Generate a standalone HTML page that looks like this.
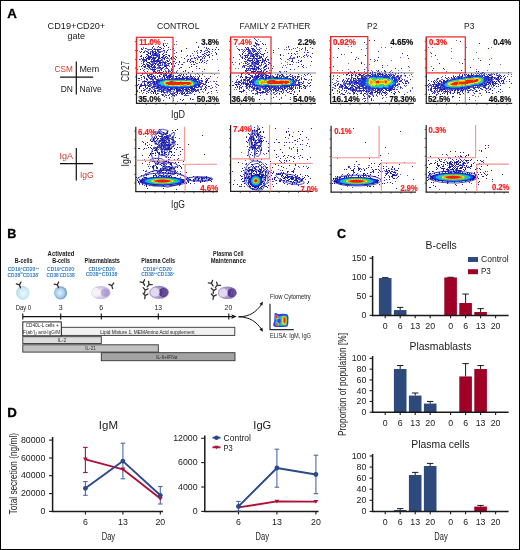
<!DOCTYPE html>
<html><head><meta charset="utf-8"><title>Figure</title>
<style>
html,body{margin:0;padding:0;background:#fff;}
#fig{will-change:transform;position:relative;width:520px;height:550px;box-sizing:border-box;border:1px solid #000;overflow:hidden;background:#fff;}
#fig svg{position:absolute;left:-1px;top:-1px;}
text{font-family:"Liberation Sans", sans-serif;}
</style></head>
<body><div id="fig"><svg width="520" height="550" viewBox="0 0 520 550" font-family='"Liberation Sans", sans-serif'>
<text x="7.2" y="17.9" font-size="12.6" font-weight="bold" textLength="9.6" lengthAdjust="spacingAndGlyphs" fill="#000" stroke="#000" stroke-width="0.3">A</text>
<text x="7.3" y="237.6" font-size="12.6" font-weight="bold" fill="#000" stroke="#000" stroke-width="0.3">B</text>
<text x="337.0" y="237.6" font-size="12.6" font-weight="bold" fill="#000" stroke="#000" stroke-width="0.3">C</text>
<text x="7.3" y="416.8" font-size="12.6" font-weight="bold" textLength="9.6" lengthAdjust="spacingAndGlyphs" fill="#000" stroke="#000" stroke-width="0.3">D</text>
<text x="76.4" y="28.9" font-size="9" text-anchor="middle" textLength="57.6" lengthAdjust="spacingAndGlyphs" fill="#1a1a1a">CD19+CD20+</text>
<text x="76.2" y="38.7" font-size="9" text-anchor="middle" fill="#1a1a1a">gate</text>
<line x1="76.3" y1="61.6" x2="76.3" y2="94.4" stroke="#111" stroke-width="1.2"/>
<line x1="60.1" y1="77.2" x2="93.2" y2="77.2" stroke="#111" stroke-width="1.2"/>
<text x="72.9" y="71.6" font-size="9" text-anchor="end" textLength="18.3" lengthAdjust="spacingAndGlyphs" fill="#cc3b2a">CSM</text>
<text x="79.4" y="71.6" font-size="9" textLength="19.8" lengthAdjust="spacingAndGlyphs" fill="#1a1a1a">Mem</text>
<text x="72.9" y="91.6" font-size="9" text-anchor="end" textLength="12.2" lengthAdjust="spacingAndGlyphs" fill="#1a1a1a">DN</text>
<text x="79.4" y="91.6" font-size="9" textLength="22.4" lengthAdjust="spacingAndGlyphs" fill="#1a1a1a">Na&#239;ve</text>
<line x1="76.3" y1="147.9" x2="76.3" y2="180.6" stroke="#111" stroke-width="1.2"/>
<line x1="60.0" y1="163.6" x2="93.0" y2="163.6" stroke="#111" stroke-width="1.2"/>
<text x="73.0" y="158.5" font-size="9.5" text-anchor="end" textLength="13.5" lengthAdjust="spacingAndGlyphs" fill="#cc3b2a">IgA</text>
<text x="80.0" y="177.7" font-size="9.5" textLength="13.7" lengthAdjust="spacingAndGlyphs" fill="#cc3b2a">IgG</text>
<text x="178.2" y="28.9" font-size="9.6" text-anchor="middle" textLength="42.6" lengthAdjust="spacingAndGlyphs" fill="#1a1a1a">CONTROL</text>
<text x="275.0" y="28.8" font-size="9.6" text-anchor="middle" textLength="70.8" lengthAdjust="spacingAndGlyphs" fill="#1a1a1a">FAMILY 2 FATHER</text>
<text x="372.2" y="28.8" font-size="9.6" text-anchor="middle" textLength="10.4" lengthAdjust="spacingAndGlyphs" fill="#1a1a1a">P2</text>
<text x="469.2" y="28.8" font-size="9.6" text-anchor="middle" textLength="10.4" lengthAdjust="spacingAndGlyphs" fill="#1a1a1a">P3</text>
<text x="128.6" y="71.4" font-size="10.5" text-anchor="middle" textLength="20.6" lengthAdjust="spacingAndGlyphs" transform="rotate(-90 128.6 71.4)" fill="#1a1a1a">CD27</text>
<text x="178.0" y="118.2" font-size="10" text-anchor="middle" textLength="14.0" lengthAdjust="spacingAndGlyphs" fill="#1a1a1a">IgD</text>
<text x="128.8" y="160.0" font-size="10" text-anchor="middle" textLength="13.0" lengthAdjust="spacingAndGlyphs" transform="rotate(-90 128.8 160.0)" fill="#1a1a1a">IgA</text>
<text x="178.0" y="207.5" font-size="10" text-anchor="middle" textLength="13.8" lengthAdjust="spacingAndGlyphs" fill="#1a1a1a">IgG</text>
<defs><filter id="bl" x="-20%" y="-40%" width="140%" height="180%"><feGaussianBlur stdDeviation="0.9"/></filter><filter id="bl2" x="-20%" y="-40%" width="140%" height="180%"><feGaussianBlur stdDeviation="0.5"/></filter><filter id="sd" x="-5%" y="-5%" width="110%" height="110%"><feGaussianBlur stdDeviation="0.35"/></filter></defs>
<g filter="url(#sd)"><path d="M164 40.5h1M176 41.5h1M165 43.5h1M167 43.5h1M174 44.5h1M176 44.5h1M198 46.5h1M143 47.5h1M157 47.5h1M159 47.5h1M204 47.5h1M206 47.5h1M143 48.5h1M146 48.5h1M152 48.5h1M154 48.5h1M141 49.5h1M147 49.5h1M148 49.5h1M149 49.5h1M150 49.5h1M153 49.5h1M156 49.5h1M168 49.5h1M170 49.5h1M172 49.5h1M207 49.5h1M209 49.5h1M137 50.5h1M145 50.5h1M148 50.5h1M155 50.5h1M158 50.5h1M174 50.5h1M197 50.5h1M205 50.5h1M206 50.5h1M207 50.5h1M139 51.5h1M147 51.5h1M150 51.5h1M151 51.5h1M153 51.5h1M154 51.5h1M157 51.5h1M159 51.5h1M160 51.5h1M161 51.5h1M162 51.5h1M164 51.5h1M166 51.5h1M194 51.5h1M196 51.5h1M201 51.5h1M209 51.5h1M212 51.5h1M144 52.5h1M147 52.5h1M158 52.5h1M160 52.5h1M164 52.5h1M197 52.5h1M206 52.5h1M149 53.5h1M152 53.5h1M153 53.5h1M156 53.5h1M157 53.5h1M158 53.5h1M174 53.5h1M192 53.5h1M197 53.5h1M205 53.5h1M211 53.5h1M153 54.5h1M157 54.5h1M158 54.5h1M165 54.5h1M208 54.5h1M147 55.5h1M152 55.5h1M158 55.5h1M190 55.5h1M193 55.5h1M151 56.5h1M153 56.5h1M156 56.5h1M158 56.5h1M162 56.5h1M165 56.5h1M172 56.5h1M186 56.5h1M201 56.5h1M209 56.5h1M147 57.5h1M152 57.5h1M154 57.5h1M156 57.5h1M163 57.5h1M164 57.5h1M181 57.5h1M196 57.5h1M198 57.5h1M202 57.5h1M204 57.5h1M150 58.5h1M160 58.5h1M162 58.5h1M163 58.5h1M166 58.5h1M167 58.5h1M168 58.5h1M170 58.5h1M192 58.5h1M194 58.5h1M197 58.5h1M140 59.5h1M145 59.5h1M152 59.5h1M153 59.5h1M162 59.5h1M169 59.5h1M171 59.5h1M187 59.5h1M212 59.5h1M217 59.5h1M142 60.5h1M143 60.5h1M144 60.5h1M151 60.5h1M155 60.5h1M159 60.5h1M161 60.5h1M162 60.5h1M166 60.5h1M169 60.5h1M187 60.5h1M195 60.5h1M202 60.5h1M204 60.5h1M141 61.5h1M150 61.5h1M160 61.5h1M162 61.5h1M163 61.5h1M165 61.5h1M189 61.5h1M191 61.5h1M206 61.5h1M151 62.5h1M152 62.5h1M153 62.5h1M154 62.5h1M156 62.5h1M157 62.5h1M162 62.5h1M166 62.5h1M176 62.5h1M183 62.5h1M184 62.5h1M141 63.5h1M143 63.5h1M146 63.5h1M150 63.5h1M152 63.5h1M153 63.5h1M156 63.5h1M158 63.5h1M162 63.5h1M167 63.5h1M173 63.5h1M196 63.5h1M197 63.5h1M206 63.5h1M146 64.5h1M148 64.5h1M150 64.5h1M153 64.5h1M160 64.5h1M164 64.5h1M165 64.5h1M166 64.5h1M168 64.5h1M181 64.5h1M193 64.5h1M157 65.5h1M158 65.5h1M161 65.5h1M162 65.5h1M174 65.5h1M139 66.5h1M143 66.5h1M149 66.5h1M153 66.5h1M155 66.5h1M158 66.5h1M159 66.5h1M166 66.5h1M169 66.5h1M145 67.5h1M148 67.5h1M151 67.5h1M157 67.5h1M158 67.5h1M162 67.5h1M172 67.5h1M180 67.5h1M142 68.5h1M146 68.5h1M147 68.5h1M149 68.5h1M150 68.5h1M152 68.5h1M154 68.5h1M156 68.5h1M157 68.5h1M158 68.5h1M159 68.5h1M160 68.5h1M165 68.5h1M166 68.5h1M171 68.5h1M196 68.5h1M137 69.5h1M144 69.5h1M148 69.5h1M150 69.5h1M160 69.5h1M164 69.5h1M171 69.5h1M152 70.5h1M153 70.5h1M157 70.5h1M158 70.5h1M165 70.5h1M168 70.5h1M169 70.5h1M177 70.5h1M218 70.5h1M144 71.5h1M155 71.5h1M157 71.5h1M159 71.5h1M165 71.5h1M166 71.5h1M169 71.5h1M170 71.5h1M176 71.5h1M185 71.5h1M202 71.5h1M145 72.5h1M174 72.5h1M146 73.5h1M155 73.5h1M158 73.5h1M159 73.5h1M160 73.5h1M164 73.5h1M167 73.5h1M175 73.5h1M180 73.5h1M211 73.5h1M142 74.5h1M149 74.5h1M152 74.5h1M160 74.5h1M163 74.5h1M164 74.5h1M165 74.5h1M169 74.5h1M179 74.5h1M190 74.5h1M195 74.5h1M198 74.5h1M214 74.5h1M140 75.5h1M151 75.5h1M155 75.5h1M164 75.5h1M171 75.5h1M199 75.5h1M144 76.5h1M147 76.5h1M152 76.5h1M160 76.5h1M166 76.5h1M177 76.5h1M180 76.5h1M186 76.5h1M195 76.5h1M197 76.5h1M204 76.5h1M149 77.5h1M151 77.5h1M154 77.5h1M157 77.5h1M168 77.5h1M172 77.5h1M173 77.5h1M178 77.5h1M185 77.5h1M187 77.5h1M189 77.5h1M190 77.5h1M191 77.5h1M194 77.5h1M217 77.5h1M152 78.5h1M158 78.5h1M160 78.5h1M161 78.5h1M162 78.5h1M165 78.5h1M168 78.5h1M173 78.5h1M174 78.5h1M178 78.5h1M189 78.5h1M190 78.5h1M193 78.5h1M197 78.5h1M209 78.5h1M141 79.5h1M150 79.5h1M151 79.5h1M155 79.5h1M158 79.5h1M159 79.5h1M160 79.5h1M161 79.5h1M163 79.5h1M192 79.5h1M205 79.5h1M138 80.5h1M139 80.5h1M144 80.5h1M147 80.5h1M152 80.5h1M153 80.5h1M156 80.5h1M198 80.5h1M199 80.5h1M200 80.5h1M202 80.5h1M142 81.5h1M148 81.5h1M149 81.5h1M150 81.5h1M152 81.5h1M155 81.5h1M198 81.5h1M201 81.5h1M210 81.5h1M213 81.5h1M214 81.5h1M142 82.5h1M144 82.5h1M152 82.5h1M155 82.5h1M198 82.5h1M201 82.5h1M205 82.5h1M141 83.5h1M147 83.5h1M150 83.5h1M151 83.5h1M152 83.5h1M153 83.5h1M155 83.5h1M198 83.5h1M199 83.5h1M200 83.5h1M203 83.5h1M205 83.5h1M215 83.5h1M140 84.5h1M145 84.5h1M147 84.5h1M150 84.5h1M151 84.5h1M156 84.5h1M217 84.5h1M146 85.5h1M147 85.5h1M149 85.5h1M150 85.5h1M151 85.5h1M153 85.5h1M154 85.5h1M155 85.5h1M156 85.5h1M197 85.5h1M211 85.5h1M139 86.5h1M141 86.5h1M150 86.5h1M152 86.5h1M156 86.5h1M159 86.5h1M196 86.5h1M200 86.5h1M201 86.5h1M202 86.5h1M215 86.5h1M153 87.5h1M154 87.5h1M156 87.5h1M160 87.5h1M195 87.5h1M198 87.5h1M200 87.5h1M201 87.5h1M206 87.5h1M216 87.5h1M147 88.5h1M150 88.5h1M152 88.5h1M154 88.5h1M155 88.5h1M158 88.5h1M159 88.5h1M160 88.5h1M162 88.5h1M163 88.5h1M166 88.5h1M168 88.5h1M173 88.5h1M174 88.5h1M178 88.5h1M180 88.5h1M185 88.5h1M187 88.5h1M201 88.5h1M206 88.5h1M210 88.5h1M211 88.5h1M144 89.5h1M145 89.5h1M149 89.5h1M150 89.5h1M153 89.5h1M154 89.5h1M158 89.5h1M161 89.5h1M162 89.5h1M164 89.5h1M165 89.5h1M166 89.5h1M172 89.5h1M173 89.5h1M183 89.5h1M187 89.5h1M197 89.5h1M203 89.5h1M137 90.5h1M151 90.5h1M158 90.5h1M159 90.5h1M162 90.5h1M164 90.5h1M165 90.5h1M166 90.5h1M167 90.5h1M174 90.5h1M182 90.5h1M185 90.5h1M189 90.5h1M190 90.5h1M192 90.5h1M193 90.5h1M195 90.5h1M198 90.5h1M141 91.5h1M146 91.5h1M147 91.5h1M157 91.5h1M158 91.5h1M159 91.5h1M160 91.5h1M166 91.5h1M168 91.5h1M169 91.5h1M170 91.5h1M171 91.5h1M173 91.5h1M178 91.5h1M179 91.5h1M180 91.5h1M181 91.5h1M182 91.5h1M183 91.5h1M185 91.5h1M186 91.5h1M187 91.5h1M189 91.5h1M192 91.5h1M196 91.5h1M198 91.5h1M202 91.5h1M139 92.5h1M143 92.5h1M150 92.5h1M165 92.5h1M166 92.5h1M167 92.5h1M169 92.5h1M170 92.5h1M173 92.5h1M174 92.5h1M175 92.5h1M176 92.5h1M180 92.5h1M181 92.5h1M189 92.5h1M192 92.5h1M203 92.5h1M217 92.5h1M142 93.5h1M151 93.5h1M158 93.5h1M164 93.5h1M167 93.5h1M171 93.5h1M173 93.5h1M182 93.5h1M188 93.5h1M189 93.5h1M190 93.5h1M191 93.5h1M211 93.5h1M161 94.5h1M163 94.5h1M165 94.5h1M172 94.5h1M173 94.5h1M175 94.5h1M181 94.5h1M163 95.5h1M165 95.5h1M176 95.5h1M185 95.5h1M187 95.5h1M188 95.5h1M171 96.5h1M174 96.5h1M166 97.5h1M169 97.5h1M173 98.5h1M190 99.5h1M193 99.5h1M177 101.5h1" stroke="#6262d2" stroke-width="1"/><path d="M196 42.5h1M163 43.5h1M163 44.5h1M163 45.5h1M166 45.5h1M153 46.5h1M158 46.5h1M164 46.5h1M152 47.5h1M160 47.5h1M168 47.5h1M198 47.5h1M216 47.5h1M141 48.5h1M145 48.5h1M161 48.5h1M163 48.5h1M173 48.5h1M186 48.5h1M206 48.5h1M208 48.5h1M142 49.5h1M151 49.5h1M154 49.5h1M155 49.5h1M157 49.5h1M158 49.5h1M159 49.5h1M160 49.5h1M212 49.5h1M215 49.5h1M218 49.5h1M152 50.5h1M157 50.5h1M163 50.5h1M164 50.5h1M167 50.5h1M181 50.5h1M200 50.5h1M201 50.5h1M141 51.5h1M144 51.5h1M146 51.5h1M152 51.5h1M155 51.5h1M158 51.5h1M181 51.5h1M204 51.5h1M208 51.5h1M140 52.5h1M143 52.5h1M148 52.5h1M150 52.5h1M152 52.5h1M153 52.5h1M155 52.5h1M156 52.5h1M159 52.5h1M166 52.5h1M176 52.5h1M200 52.5h1M207 52.5h1M209 52.5h1M215 52.5h1M148 53.5h1M150 53.5h1M154 53.5h1M155 53.5h1M163 53.5h1M204 53.5h1M216 53.5h1M146 54.5h1M147 54.5h1M150 54.5h1M152 54.5h1M154 54.5h1M155 54.5h1M156 54.5h1M159 54.5h1M162 54.5h1M166 54.5h1M202 54.5h1M203 54.5h1M206 54.5h1M209 54.5h1M216 54.5h1M141 55.5h1M148 55.5h1M151 55.5h1M153 55.5h1M154 55.5h1M155 55.5h1M156 55.5h1M157 55.5h1M159 55.5h1M163 55.5h1M164 55.5h1M168 55.5h1M169 55.5h1M187 55.5h1M197 55.5h1M204 55.5h1M207 55.5h1M208 55.5h1M212 55.5h1M140 56.5h1M141 56.5h1M146 56.5h1M148 56.5h1M149 56.5h1M150 56.5h1M157 56.5h1M159 56.5h1M163 56.5h1M166 56.5h1M169 56.5h1M175 56.5h1M190 56.5h1M198 56.5h1M200 56.5h1M203 56.5h1M205 56.5h1M143 57.5h1M145 57.5h1M148 57.5h1M149 57.5h1M150 57.5h1M151 57.5h1M153 57.5h1M155 57.5h1M158 57.5h1M159 57.5h1M161 57.5h1M162 57.5h1M165 57.5h1M167 57.5h1M171 57.5h1M173 57.5h1M176 57.5h1M194 57.5h1M199 57.5h1M209 57.5h1M141 58.5h1M143 58.5h1M146 58.5h1M147 58.5h1M148 58.5h1M149 58.5h1M152 58.5h1M153 58.5h1M154 58.5h1M155 58.5h1M158 58.5h1M159 58.5h1M164 58.5h1M171 58.5h1M174 58.5h1M184 58.5h1M191 58.5h1M195 58.5h1M202 58.5h1M204 58.5h1M139 59.5h1M142 59.5h1M143 59.5h1M144 59.5h1M146 59.5h1M148 59.5h1M149 59.5h1M151 59.5h1M154 59.5h1M157 59.5h1M158 59.5h1M161 59.5h1M164 59.5h1M175 59.5h1M188 59.5h1M190 59.5h1M197 59.5h1M200 59.5h1M201 59.5h1M145 60.5h1M146 60.5h1M153 60.5h1M154 60.5h1M156 60.5h1M157 60.5h1M158 60.5h1M160 60.5h1M167 60.5h1M190 60.5h1M200 60.5h1M207 60.5h1M143 61.5h1M144 61.5h1M146 61.5h1M151 61.5h1M152 61.5h1M153 61.5h1M154 61.5h1M155 61.5h1M156 61.5h1M157 61.5h1M158 61.5h1M159 61.5h1M167 61.5h1M168 61.5h1M173 61.5h1M174 61.5h1M179 61.5h1M187 61.5h1M192 61.5h1M193 61.5h1M202 61.5h1M143 62.5h1M147 62.5h1M148 62.5h1M149 62.5h1M159 62.5h1M160 62.5h1M161 62.5h1M163 62.5h1M164 62.5h1M165 62.5h1M170 62.5h1M179 62.5h1M190 62.5h1M193 62.5h1M195 62.5h1M199 62.5h1M201 62.5h1M204 62.5h1M149 63.5h1M154 63.5h1M155 63.5h1M159 63.5h1M160 63.5h1M164 63.5h1M165 63.5h1M168 63.5h1M169 63.5h1M171 63.5h1M175 63.5h1M143 64.5h1M144 64.5h1M147 64.5h1M151 64.5h1M152 64.5h1M155 64.5h1M157 64.5h1M158 64.5h1M162 64.5h1M171 64.5h1M178 64.5h1M182 64.5h1M191 64.5h1M194 64.5h1M142 65.5h1M145 65.5h1M147 65.5h1M148 65.5h1M149 65.5h1M151 65.5h1M152 65.5h1M154 65.5h1M159 65.5h1M160 65.5h1M164 65.5h1M165 65.5h1M166 65.5h1M167 65.5h1M168 65.5h1M141 66.5h1M144 66.5h1M145 66.5h1M147 66.5h1M148 66.5h1M150 66.5h1M151 66.5h1M154 66.5h1M164 66.5h1M165 66.5h1M172 66.5h1M174 66.5h1M191 66.5h1M196 66.5h1M144 67.5h1M149 67.5h1M152 67.5h1M153 67.5h1M154 67.5h1M155 67.5h1M159 67.5h1M160 67.5h1M163 67.5h1M166 67.5h1M181 67.5h1M189 67.5h1M161 68.5h1M162 68.5h1M167 68.5h1M179 68.5h1M199 68.5h1M140 69.5h1M151 69.5h1M152 69.5h1M153 69.5h1M154 69.5h1M155 69.5h1M161 69.5h1M168 69.5h1M172 69.5h1M204 69.5h1M143 70.5h1M154 70.5h1M159 70.5h1M161 70.5h1M171 70.5h1M185 70.5h1M147 71.5h1M153 71.5h1M154 71.5h1M163 71.5h1M168 71.5h1M172 71.5h1M183 71.5h1M192 71.5h1M153 72.5h1M155 72.5h1M156 72.5h1M158 72.5h1M159 72.5h1M160 72.5h1M161 72.5h1M162 72.5h1M166 72.5h1M168 72.5h1M171 72.5h1M176 72.5h1M188 72.5h1M142 73.5h1M144 73.5h1M157 73.5h1M163 73.5h1M165 73.5h1M177 73.5h1M197 73.5h1M147 74.5h1M150 74.5h1M151 74.5h1M161 74.5h1M166 74.5h1M170 74.5h1M171 74.5h1M181 74.5h1M183 74.5h1M186 74.5h1M202 74.5h1M141 75.5h1M147 75.5h1M148 75.5h1M149 75.5h1M153 75.5h1M159 75.5h1M163 75.5h1M165 75.5h1M166 75.5h1M168 75.5h1M169 75.5h1M170 75.5h1M173 75.5h1M178 75.5h1M179 75.5h1M180 75.5h1M183 75.5h1M190 75.5h1M143 76.5h1M148 76.5h1M150 76.5h1M151 76.5h1M153 76.5h1M154 76.5h1M157 76.5h1M159 76.5h1M163 76.5h1M164 76.5h1M167 76.5h1M168 76.5h1M169 76.5h1M170 76.5h1M171 76.5h1M172 76.5h1M173 76.5h1M175 76.5h1M176 76.5h1M182 76.5h1M184 76.5h1M187 76.5h1M188 76.5h1M190 76.5h1M191 76.5h1M193 76.5h1M199 76.5h1M210 76.5h1M141 77.5h1M144 77.5h1M148 77.5h1M152 77.5h1M155 77.5h1M162 77.5h1M164 77.5h1M166 77.5h1M167 77.5h1M169 77.5h1M170 77.5h1M176 77.5h1M179 77.5h1M182 77.5h1M183 77.5h1M186 77.5h1M192 77.5h1M198 77.5h1M138 78.5h1M139 78.5h1M144 78.5h1M146 78.5h1M149 78.5h1M150 78.5h1M151 78.5h1M154 78.5h1M155 78.5h1M164 78.5h1M167 78.5h1M169 78.5h1M171 78.5h1M172 78.5h1M175 78.5h1M176 78.5h1M177 78.5h1M179 78.5h1M180 78.5h1M181 78.5h1M182 78.5h1M183 78.5h1M184 78.5h1M185 78.5h1M186 78.5h1M187 78.5h1M188 78.5h1M191 78.5h1M192 78.5h1M194 78.5h1M195 78.5h1M198 78.5h1M201 78.5h1M206 78.5h1M208 78.5h1M146 79.5h1M147 79.5h1M152 79.5h1M153 79.5h1M156 79.5h1M157 79.5h1M162 79.5h1M191 79.5h1M193 79.5h1M194 79.5h1M195 79.5h1M196 79.5h1M197 79.5h1M198 79.5h1M207 79.5h1M157 80.5h1M158 80.5h1M159 80.5h1M201 80.5h1M206 80.5h1M207 80.5h1M143 81.5h1M144 81.5h1M145 81.5h1M146 81.5h1M151 81.5h1M153 81.5h1M154 81.5h1M156 81.5h1M199 81.5h1M202 81.5h1M205 81.5h1M206 81.5h1M216 81.5h1M147 82.5h1M148 82.5h1M149 82.5h1M150 82.5h1M153 82.5h1M154 82.5h1M156 82.5h1M199 82.5h1M200 82.5h1M206 82.5h1M208 82.5h1M144 83.5h1M148 83.5h1M154 83.5h1M156 83.5h1M201 83.5h1M202 83.5h1M138 84.5h1M141 84.5h1M144 84.5h1M149 84.5h1M153 84.5h1M154 84.5h1M155 84.5h1M198 84.5h1M199 84.5h1M200 84.5h1M203 84.5h1M204 84.5h1M205 84.5h1M216 84.5h1M137 85.5h1M140 85.5h1M141 85.5h1M142 85.5h1M143 85.5h1M144 85.5h1M145 85.5h1M148 85.5h1M198 85.5h1M199 85.5h1M202 85.5h1M206 85.5h1M218 85.5h1M140 86.5h1M145 86.5h1M148 86.5h1M149 86.5h1M153 86.5h1M154 86.5h1M155 86.5h1M157 86.5h1M158 86.5h1M194 86.5h1M195 86.5h1M198 86.5h1M199 86.5h1M205 86.5h1M208 86.5h1M209 86.5h1M139 87.5h1M145 87.5h1M147 87.5h1M151 87.5h1M152 87.5h1M157 87.5h1M158 87.5h1M159 87.5h1M161 87.5h1M189 87.5h1M190 87.5h1M191 87.5h1M192 87.5h1M194 87.5h1M196 87.5h1M197 87.5h1M205 87.5h1M212 87.5h1M139 88.5h1M143 88.5h1M146 88.5h1M149 88.5h1M156 88.5h1M157 88.5h1M161 88.5h1M164 88.5h1M165 88.5h1M167 88.5h1M170 88.5h1M171 88.5h1M172 88.5h1M175 88.5h1M176 88.5h1M177 88.5h1M181 88.5h1M182 88.5h1M183 88.5h1M186 88.5h1M188 88.5h1M190 88.5h1M191 88.5h1M192 88.5h1M193 88.5h1M194 88.5h1M204 88.5h1M159 89.5h1M160 89.5h1M163 89.5h1M167 89.5h1M168 89.5h1M169 89.5h1M170 89.5h1M171 89.5h1M174 89.5h1M176 89.5h1M177 89.5h1M178 89.5h1M179 89.5h1M180 89.5h1M182 89.5h1M184 89.5h1M185 89.5h1M186 89.5h1M188 89.5h1M189 89.5h1M191 89.5h1M192 89.5h1M193 89.5h1M194 89.5h1M195 89.5h1M198 89.5h1M200 89.5h1M201 89.5h1M205 89.5h1M141 90.5h1M143 90.5h1M144 90.5h1M148 90.5h1M149 90.5h1M154 90.5h1M155 90.5h1M157 90.5h1M161 90.5h1M163 90.5h1M168 90.5h1M169 90.5h1M170 90.5h1M176 90.5h1M177 90.5h1M178 90.5h1M179 90.5h1M180 90.5h1M181 90.5h1M183 90.5h1M186 90.5h1M187 90.5h1M191 90.5h1M194 90.5h1M196 90.5h1M197 90.5h1M205 90.5h1M216 90.5h1M137 91.5h1M151 91.5h1M152 91.5h1M154 91.5h1M155 91.5h1M161 91.5h1M162 91.5h1M163 91.5h1M167 91.5h1M176 91.5h1M177 91.5h1M188 91.5h1M191 91.5h1M193 91.5h1M195 91.5h1M211 91.5h1M148 92.5h1M153 92.5h1M155 92.5h1M161 92.5h1M163 92.5h1M164 92.5h1M177 92.5h1M182 92.5h1M184 92.5h1M187 92.5h1M190 92.5h1M199 92.5h1M208 92.5h1M146 93.5h1M153 93.5h1M155 93.5h1M157 93.5h1M170 93.5h1M172 93.5h1M174 93.5h1M177 93.5h1M179 93.5h1M181 93.5h1M183 93.5h1M184 93.5h1M186 93.5h1M187 93.5h1M207 93.5h1M156 94.5h1M162 94.5h1M169 94.5h1M171 94.5h1M176 94.5h1M182 94.5h1M185 94.5h1M194 94.5h1M162 95.5h1M166 95.5h1M168 95.5h1M172 95.5h1M173 95.5h1M174 95.5h1M184 95.5h1M186 95.5h1M164 96.5h1M169 98.5h1M190 98.5h1M180 99.5h1M183 99.5h1M192 99.5h1M163 100.5h1M173 100.5h1M182 100.5h1" stroke="#2222ac" stroke-width="1"/><path d="M164 79.5h1M165 79.5h1M166 79.5h1M167 79.5h1M168 79.5h1M169 79.5h1M170 79.5h1M171 79.5h1M172 79.5h1M173 79.5h1M174 79.5h1M175 79.5h1M176 79.5h1M177 79.5h1M178 79.5h1M179 79.5h1M180 79.5h1M181 79.5h1M182 79.5h1M183 79.5h1M184 79.5h1M186 79.5h1M187 79.5h1M188 79.5h1M189 79.5h1M190 79.5h1M160 80.5h1M161 80.5h1M162 80.5h1M192 80.5h1M193 80.5h1M194 80.5h1M195 80.5h1M196 80.5h1M157 81.5h1M158 81.5h1M159 81.5h1M194 81.5h1M195 81.5h1M196 81.5h1M197 81.5h1M157 82.5h1M158 82.5h1M197 82.5h1M157 83.5h1M197 83.5h1M157 84.5h1M158 84.5h1M195 84.5h1M196 84.5h1M197 84.5h1M157 85.5h1M158 85.5h1M159 85.5h1M160 85.5h1M194 85.5h1M195 85.5h1M196 85.5h1M160 86.5h1M161 86.5h1M162 86.5h1M163 86.5h1M164 86.5h1M190 86.5h1M191 86.5h1M192 86.5h1M193 86.5h1M162 87.5h1M163 87.5h1M164 87.5h1M165 87.5h1M166 87.5h1M167 87.5h1M168 87.5h1M169 87.5h1M170 87.5h1M171 87.5h1M172 87.5h1M173 87.5h1M174 87.5h1M175 87.5h1M176 87.5h1M177 87.5h1M178 87.5h1M179 87.5h1M180 87.5h1M181 87.5h1M182 87.5h1M183 87.5h1M184 87.5h1M185 87.5h1M186 87.5h1M187 87.5h1M188 87.5h1M179 88.5h1" stroke="#2438d8" stroke-width="1"/><path d="M163 80.5h1M164 80.5h1M185 80.5h1M186 80.5h1M191 80.5h1M160 81.5h1M161 81.5h1M193 81.5h1M159 82.5h1M194 82.5h1M195 82.5h1M196 82.5h1M158 83.5h1M159 83.5h1M194 83.5h1M195 83.5h1M196 83.5h1M159 84.5h1M160 84.5h1M194 84.5h1M161 85.5h1M162 85.5h1M163 85.5h1M193 85.5h1M165 86.5h1M166 86.5h1M167 86.5h1M168 86.5h1M169 86.5h1M170 86.5h1M171 86.5h1M174 86.5h1M175 86.5h1M176 86.5h1M177 86.5h1M180 86.5h1M181 86.5h1M182 86.5h1M183 86.5h1M184 86.5h1M185 86.5h1M186 86.5h1M187 86.5h1M188 86.5h1M189 86.5h1" stroke="#1f86ee" stroke-width="1"/><path d="M165 80.5h1M166 80.5h1M167 80.5h1M168 80.5h1M169 80.5h1M170 80.5h1M174 80.5h1M175 80.5h1M176 80.5h1M177 80.5h1M178 80.5h1M179 80.5h1M180 80.5h1M181 80.5h1M182 80.5h1M183 80.5h1M184 80.5h1M187 80.5h1M188 80.5h1M189 80.5h1M190 80.5h1M162 81.5h1M163 81.5h1M192 81.5h1M160 82.5h1M161 82.5h1M193 82.5h1M160 83.5h1M161 84.5h1M162 84.5h1M193 84.5h1M164 85.5h1M192 85.5h1M172 86.5h1M173 86.5h1M178 86.5h1M179 86.5h1" stroke="#22c8d8" stroke-width="1"/><path d="M171 80.5h1M172 80.5h1M173 80.5h1M164 81.5h1M191 81.5h1M162 82.5h1M163 82.5h1M192 82.5h1M161 83.5h1M162 83.5h1M163 83.5h1M193 83.5h1M163 84.5h1M164 84.5h1M165 85.5h1M166 85.5h1M167 85.5h1M168 85.5h1M180 85.5h1M183 85.5h1M184 85.5h1M185 85.5h1M186 85.5h1M190 85.5h1M191 85.5h1" stroke="#48d448" stroke-width="1"/><path d="M165 81.5h1M166 81.5h1M167 81.5h1M168 81.5h1M176 81.5h1M177 81.5h1M178 81.5h1M179 81.5h1M182 81.5h1M183 81.5h1M184 81.5h1M185 81.5h1M186 81.5h1M187 81.5h1M188 81.5h1M189 81.5h1M190 81.5h1M164 82.5h1M164 83.5h1M192 83.5h1M165 84.5h1M191 84.5h1M192 84.5h1M169 85.5h1M170 85.5h1M171 85.5h1M172 85.5h1M173 85.5h1M174 85.5h1M175 85.5h1M176 85.5h1M177 85.5h1M178 85.5h1M179 85.5h1M181 85.5h1M182 85.5h1M187 85.5h1M188 85.5h1M189 85.5h1" stroke="#e8ea18" stroke-width="1"/><path d="M169 81.5h1M173 81.5h1M174 81.5h1M175 81.5h1M180 81.5h1M181 81.5h1M165 82.5h1M190 82.5h1M191 82.5h1M165 83.5h1M191 83.5h1M166 84.5h1M167 84.5h1M180 84.5h1M183 84.5h1M184 84.5h1M185 84.5h1M186 84.5h1M189 84.5h1M190 84.5h1" stroke="#ff9a00" stroke-width="1"/><path d="M170 81.5h1M171 81.5h1M172 81.5h1M166 82.5h1M167 82.5h1M168 82.5h1M169 82.5h1M170 82.5h1M171 82.5h1M172 82.5h1M173 82.5h1M174 82.5h1M175 82.5h1M176 82.5h1M177 82.5h1M178 82.5h1M179 82.5h1M180 82.5h1M181 82.5h1M182 82.5h1M183 82.5h1M184 82.5h1M185 82.5h1M186 82.5h1M187 82.5h1M188 82.5h1M189 82.5h1M166 83.5h1M167 83.5h1M168 83.5h1M169 83.5h1M170 83.5h1M171 83.5h1M172 83.5h1M173 83.5h1M174 83.5h1M175 83.5h1M176 83.5h1M177 83.5h1M178 83.5h1M179 83.5h1M180 83.5h1M181 83.5h1M182 83.5h1M183 83.5h1M184 83.5h1M185 83.5h1M186 83.5h1M187 83.5h1M188 83.5h1M189 83.5h1M190 83.5h1M168 84.5h1M169 84.5h1M170 84.5h1M171 84.5h1M172 84.5h1M173 84.5h1M174 84.5h1M175 84.5h1M176 84.5h1M177 84.5h1M178 84.5h1M179 84.5h1M181 84.5h1M182 84.5h1M187 84.5h1M188 84.5h1" stroke="#f42410" stroke-width="1"/></g>
<line x1="136.5" y1="37.3" x2="136.5" y2="103.8" stroke="#222" stroke-width="1.2"/><line x1="136.0" y1="103.3" x2="220.0" y2="103.3" stroke="#222" stroke-width="1.2"/><path d="M134.9 94.5h1.6M134.9 85.7h1.6M134.9 76.9h1.6M134.9 68.1h1.6M134.9 59.3h1.6M134.9 50.5h1.6M134.9 41.7h1.6M146.3 103.3v1.6M156.1 103.3v1.6M166.0 103.3v1.6M175.8 103.3v1.6M185.6 103.3v1.6M195.4 103.3v1.6M205.3 103.3v1.6M215.1 103.3v1.6" stroke="#222" stroke-width="0.7" fill="none"/>
<path d="M173.0 73.2H220.0M173.0 73.2V103.3" stroke="#6a6a6a" stroke-width="0.8" fill="none"/>
<rect x="136.5" y="37.3" width="36.5" height="35.9" fill="none" stroke="#e52525" stroke-width="1.2"/>
<g filter="url(#sd)"><path d="M254 38.5h1M256 40.5h1M255 42.5h1M255 43.5h1M256 43.5h1M262 43.5h1M256 44.5h1M258 44.5h1M263 44.5h1M265 44.5h1M254 45.5h1M255 46.5h1M288 46.5h1M245 47.5h1M247 47.5h1M297 47.5h1M305 47.5h1M246 48.5h1M248 48.5h1M251 48.5h1M252 48.5h1M253 48.5h1M293 48.5h1M305 48.5h1M312 48.5h1M238 49.5h1M246 49.5h1M247 49.5h1M248 49.5h1M252 49.5h1M254 49.5h1M259 49.5h1M289 49.5h1M301 49.5h1M239 50.5h1M248 50.5h1M249 50.5h1M255 50.5h1M265 50.5h1M273 50.5h1M307 50.5h1M244 51.5h1M250 51.5h1M254 51.5h1M296 51.5h1M243 52.5h1M249 52.5h1M253 52.5h1M257 52.5h1M267 52.5h1M273 52.5h1M304 52.5h1M307 52.5h1M242 53.5h1M248 53.5h1M249 53.5h1M251 53.5h1M255 53.5h1M256 53.5h1M258 53.5h1M260 53.5h1M264 53.5h1M288 53.5h1M291 53.5h1M312 53.5h1M239 54.5h1M242 54.5h1M253 54.5h1M256 54.5h1M257 54.5h1M261 54.5h1M262 54.5h1M263 54.5h1M280 54.5h1M295 54.5h1M306 54.5h1M240 55.5h1M244 55.5h1M245 55.5h1M246 55.5h1M248 55.5h1M252 55.5h1M253 55.5h1M255 55.5h1M280 55.5h1M291 55.5h1M304 55.5h1M245 56.5h1M247 56.5h1M250 56.5h1M252 56.5h1M253 56.5h1M254 56.5h1M256 56.5h1M257 56.5h1M259 56.5h1M261 56.5h1M297 56.5h1M299 56.5h1M303 56.5h1M307 56.5h1M310 56.5h1M233 57.5h1M242 57.5h1M245 57.5h1M247 57.5h1M253 57.5h1M259 57.5h1M260 57.5h1M261 57.5h1M266 57.5h1M297 57.5h1M242 58.5h1M244 58.5h1M248 58.5h1M249 58.5h1M250 58.5h1M253 58.5h1M255 58.5h1M256 58.5h1M258 58.5h1M259 58.5h1M262 58.5h1M265 58.5h1M271 58.5h1M280 58.5h1M289 58.5h1M292 58.5h1M245 59.5h1M252 59.5h1M256 59.5h1M262 59.5h1M265 59.5h1M267 59.5h1M268 59.5h1M247 60.5h1M248 60.5h1M249 60.5h1M250 60.5h1M251 60.5h1M252 60.5h1M254 60.5h1M257 60.5h1M258 60.5h1M260 60.5h1M262 60.5h1M264 60.5h1M265 60.5h1M292 60.5h1M298 60.5h1M301 60.5h1M244 61.5h1M246 61.5h1M253 61.5h1M256 61.5h1M257 61.5h1M258 61.5h1M262 61.5h1M266 61.5h1M291 61.5h1M292 61.5h1M300 61.5h1M311 61.5h1M232 62.5h1M247 62.5h1M252 62.5h1M254 62.5h1M255 62.5h1M257 62.5h1M259 62.5h1M261 62.5h1M262 62.5h1M268 62.5h1M298 62.5h1M239 63.5h1M245 63.5h1M252 63.5h1M255 63.5h1M256 63.5h1M258 63.5h1M265 63.5h1M270 63.5h1M247 64.5h1M257 64.5h1M258 64.5h1M261 64.5h1M268 64.5h1M290 64.5h1M301 64.5h1M243 65.5h1M250 65.5h1M251 65.5h1M254 65.5h1M259 65.5h1M265 65.5h1M266 65.5h1M271 65.5h1M303 65.5h1M244 66.5h1M252 66.5h1M254 66.5h1M255 66.5h1M258 66.5h1M264 66.5h1M265 66.5h1M298 66.5h1M302 66.5h1M244 67.5h1M254 67.5h1M256 67.5h1M257 67.5h1M258 67.5h1M264 67.5h1M282 67.5h1M303 67.5h1M246 68.5h1M248 68.5h1M250 68.5h1M251 68.5h1M252 68.5h1M253 68.5h1M254 68.5h1M258 68.5h1M259 68.5h1M266 68.5h1M268 68.5h1M272 68.5h1M246 69.5h1M248 69.5h1M253 69.5h1M254 69.5h1M256 69.5h1M258 69.5h1M260 69.5h1M264 69.5h1M265 69.5h1M290 69.5h1M245 70.5h1M247 70.5h1M250 70.5h1M261 70.5h1M246 71.5h1M251 71.5h1M252 71.5h1M253 71.5h1M254 71.5h1M255 71.5h1M257 71.5h1M258 71.5h1M260 71.5h1M261 71.5h1M263 71.5h1M266 71.5h1M279 71.5h1M286 71.5h1M247 72.5h1M251 72.5h1M252 72.5h1M253 72.5h1M256 72.5h1M259 72.5h1M262 72.5h1M263 72.5h1M265 72.5h1M280 72.5h1M241 73.5h1M242 73.5h1M253 73.5h1M256 73.5h1M258 73.5h1M259 73.5h1M261 73.5h1M263 73.5h1M264 73.5h1M270 73.5h1M308 73.5h1M241 74.5h1M248 74.5h1M249 74.5h1M255 74.5h1M258 74.5h1M261 74.5h1M265 74.5h1M277 74.5h1M281 74.5h1M282 74.5h1M290 74.5h1M298 74.5h1M304 74.5h1M307 74.5h1M250 75.5h1M257 75.5h1M258 75.5h1M260 75.5h1M262 75.5h1M263 75.5h1M266 75.5h1M267 75.5h1M270 75.5h1M279 75.5h1M280 75.5h1M282 75.5h1M292 75.5h1M305 75.5h1M241 76.5h1M245 76.5h1M246 76.5h1M251 76.5h1M252 76.5h1M254 76.5h1M255 76.5h1M256 76.5h1M257 76.5h1M258 76.5h1M259 76.5h1M261 76.5h1M262 76.5h1M266 76.5h1M269 76.5h1M270 76.5h1M273 76.5h1M276 76.5h1M277 76.5h1M279 76.5h1M281 76.5h1M283 76.5h1M287 76.5h1M290 76.5h1M295 76.5h1M297 76.5h1M298 76.5h1M311 76.5h1M240 77.5h1M242 77.5h1M246 77.5h1M247 77.5h1M250 77.5h1M252 77.5h1M254 77.5h1M256 77.5h1M257 77.5h1M258 77.5h1M262 77.5h1M263 77.5h1M265 77.5h1M266 77.5h1M268 77.5h1M269 77.5h1M270 77.5h1M273 77.5h1M274 77.5h1M275 77.5h1M276 77.5h1M277 77.5h1M281 77.5h1M285 77.5h1M286 77.5h1M287 77.5h1M292 77.5h1M293 77.5h1M295 77.5h1M301 77.5h1M246 78.5h1M249 78.5h1M250 78.5h1M265 78.5h1M266 78.5h1M289 78.5h1M290 78.5h1M297 78.5h1M301 78.5h1M304 78.5h1M237 79.5h1M243 79.5h1M244 79.5h1M245 79.5h1M248 79.5h1M249 79.5h1M253 79.5h1M293 79.5h1M295 79.5h1M296 79.5h1M299 79.5h1M301 79.5h1M305 79.5h1M306 79.5h1M311 79.5h1M241 80.5h1M244 80.5h1M247 80.5h1M248 80.5h1M251 80.5h1M296 80.5h1M298 80.5h1M238 81.5h1M239 81.5h1M247 81.5h1M249 81.5h1M250 81.5h1M251 81.5h1M294 81.5h1M303 81.5h1M235 82.5h1M236 82.5h1M239 82.5h1M240 82.5h1M243 82.5h1M249 82.5h1M250 82.5h1M251 82.5h1M295 82.5h1M298 82.5h1M299 82.5h1M301 82.5h1M310 82.5h1M238 83.5h1M241 83.5h1M243 83.5h1M245 83.5h1M246 83.5h1M247 83.5h1M248 83.5h1M250 83.5h1M298 83.5h1M302 83.5h1M308 83.5h1M309 83.5h1M235 84.5h1M236 84.5h1M238 84.5h1M239 84.5h1M245 84.5h1M246 84.5h1M247 84.5h1M248 84.5h1M250 84.5h1M295 84.5h1M297 84.5h1M299 84.5h1M232 85.5h1M233 85.5h1M236 85.5h1M240 85.5h1M246 85.5h1M247 85.5h1M249 85.5h1M291 85.5h1M292 85.5h1M293 85.5h1M294 85.5h1M296 85.5h1M298 85.5h1M299 85.5h1M303 85.5h1M304 85.5h1M307 85.5h1M310 85.5h1M237 86.5h1M239 86.5h1M242 86.5h1M246 86.5h1M249 86.5h1M250 86.5h1M252 86.5h1M265 86.5h1M266 86.5h1M267 86.5h1M268 86.5h1M269 86.5h1M270 86.5h1M271 86.5h1M275 86.5h1M282 86.5h1M284 86.5h1M285 86.5h1M286 86.5h1M287 86.5h1M288 86.5h1M289 86.5h1M291 86.5h1M293 86.5h1M299 86.5h1M300 86.5h1M304 86.5h1M235 87.5h1M237 87.5h1M241 87.5h1M247 87.5h1M249 87.5h1M251 87.5h1M254 87.5h1M257 87.5h1M262 87.5h1M265 87.5h1M268 87.5h1M269 87.5h1M271 87.5h1M272 87.5h1M274 87.5h1M276 87.5h1M278 87.5h1M280 87.5h1M284 87.5h1M289 87.5h1M291 87.5h1M295 87.5h1M299 87.5h1M303 87.5h1M305 87.5h1M239 88.5h1M246 88.5h1M253 88.5h1M254 88.5h1M256 88.5h1M257 88.5h1M258 88.5h1M264 88.5h1M265 88.5h1M267 88.5h1M269 88.5h1M270 88.5h1M271 88.5h1M274 88.5h1M275 88.5h1M278 88.5h1M279 88.5h1M281 88.5h1M282 88.5h1M284 88.5h1M285 88.5h1M290 88.5h1M291 88.5h1M292 88.5h1M295 88.5h1M299 88.5h1M301 88.5h1M305 88.5h1M253 89.5h1M256 89.5h1M257 89.5h1M260 89.5h1M263 89.5h1M269 89.5h1M270 89.5h1M273 89.5h1M274 89.5h1M276 89.5h1M278 89.5h1M282 89.5h1M287 89.5h1M291 89.5h1M293 89.5h1M243 90.5h1M244 90.5h1M259 90.5h1M260 90.5h1M267 90.5h1M271 90.5h1M273 90.5h1M275 90.5h1M277 90.5h1M278 90.5h1M286 90.5h1M292 90.5h1M299 90.5h1M239 91.5h1M240 91.5h1M241 91.5h1M243 91.5h1M257 91.5h1M262 91.5h1M263 91.5h1M266 91.5h1M271 91.5h1M281 91.5h1M289 91.5h1M294 91.5h1M299 91.5h1M310 91.5h1M241 92.5h1M257 92.5h1M259 92.5h1M260 92.5h1M261 92.5h1M262 92.5h1M263 92.5h1M264 92.5h1M265 92.5h1M273 92.5h1M283 92.5h1M287 92.5h1M253 93.5h1M256 93.5h1M257 93.5h1M260 93.5h1M276 93.5h1M279 93.5h1M282 93.5h1M290 93.5h1M291 93.5h1M266 94.5h1M271 94.5h1M293 94.5h1M297 94.5h1M273 97.5h1M281 97.5h1M259 99.5h1M279 99.5h1M290 99.5h1" stroke="#2222ac" stroke-width="1"/><path d="M255 39.5h1M258 39.5h1M257 41.5h1M260 41.5h1M257 43.5h1M257 44.5h1M259 44.5h1M253 45.5h1M256 45.5h1M258 45.5h1M236 46.5h1M251 46.5h1M254 46.5h1M248 47.5h1M256 47.5h1M259 47.5h1M286 47.5h1M288 47.5h1M310 47.5h1M237 48.5h1M256 48.5h1M260 48.5h1M261 48.5h1M266 48.5h1M278 48.5h1M295 48.5h1M299 48.5h1M302 48.5h1M239 49.5h1M241 49.5h1M242 49.5h1M244 49.5h1M249 49.5h1M253 49.5h1M257 49.5h1M258 49.5h1M284 49.5h1M286 49.5h1M291 49.5h1M305 49.5h1M243 50.5h1M245 50.5h1M250 50.5h1M252 50.5h1M253 50.5h1M254 50.5h1M259 50.5h1M299 50.5h1M305 50.5h1M242 51.5h1M247 51.5h1M248 51.5h1M249 51.5h1M252 51.5h1M253 51.5h1M255 51.5h1M256 51.5h1M258 51.5h1M260 51.5h1M297 51.5h1M248 52.5h1M250 52.5h1M251 52.5h1M259 52.5h1M308 52.5h1M245 53.5h1M250 53.5h1M252 53.5h1M257 53.5h1M294 53.5h1M297 53.5h1M247 54.5h1M248 54.5h1M250 54.5h1M251 54.5h1M252 54.5h1M254 54.5h1M255 54.5h1M247 55.5h1M250 55.5h1M251 55.5h1M256 55.5h1M257 55.5h1M258 55.5h1M259 55.5h1M263 55.5h1M283 55.5h1M306 55.5h1M308 55.5h1M240 56.5h1M242 56.5h1M251 56.5h1M260 56.5h1M263 56.5h1M267 56.5h1M290 56.5h1M241 57.5h1M246 57.5h1M249 57.5h1M254 57.5h1M257 57.5h1M290 57.5h1M293 57.5h1M294 57.5h1M301 57.5h1M304 57.5h1M311 57.5h1M251 58.5h1M252 58.5h1M254 58.5h1M257 58.5h1M260 58.5h1M290 58.5h1M291 58.5h1M293 58.5h1M294 58.5h1M239 59.5h1M247 59.5h1M248 59.5h1M254 59.5h1M257 59.5h1M263 59.5h1M281 59.5h1M287 59.5h1M288 59.5h1M292 59.5h1M256 60.5h1M259 60.5h1M263 60.5h1M268 60.5h1M289 60.5h1M245 61.5h1M249 61.5h1M250 61.5h1M252 61.5h1M255 61.5h1M263 61.5h1M264 61.5h1M285 61.5h1M301 61.5h1M235 62.5h1M241 62.5h1M245 62.5h1M251 62.5h1M253 62.5h1M256 62.5h1M258 62.5h1M264 62.5h1M269 62.5h1M287 62.5h1M293 62.5h1M296 62.5h1M243 63.5h1M246 63.5h1M248 63.5h1M249 63.5h1M251 63.5h1M253 63.5h1M254 63.5h1M257 63.5h1M261 63.5h1M264 63.5h1M269 63.5h1M281 63.5h1M233 64.5h1M239 64.5h1M248 64.5h1M251 64.5h1M252 64.5h1M253 64.5h1M254 64.5h1M255 64.5h1M256 64.5h1M263 64.5h1M266 64.5h1M287 64.5h1M289 64.5h1M292 64.5h1M244 65.5h1M245 65.5h1M246 65.5h1M249 65.5h1M253 65.5h1M255 65.5h1M260 65.5h1M261 65.5h1M283 65.5h1M285 65.5h1M310 65.5h1M242 66.5h1M243 66.5h1M247 66.5h1M248 66.5h1M249 66.5h1M250 66.5h1M251 66.5h1M256 66.5h1M260 66.5h1M266 66.5h1M273 66.5h1M242 67.5h1M249 67.5h1M252 67.5h1M263 67.5h1M268 67.5h1M286 67.5h1M306 67.5h1M235 68.5h1M238 68.5h1M247 68.5h1M249 68.5h1M255 68.5h1M256 68.5h1M257 68.5h1M261 68.5h1M263 68.5h1M250 69.5h1M252 69.5h1M255 69.5h1M294 69.5h1M246 70.5h1M248 70.5h1M249 70.5h1M253 70.5h1M255 70.5h1M256 70.5h1M263 70.5h1M264 70.5h1M269 70.5h1M271 70.5h1M245 71.5h1M259 71.5h1M267 71.5h1M280 71.5h1M284 71.5h1M243 72.5h1M248 72.5h1M257 72.5h1M258 72.5h1M260 72.5h1M261 72.5h1M269 72.5h1M246 73.5h1M247 73.5h1M249 73.5h1M254 73.5h1M255 73.5h1M257 73.5h1M260 73.5h1M262 73.5h1M268 73.5h1M269 73.5h1M245 74.5h1M259 74.5h1M260 74.5h1M262 74.5h1M263 74.5h1M264 74.5h1M266 74.5h1M270 74.5h1M275 74.5h1M278 74.5h1M286 74.5h1M310 74.5h1M238 75.5h1M241 75.5h1M251 75.5h1M252 75.5h1M255 75.5h1M256 75.5h1M261 75.5h1M265 75.5h1M268 75.5h1M272 75.5h1M277 75.5h1M283 75.5h1M289 75.5h1M301 75.5h1M236 76.5h1M240 76.5h1M260 76.5h1M264 76.5h1M265 76.5h1M268 76.5h1M271 76.5h1M272 76.5h1M282 76.5h1M284 76.5h1M286 76.5h1M288 76.5h1M291 76.5h1M292 76.5h1M294 76.5h1M299 76.5h1M303 76.5h1M245 77.5h1M248 77.5h1M249 77.5h1M253 77.5h1M255 77.5h1M260 77.5h1M261 77.5h1M267 77.5h1M271 77.5h1M272 77.5h1M278 77.5h1M279 77.5h1M280 77.5h1M283 77.5h1M284 77.5h1M297 77.5h1M298 77.5h1M245 78.5h1M253 78.5h1M254 78.5h1M264 78.5h1M267 78.5h1M288 78.5h1M292 78.5h1M293 78.5h1M294 78.5h1M241 79.5h1M247 79.5h1M252 79.5h1M304 79.5h1M309 79.5h1M236 80.5h1M240 80.5h1M243 80.5h1M245 80.5h1M246 80.5h1M249 80.5h1M252 80.5h1M294 80.5h1M295 80.5h1M297 80.5h1M299 80.5h1M308 80.5h1M311 80.5h1M232 81.5h1M236 81.5h1M241 81.5h1M243 81.5h1M245 81.5h1M295 81.5h1M296 81.5h1M298 81.5h1M237 82.5h1M238 82.5h1M242 82.5h1M244 82.5h1M245 82.5h1M247 82.5h1M294 82.5h1M300 82.5h1M303 82.5h1M307 82.5h1M234 83.5h1M242 83.5h1M244 83.5h1M294 83.5h1M295 83.5h1M299 83.5h1M303 83.5h1M237 84.5h1M241 84.5h1M243 84.5h1M249 84.5h1M251 84.5h1M252 84.5h1M293 84.5h1M294 84.5h1M296 84.5h1M298 84.5h1M300 84.5h1M301 84.5h1M250 85.5h1M252 85.5h1M253 85.5h1M295 85.5h1M297 85.5h1M245 86.5h1M248 86.5h1M251 86.5h1M254 86.5h1M255 86.5h1M256 86.5h1M257 86.5h1M258 86.5h1M259 86.5h1M276 86.5h1M283 86.5h1M295 86.5h1M301 86.5h1M305 86.5h1M306 86.5h1M309 86.5h1M239 87.5h1M240 87.5h1M246 87.5h1M252 87.5h1M253 87.5h1M256 87.5h1M258 87.5h1M259 87.5h1M260 87.5h1M261 87.5h1M263 87.5h1M264 87.5h1M266 87.5h1M270 87.5h1M273 87.5h1M275 87.5h1M277 87.5h1M279 87.5h1M281 87.5h1M282 87.5h1M283 87.5h1M285 87.5h1M286 87.5h1M287 87.5h1M290 87.5h1M292 87.5h1M293 87.5h1M297 87.5h1M241 88.5h1M247 88.5h1M249 88.5h1M252 88.5h1M255 88.5h1M259 88.5h1M260 88.5h1M262 88.5h1M263 88.5h1M266 88.5h1M273 88.5h1M276 88.5h1M277 88.5h1M280 88.5h1M287 88.5h1M288 88.5h1M289 88.5h1M297 88.5h1M304 88.5h1M234 89.5h1M236 89.5h1M239 89.5h1M243 89.5h1M248 89.5h1M254 89.5h1M258 89.5h1M259 89.5h1M264 89.5h1M265 89.5h1M266 89.5h1M267 89.5h1M268 89.5h1M272 89.5h1M275 89.5h1M280 89.5h1M283 89.5h1M284 89.5h1M289 89.5h1M290 89.5h1M249 90.5h1M251 90.5h1M252 90.5h1M253 90.5h1M255 90.5h1M256 90.5h1M265 90.5h1M266 90.5h1M268 90.5h1M270 90.5h1M276 90.5h1M282 90.5h1M283 90.5h1M285 90.5h1M242 91.5h1M251 91.5h1M256 91.5h1M265 91.5h1M267 91.5h1M269 91.5h1M275 91.5h1M276 91.5h1M279 91.5h1M280 91.5h1M283 91.5h1M286 91.5h1M291 91.5h1M246 92.5h1M258 92.5h1M267 92.5h1M268 92.5h1M274 92.5h1M277 92.5h1M281 92.5h1M288 92.5h1M294 92.5h1M252 93.5h1M255 93.5h1M262 93.5h1M266 93.5h1M270 93.5h1M273 93.5h1M246 94.5h1M255 94.5h1M257 94.5h1M267 94.5h1M274 94.5h1M275 94.5h1M279 94.5h1M260 95.5h1M285 95.5h1M276 96.5h1M290 97.5h1M271 98.5h1M281 98.5h1M264 99.5h1" stroke="#6262d2" stroke-width="1"/><path d="M255 78.5h1M256 78.5h1M257 78.5h1M259 78.5h1M260 78.5h1M261 78.5h1M262 78.5h1M263 78.5h1M268 78.5h1M269 78.5h1M270 78.5h1M274 78.5h1M275 78.5h1M276 78.5h1M277 78.5h1M278 78.5h1M279 78.5h1M280 78.5h1M281 78.5h1M282 78.5h1M283 78.5h1M284 78.5h1M285 78.5h1M286 78.5h1M287 78.5h1M254 79.5h1M255 79.5h1M256 79.5h1M265 79.5h1M290 79.5h1M291 79.5h1M292 79.5h1M253 80.5h1M254 80.5h1M293 80.5h1M252 81.5h1M253 81.5h1M293 81.5h1M252 82.5h1M253 82.5h1M293 82.5h1M252 83.5h1M253 83.5h1M292 83.5h1M293 83.5h1M253 84.5h1M254 84.5h1M291 84.5h1M292 84.5h1M254 85.5h1M255 85.5h1M256 85.5h1M257 85.5h1M258 85.5h1M259 85.5h1M265 85.5h1M266 85.5h1M267 85.5h1M268 85.5h1M282 85.5h1M283 85.5h1M284 85.5h1M285 85.5h1M286 85.5h1M287 85.5h1M288 85.5h1M289 85.5h1M290 85.5h1M260 86.5h1M261 86.5h1M262 86.5h1M263 86.5h1M264 86.5h1M272 86.5h1M273 86.5h1M274 86.5h1M277 86.5h1M278 86.5h1M280 86.5h1M281 86.5h1" stroke="#2438d8" stroke-width="1"/><path d="M271 78.5h1M272 78.5h1M273 78.5h1M257 79.5h1M258 79.5h1M259 79.5h1M263 79.5h1M264 79.5h1M266 79.5h1M288 79.5h1M289 79.5h1M255 80.5h1M291 80.5h1M292 80.5h1M254 81.5h1M255 81.5h1M292 81.5h1M254 82.5h1M292 82.5h1M254 83.5h1M291 83.5h1M255 84.5h1M256 84.5h1M290 84.5h1M260 85.5h1M261 85.5h1M262 85.5h1M263 85.5h1M264 85.5h1M269 85.5h1M270 85.5h1M271 85.5h1M272 85.5h1M273 85.5h1M274 85.5h1M275 85.5h1M276 85.5h1M277 85.5h1M278 85.5h1M279 85.5h1M280 85.5h1M281 85.5h1" stroke="#1f86ee" stroke-width="1"/><path d="M260 79.5h1M261 79.5h1M262 79.5h1M267 79.5h1M268 79.5h1M276 79.5h1M277 79.5h1M278 79.5h1M279 79.5h1M280 79.5h1M281 79.5h1M282 79.5h1M283 79.5h1M284 79.5h1M285 79.5h1M286 79.5h1M287 79.5h1M256 80.5h1M257 80.5h1M290 80.5h1M256 81.5h1M291 81.5h1M255 82.5h1M256 82.5h1M291 82.5h1M255 83.5h1M256 83.5h1M290 83.5h1M257 84.5h1M258 84.5h1M259 84.5h1M264 84.5h1M265 84.5h1M266 84.5h1M289 84.5h1" stroke="#22c8d8" stroke-width="1"/><path d="M269 79.5h1M270 79.5h1M271 79.5h1M272 79.5h1M273 79.5h1M274 79.5h1M275 79.5h1M258 80.5h1M259 80.5h1M260 80.5h1M264 80.5h1M265 80.5h1M266 80.5h1M289 80.5h1M257 81.5h1M258 81.5h1M290 81.5h1M257 82.5h1M258 82.5h1M290 82.5h1M257 83.5h1M258 83.5h1M260 84.5h1M261 84.5h1M263 84.5h1M267 84.5h1M268 84.5h1M281 84.5h1M282 84.5h1M283 84.5h1M284 84.5h1M285 84.5h1M286 84.5h1M287 84.5h1M288 84.5h1" stroke="#48d448" stroke-width="1"/><path d="M261 80.5h1M262 80.5h1M263 80.5h1M267 80.5h1M276 80.5h1M277 80.5h1M278 80.5h1M279 80.5h1M284 80.5h1M287 80.5h1M288 80.5h1M259 81.5h1M260 81.5h1M265 81.5h1M289 81.5h1M259 82.5h1M259 83.5h1M260 83.5h1M263 83.5h1M264 83.5h1M265 83.5h1M266 83.5h1M288 83.5h1M289 83.5h1M262 84.5h1M269 84.5h1M270 84.5h1M271 84.5h1M272 84.5h1M273 84.5h1M274 84.5h1M275 84.5h1M276 84.5h1M277 84.5h1M278 84.5h1M279 84.5h1M280 84.5h1" stroke="#e8ea18" stroke-width="1"/><path d="M268 80.5h1M275 80.5h1M280 80.5h1M281 80.5h1M282 80.5h1M283 80.5h1M285 80.5h1M286 80.5h1M261 81.5h1M262 81.5h1M263 81.5h1M264 81.5h1M266 81.5h1M260 82.5h1M261 82.5h1M262 82.5h1M263 82.5h1M264 82.5h1M265 82.5h1M266 82.5h1M289 82.5h1M261 83.5h1M262 83.5h1M267 83.5h1M283 83.5h1M284 83.5h1M287 83.5h1" stroke="#ff9a00" stroke-width="1"/><path d="M269 80.5h1M270 80.5h1M271 80.5h1M272 80.5h1M273 80.5h1M274 80.5h1M267 81.5h1M268 81.5h1M269 81.5h1M270 81.5h1M271 81.5h1M272 81.5h1M273 81.5h1M274 81.5h1M275 81.5h1M276 81.5h1M277 81.5h1M278 81.5h1M279 81.5h1M280 81.5h1M281 81.5h1M282 81.5h1M283 81.5h1M284 81.5h1M285 81.5h1M286 81.5h1M287 81.5h1M288 81.5h1M267 82.5h1M268 82.5h1M269 82.5h1M270 82.5h1M271 82.5h1M272 82.5h1M273 82.5h1M274 82.5h1M275 82.5h1M276 82.5h1M277 82.5h1M278 82.5h1M279 82.5h1M280 82.5h1M281 82.5h1M282 82.5h1M283 82.5h1M284 82.5h1M285 82.5h1M286 82.5h1M287 82.5h1M288 82.5h1M268 83.5h1M269 83.5h1M270 83.5h1M271 83.5h1M272 83.5h1M273 83.5h1M274 83.5h1M275 83.5h1M276 83.5h1M277 83.5h1M278 83.5h1M279 83.5h1M280 83.5h1M281 83.5h1M282 83.5h1M285 83.5h1M286 83.5h1" stroke="#f42410" stroke-width="1"/></g>
<line x1="230.6" y1="37.0" x2="230.6" y2="103.8" stroke="#222" stroke-width="1.2"/><line x1="230.1" y1="103.3" x2="316.0" y2="103.3" stroke="#222" stroke-width="1.2"/><path d="M229.0 94.5h1.6M229.0 85.6h1.6M229.0 76.8h1.6M229.0 67.9h1.6M229.0 59.1h1.6M229.0 50.3h1.6M229.0 41.4h1.6M240.6 103.3v1.6M250.7 103.3v1.6M260.7 103.3v1.6M270.8 103.3v1.6M280.8 103.3v1.6M290.9 103.3v1.6M300.9 103.3v1.6M311.0 103.3v1.6" stroke="#222" stroke-width="0.7" fill="none"/>
<path d="M271.0 73.0H316.0M271.0 73.0V103.3" stroke="#6a6a6a" stroke-width="0.8" fill="none"/>
<rect x="230.6" y="37.0" width="40.4" height="36.0" fill="none" stroke="#e52525" stroke-width="1.2"/>
<g filter="url(#sd)"><path d="M369 40.5h1M374 40.5h1M364 42.5h1M338 48.5h1M378 51.5h1M351 52.5h1M402 53.5h1M341 54.5h1M365 55.5h1M407 55.5h1M337 57.5h1M378 57.5h1M358 58.5h1M408 58.5h1M355 59.5h1M370 59.5h1M377 60.5h1M374 61.5h1M361 62.5h1M361 63.5h1M382 65.5h1M333 66.5h1M408 66.5h1M382 67.5h1M395 68.5h1M401 68.5h1M364 69.5h1M358 70.5h1M378 70.5h1M384 70.5h1M354 71.5h1M385 71.5h1M348 72.5h1M351 72.5h1M354 72.5h1M370 72.5h1M372 72.5h1M374 72.5h1M389 72.5h1M392 72.5h1M348 73.5h1M352 73.5h1M356 73.5h1M359 73.5h1M365 73.5h1M370 73.5h1M372 73.5h1M377 73.5h1M378 73.5h1M379 73.5h1M380 73.5h1M382 73.5h1M395 73.5h1M398 73.5h1M404 73.5h1M346 74.5h1M347 74.5h1M351 74.5h1M355 74.5h1M358 74.5h1M359 74.5h1M360 74.5h1M363 74.5h1M371 74.5h1M375 74.5h1M377 74.5h1M379 74.5h1M380 74.5h1M381 74.5h1M382 74.5h1M386 74.5h1M388 74.5h1M411 74.5h1M349 75.5h1M351 75.5h1M352 75.5h1M355 75.5h1M359 75.5h1M361 75.5h1M362 75.5h1M366 75.5h1M367 75.5h1M368 75.5h1M369 75.5h1M370 75.5h1M372 75.5h1M374 75.5h1M375 75.5h1M378 75.5h1M382 75.5h1M384 75.5h1M385 75.5h1M387 75.5h1M389 75.5h1M391 75.5h1M393 75.5h1M394 75.5h1M401 75.5h1M405 75.5h1M355 76.5h1M357 76.5h1M361 76.5h1M364 76.5h1M388 76.5h1M396 76.5h1M397 76.5h1M398 76.5h1M351 77.5h1M357 77.5h1M361 77.5h1M362 77.5h1M365 77.5h1M394 77.5h1M399 77.5h1M337 78.5h1M346 78.5h1M348 78.5h1M351 78.5h1M353 78.5h1M354 78.5h1M355 78.5h1M357 78.5h1M358 78.5h1M359 78.5h1M361 78.5h1M362 78.5h1M363 78.5h1M364 78.5h1M394 78.5h1M396 78.5h1M398 78.5h1M399 78.5h1M343 79.5h1M353 79.5h1M358 79.5h1M362 79.5h1M363 79.5h1M394 79.5h1M399 79.5h1M402 79.5h1M410 79.5h1M347 80.5h1M350 80.5h1M353 80.5h1M354 80.5h1M357 80.5h1M359 80.5h1M360 80.5h1M401 80.5h1M342 81.5h1M344 81.5h1M346 81.5h1M347 81.5h1M349 81.5h1M351 81.5h1M352 81.5h1M355 81.5h1M356 81.5h1M362 81.5h1M397 81.5h1M399 81.5h1M400 81.5h1M405 81.5h1M407 81.5h1M349 82.5h1M351 82.5h1M354 82.5h1M355 82.5h1M356 82.5h1M357 82.5h1M402 82.5h1M408 82.5h1M338 83.5h1M345 83.5h1M349 83.5h1M354 83.5h1M356 83.5h1M357 83.5h1M403 83.5h1M405 83.5h1M406 83.5h1M333 84.5h1M337 84.5h1M340 84.5h1M347 84.5h1M350 84.5h1M354 84.5h1M397 84.5h1M399 84.5h1M335 85.5h1M337 85.5h1M341 85.5h1M342 85.5h1M344 85.5h1M345 85.5h1M351 85.5h1M352 85.5h1M353 85.5h1M357 85.5h1M361 85.5h1M396 85.5h1M397 85.5h1M404 85.5h1M339 86.5h1M341 86.5h1M342 86.5h1M345 86.5h1M346 86.5h1M354 86.5h1M358 86.5h1M361 86.5h1M362 86.5h1M395 86.5h1M339 87.5h1M341 87.5h1M345 87.5h1M346 87.5h1M347 87.5h1M350 87.5h1M351 87.5h1M352 87.5h1M355 87.5h1M356 87.5h1M358 87.5h1M359 87.5h1M392 87.5h1M400 87.5h1M342 88.5h1M344 88.5h1M346 88.5h1M347 88.5h1M348 88.5h1M349 88.5h1M350 88.5h1M353 88.5h1M356 88.5h1M359 88.5h1M360 88.5h1M361 88.5h1M384 88.5h1M385 88.5h1M390 88.5h1M391 88.5h1M392 88.5h1M332 89.5h1M348 89.5h1M350 89.5h1M352 89.5h1M353 89.5h1M354 89.5h1M356 89.5h1M363 89.5h1M368 89.5h1M372 89.5h1M375 89.5h1M377 89.5h1M381 89.5h1M382 89.5h1M385 89.5h1M386 89.5h1M389 89.5h1M390 89.5h1M391 89.5h1M393 89.5h1M394 89.5h1M332 90.5h1M337 90.5h1M344 90.5h1M346 90.5h1M352 90.5h1M353 90.5h1M354 90.5h1M356 90.5h1M359 90.5h1M360 90.5h1M362 90.5h1M363 90.5h1M364 90.5h1M366 90.5h1M373 90.5h1M377 90.5h1M378 90.5h1M379 90.5h1M381 90.5h1M383 90.5h1M386 90.5h1M387 90.5h1M388 90.5h1M389 90.5h1M390 90.5h1M410 90.5h1M339 91.5h1M352 91.5h1M355 91.5h1M357 91.5h1M361 91.5h1M365 91.5h1M366 91.5h1M368 91.5h1M369 91.5h1M371 91.5h1M375 91.5h1M376 91.5h1M377 91.5h1M380 91.5h1M382 91.5h1M389 91.5h1M398 91.5h1M339 92.5h1M345 92.5h1M353 92.5h1M354 92.5h1M370 92.5h1M371 92.5h1M372 92.5h1M374 92.5h1M375 92.5h1M377 92.5h1M378 92.5h1M379 92.5h1M383 92.5h1M384 92.5h1M386 92.5h1M391 92.5h1M395 92.5h1M399 92.5h1M333 93.5h1M341 93.5h1M349 93.5h1M354 93.5h1M360 93.5h1M361 93.5h1M364 93.5h1M365 93.5h1M367 93.5h1M369 93.5h1M370 93.5h1M372 93.5h1M377 93.5h1M379 93.5h1M381 93.5h1M385 93.5h1M394 93.5h1M343 94.5h1M344 94.5h1M357 94.5h1M363 94.5h1M386 94.5h1M394 94.5h1M404 94.5h1M363 95.5h1M376 95.5h1M382 95.5h1M385 95.5h1M364 96.5h1M369 96.5h1M373 96.5h1M369 97.5h1M364 98.5h1M367 98.5h1M371 98.5h1M382 98.5h1M371 99.5h1M365 100.5h1M371 100.5h1M364 101.5h1" stroke="#2222ac" stroke-width="1"/><path d="M366 44.5h1M348 46.5h1M351 46.5h1M381 47.5h1M385 47.5h1M391 47.5h1M366 48.5h1M361 49.5h1M344 54.5h1M333 57.5h1M356 57.5h1M400 57.5h1M374 59.5h1M375 60.5h1M391 60.5h1M348 63.5h1M364 64.5h1M369 64.5h1M387 65.5h1M366 67.5h1M409 67.5h1M348 69.5h1M337 70.5h1M342 70.5h1M368 70.5h1M371 70.5h1M376 70.5h1M391 70.5h1M398 70.5h1M409 70.5h1M350 71.5h1M364 71.5h1M372 71.5h1M377 71.5h1M378 71.5h1M381 71.5h1M384 71.5h1M390 71.5h1M350 72.5h1M375 72.5h1M379 72.5h1M385 72.5h1M401 72.5h1M361 73.5h1M366 73.5h1M369 73.5h1M375 73.5h1M384 73.5h1M385 73.5h1M390 73.5h1M343 74.5h1M353 74.5h1M364 74.5h1M367 74.5h1M368 74.5h1M372 74.5h1M373 74.5h1M374 74.5h1M378 74.5h1M383 74.5h1M385 74.5h1M389 74.5h1M390 74.5h1M391 74.5h1M392 74.5h1M393 74.5h1M395 74.5h1M333 75.5h1M337 75.5h1M346 75.5h1M356 75.5h1M360 75.5h1M363 75.5h1M365 75.5h1M373 75.5h1M376 75.5h1M377 75.5h1M380 75.5h1M383 75.5h1M386 75.5h1M390 75.5h1M397 75.5h1M398 75.5h1M400 75.5h1M404 75.5h1M409 75.5h1M333 76.5h1M339 76.5h1M351 76.5h1M358 76.5h1M362 76.5h1M363 76.5h1M365 76.5h1M366 76.5h1M367 76.5h1M368 76.5h1M369 76.5h1M389 76.5h1M394 76.5h1M400 76.5h1M401 76.5h1M405 76.5h1M412 76.5h1M352 77.5h1M363 77.5h1M364 77.5h1M366 77.5h1M395 77.5h1M396 77.5h1M397 77.5h1M398 77.5h1M400 77.5h1M407 77.5h1M333 78.5h1M349 78.5h1M360 78.5h1M393 78.5h1M395 78.5h1M401 78.5h1M332 79.5h1M347 79.5h1M348 79.5h1M350 79.5h1M351 79.5h1M355 79.5h1M356 79.5h1M359 79.5h1M360 79.5h1M361 79.5h1M397 79.5h1M398 79.5h1M404 79.5h1M336 80.5h1M342 80.5h1M343 80.5h1M345 80.5h1M351 80.5h1M355 80.5h1M356 80.5h1M358 80.5h1M361 80.5h1M397 80.5h1M398 80.5h1M400 80.5h1M404 80.5h1M406 80.5h1M407 80.5h1M337 81.5h1M338 81.5h1M348 81.5h1M350 81.5h1M353 81.5h1M354 81.5h1M396 81.5h1M401 81.5h1M406 81.5h1M332 82.5h1M336 82.5h1M343 82.5h1M344 82.5h1M346 82.5h1M350 82.5h1M352 82.5h1M353 82.5h1M396 82.5h1M397 82.5h1M405 82.5h1M334 83.5h1M335 83.5h1M343 83.5h1M344 83.5h1M346 83.5h1M347 83.5h1M348 83.5h1M351 83.5h1M352 83.5h1M353 83.5h1M355 83.5h1M398 83.5h1M399 83.5h1M408 83.5h1M338 84.5h1M341 84.5h1M343 84.5h1M344 84.5h1M345 84.5h1M348 84.5h1M349 84.5h1M352 84.5h1M355 84.5h1M356 84.5h1M358 84.5h1M398 84.5h1M334 85.5h1M340 85.5h1M349 85.5h1M356 85.5h1M360 85.5h1M395 85.5h1M406 85.5h1M335 86.5h1M340 86.5h1M343 86.5h1M348 86.5h1M351 86.5h1M352 86.5h1M353 86.5h1M355 86.5h1M357 86.5h1M360 86.5h1M398 86.5h1M400 86.5h1M405 86.5h1M332 87.5h1M333 87.5h1M340 87.5h1M342 87.5h1M344 87.5h1M357 87.5h1M362 87.5h1M393 87.5h1M394 87.5h1M397 87.5h1M401 87.5h1M412 87.5h1M334 88.5h1M335 88.5h1M338 88.5h1M345 88.5h1M351 88.5h1M352 88.5h1M355 88.5h1M357 88.5h1M358 88.5h1M362 88.5h1M394 88.5h1M400 88.5h1M402 88.5h1M412 88.5h1M339 89.5h1M342 89.5h1M349 89.5h1M351 89.5h1M355 89.5h1M359 89.5h1M365 89.5h1M366 89.5h1M370 89.5h1M371 89.5h1M373 89.5h1M380 89.5h1M388 89.5h1M392 89.5h1M396 89.5h1M397 89.5h1M341 90.5h1M350 90.5h1M351 90.5h1M355 90.5h1M357 90.5h1M358 90.5h1M361 90.5h1M367 90.5h1M368 90.5h1M369 90.5h1M370 90.5h1M371 90.5h1M372 90.5h1M374 90.5h1M375 90.5h1M380 90.5h1M391 90.5h1M337 91.5h1M346 91.5h1M353 91.5h1M358 91.5h1M359 91.5h1M360 91.5h1M363 91.5h1M367 91.5h1M372 91.5h1M379 91.5h1M385 91.5h1M394 91.5h1M410 91.5h1M348 92.5h1M361 92.5h1M366 92.5h1M368 92.5h1M380 92.5h1M382 92.5h1M385 92.5h1M407 92.5h1M337 93.5h1M342 93.5h1M347 93.5h1M350 93.5h1M353 93.5h1M356 93.5h1M371 93.5h1M384 93.5h1M387 93.5h1M393 93.5h1M340 94.5h1M342 94.5h1M353 94.5h1M366 94.5h1M367 94.5h1M370 94.5h1M371 94.5h1M372 94.5h1M376 94.5h1M379 94.5h1M381 94.5h1M368 95.5h1M369 95.5h1M372 95.5h1M373 95.5h1M368 96.5h1M370 96.5h1M377 96.5h1M367 97.5h1M383 97.5h1M386 97.5h1M363 98.5h1M365 98.5h1M362 99.5h1M373 100.5h1M385 101.5h1" stroke="#6262d2" stroke-width="1"/><path d="M370 76.5h1M371 76.5h1M372 76.5h1M373 76.5h1M374 76.5h1M375 76.5h1M376 76.5h1M377 76.5h1M378 76.5h1M379 76.5h1M380 76.5h1M381 76.5h1M382 76.5h1M383 76.5h1M384 76.5h1M385 76.5h1M386 76.5h1M387 76.5h1M390 76.5h1M392 76.5h1M393 76.5h1M369 77.5h1M376 77.5h1M383 77.5h1M384 77.5h1M385 77.5h1M386 77.5h1M387 77.5h1M388 77.5h1M389 77.5h1M391 77.5h1M392 77.5h1M393 77.5h1M365 78.5h1M366 78.5h1M389 78.5h1M392 78.5h1M364 79.5h1M365 79.5h1M392 79.5h1M395 79.5h1M396 79.5h1M362 80.5h1M363 80.5h1M364 80.5h1M365 80.5h1M393 80.5h1M394 80.5h1M395 80.5h1M396 80.5h1M358 81.5h1M359 81.5h1M360 81.5h1M361 81.5h1M363 81.5h1M364 81.5h1M365 81.5h1M394 81.5h1M395 81.5h1M358 82.5h1M361 82.5h1M362 82.5h1M363 82.5h1M364 82.5h1M395 82.5h1M350 83.5h1M358 83.5h1M359 83.5h1M360 83.5h1M361 83.5h1M362 83.5h1M363 83.5h1M364 83.5h1M365 83.5h1M395 83.5h1M359 84.5h1M360 84.5h1M361 84.5h1M362 84.5h1M363 84.5h1M364 84.5h1M394 84.5h1M395 84.5h1M359 85.5h1M362 85.5h1M363 85.5h1M364 85.5h1M367 85.5h1M392 85.5h1M393 85.5h1M394 85.5h1M359 86.5h1M363 86.5h1M365 86.5h1M366 86.5h1M367 86.5h1M368 86.5h1M369 86.5h1M389 86.5h1M390 86.5h1M391 86.5h1M392 86.5h1M393 86.5h1M363 87.5h1M364 87.5h1M365 87.5h1M366 87.5h1M367 87.5h1M368 87.5h1M369 87.5h1M370 87.5h1M383 87.5h1M384 87.5h1M389 87.5h1M390 87.5h1M391 87.5h1M363 88.5h1M364 88.5h1M365 88.5h1M366 88.5h1M367 88.5h1M368 88.5h1M369 88.5h1M370 88.5h1M371 88.5h1M372 88.5h1M373 88.5h1M374 88.5h1M375 88.5h1M376 88.5h1M377 88.5h1M378 88.5h1M379 88.5h1M380 88.5h1M381 88.5h1M382 88.5h1M383 88.5h1M386 88.5h1M387 88.5h1M388 88.5h1M389 88.5h1M369 89.5h1M378 89.5h1M379 89.5h1" stroke="#2438d8" stroke-width="1"/><path d="M370 77.5h1M371 77.5h1M372 77.5h1M374 77.5h1M375 77.5h1M377 77.5h1M378 77.5h1M379 77.5h1M380 77.5h1M381 77.5h1M382 77.5h1M367 78.5h1M368 78.5h1M388 78.5h1M390 78.5h1M391 78.5h1M366 79.5h1M366 80.5h1M367 80.5h1M366 81.5h1M393 81.5h1M359 82.5h1M360 82.5h1M365 82.5h1M392 82.5h1M393 82.5h1M394 82.5h1M366 83.5h1M393 83.5h1M394 83.5h1M365 84.5h1M366 84.5h1M367 84.5h1M392 84.5h1M393 84.5h1M365 85.5h1M366 85.5h1M368 85.5h1M388 85.5h1M389 85.5h1M390 85.5h1M391 85.5h1M383 86.5h1M388 86.5h1M371 87.5h1M372 87.5h1M373 87.5h1M374 87.5h1M376 87.5h1M377 87.5h1M378 87.5h1M382 87.5h1M385 87.5h1M386 87.5h1M387 87.5h1M388 87.5h1" stroke="#1f86ee" stroke-width="1"/><path d="M373 77.5h1M374 78.5h1M375 78.5h1M376 78.5h1M377 78.5h1M378 78.5h1M382 78.5h1M383 78.5h1M385 78.5h1M386 78.5h1M387 78.5h1M367 79.5h1M388 79.5h1M389 79.5h1M390 79.5h1M391 79.5h1M392 80.5h1M367 81.5h1M392 81.5h1M366 82.5h1M367 83.5h1M391 83.5h1M392 83.5h1M368 84.5h1M388 84.5h1M389 84.5h1M390 84.5h1M391 84.5h1M369 85.5h1M380 85.5h1M381 85.5h1M382 85.5h1M383 85.5h1M370 86.5h1M371 86.5h1M372 86.5h1M375 86.5h1M376 86.5h1M377 86.5h1M379 86.5h1M380 86.5h1M381 86.5h1M382 86.5h1M384 86.5h1M385 86.5h1M386 86.5h1M387 86.5h1M375 87.5h1M379 87.5h1M380 87.5h1M381 87.5h1" stroke="#22c8d8" stroke-width="1"/><path d="M369 78.5h1M371 78.5h1M372 78.5h1M373 78.5h1M379 78.5h1M380 78.5h1M381 78.5h1M384 78.5h1M368 79.5h1M372 79.5h1M373 79.5h1M374 79.5h1M375 79.5h1M376 79.5h1M379 79.5h1M380 79.5h1M382 79.5h1M387 79.5h1M368 80.5h1M373 80.5h1M374 80.5h1M375 80.5h1M388 80.5h1M389 80.5h1M391 80.5h1M368 81.5h1M391 81.5h1M367 82.5h1M390 82.5h1M391 82.5h1M368 83.5h1M389 83.5h1M390 83.5h1M369 84.5h1M376 84.5h1M379 84.5h1M380 84.5h1M381 84.5h1M382 84.5h1M383 84.5h1M387 84.5h1M370 85.5h1M372 85.5h1M375 85.5h1M376 85.5h1M377 85.5h1M378 85.5h1M379 85.5h1M384 85.5h1M385 85.5h1M386 85.5h1M387 85.5h1M373 86.5h1M374 86.5h1M378 86.5h1" stroke="#48d448" stroke-width="1"/><path d="M370 78.5h1M369 79.5h1M370 79.5h1M371 79.5h1M377 79.5h1M378 79.5h1M381 79.5h1M383 79.5h1M384 79.5h1M385 79.5h1M386 79.5h1M369 80.5h1M371 80.5h1M372 80.5h1M376 80.5h1M379 80.5h1M380 80.5h1M381 80.5h1M382 80.5h1M383 80.5h1M387 80.5h1M390 80.5h1M369 81.5h1M373 81.5h1M374 81.5h1M387 81.5h1M388 81.5h1M389 81.5h1M390 81.5h1M368 82.5h1M369 82.5h1M373 82.5h1M387 82.5h1M388 82.5h1M389 82.5h1M369 83.5h1M372 83.5h1M373 83.5h1M374 83.5h1M375 83.5h1M379 83.5h1M380 83.5h1M381 83.5h1M382 83.5h1M383 83.5h1M384 83.5h1M387 83.5h1M388 83.5h1M370 84.5h1M371 84.5h1M372 84.5h1M373 84.5h1M374 84.5h1M375 84.5h1M377 84.5h1M378 84.5h1M384 84.5h1M385 84.5h1M386 84.5h1M371 85.5h1M373 85.5h1M374 85.5h1" stroke="#e8ea18" stroke-width="1"/><path d="M370 80.5h1M377 80.5h1M378 80.5h1M384 80.5h1M385 80.5h1M386 80.5h1M370 81.5h1M371 81.5h1M372 81.5h1M375 81.5h1M379 81.5h1M380 81.5h1M381 81.5h1M382 81.5h1M383 81.5h1M384 81.5h1M370 82.5h1M371 82.5h1M372 82.5h1M374 82.5h1M375 82.5h1M379 82.5h1M380 82.5h1M381 82.5h1M382 82.5h1M383 82.5h1M384 82.5h1M386 82.5h1M370 83.5h1M371 83.5h1M376 83.5h1M377 83.5h1M378 83.5h1M385 83.5h1M386 83.5h1" stroke="#ff9a00" stroke-width="1"/><path d="M376 81.5h1M377 81.5h1M378 81.5h1M385 81.5h1M386 81.5h1M376 82.5h1M377 82.5h1M378 82.5h1M385 82.5h1" stroke="#f42410" stroke-width="1"/></g>
<line x1="330.6" y1="36.6" x2="330.6" y2="103.8" stroke="#222" stroke-width="1.2"/><line x1="330.1" y1="103.3" x2="413.8" y2="103.3" stroke="#222" stroke-width="1.2"/><path d="M329.0 94.4h1.6M329.0 85.5h1.6M329.0 76.6h1.6M329.0 67.7h1.6M329.0 58.8h1.6M329.0 49.9h1.6M329.0 41.0h1.6M340.4 103.3v1.6M350.2 103.3v1.6M360.0 103.3v1.6M369.8 103.3v1.6M379.5 103.3v1.6M389.3 103.3v1.6M399.1 103.3v1.6M408.9 103.3v1.6" stroke="#222" stroke-width="0.7" fill="none"/>
<path d="M367.8 72.9H413.8M367.8 72.9V103.3" stroke="#6a6a6a" stroke-width="0.8" fill="none"/>
<rect x="330.6" y="36.6" width="37.2" height="36.3" fill="none" stroke="#e52525" stroke-width="1.2"/>
<g filter="url(#sd)"><path d="M456 40.5h1M428 47.5h1M432 47.5h1M466 47.5h1M491 47.5h1M451 48.5h1M451 51.5h1M430 52.5h1M476 52.5h1M431 56.5h1M451 58.5h1M478 58.5h1M491 58.5h1M437 59.5h1M464 59.5h1M473 59.5h1M489 59.5h1M459 62.5h1M500 64.5h1M431 66.5h1M444 69.5h1M476 69.5h1M487 70.5h1M446 71.5h1M460 73.5h1M475 73.5h1M478 73.5h1M480 73.5h1M482 73.5h1M491 73.5h1M493 73.5h1M496 73.5h1M497 73.5h1M459 74.5h1M462 74.5h1M476 74.5h1M481 74.5h1M483 74.5h1M484 74.5h1M486 74.5h1M489 74.5h1M490 74.5h1M491 74.5h1M492 74.5h1M496 74.5h1M499 74.5h1M508 74.5h1M511 74.5h1M445 75.5h1M453 75.5h1M464 75.5h1M465 75.5h1M470 75.5h1M473 75.5h1M474 75.5h1M479 75.5h1M480 75.5h1M481 75.5h1M483 75.5h1M487 75.5h1M491 75.5h1M496 75.5h1M498 75.5h1M499 75.5h1M442 76.5h1M457 76.5h1M459 76.5h1M460 76.5h1M465 76.5h1M466 76.5h1M467 76.5h1M484 76.5h1M491 76.5h1M507 76.5h1M511 76.5h1M441 77.5h1M453 77.5h1M456 77.5h1M457 77.5h1M460 77.5h1M462 77.5h1M463 77.5h1M493 77.5h1M495 77.5h1M447 78.5h1M449 78.5h1M451 78.5h1M452 78.5h1M453 78.5h1M455 78.5h1M456 78.5h1M489 78.5h1M490 78.5h1M492 78.5h1M495 78.5h1M497 78.5h1M501 78.5h1M436 79.5h1M437 79.5h1M441 79.5h1M442 79.5h1M447 79.5h1M448 79.5h1M450 79.5h1M451 79.5h1M492 79.5h1M493 79.5h1M495 79.5h1M498 79.5h1M436 80.5h1M439 80.5h1M440 80.5h1M446 80.5h1M448 80.5h1M487 80.5h1M490 80.5h1M492 80.5h1M497 80.5h1M501 80.5h1M435 81.5h1M440 81.5h1M486 81.5h1M488 81.5h1M489 81.5h1M491 81.5h1M493 81.5h1M506 81.5h1M433 82.5h1M442 82.5h1M485 82.5h1M486 82.5h1M490 82.5h1M491 82.5h1M437 83.5h1M440 83.5h1M441 83.5h1M442 83.5h1M483 83.5h1M485 83.5h1M488 83.5h1M493 83.5h1M497 83.5h1M503 83.5h1M504 83.5h1M430 84.5h1M434 84.5h1M437 84.5h1M440 84.5h1M483 84.5h1M484 84.5h1M487 84.5h1M495 84.5h1M429 85.5h1M431 85.5h1M435 85.5h1M439 85.5h1M440 85.5h1M481 85.5h1M482 85.5h1M486 85.5h1M489 85.5h1M491 85.5h1M431 86.5h1M432 86.5h1M434 86.5h1M438 86.5h1M441 86.5h1M442 86.5h1M472 86.5h1M475 86.5h1M478 86.5h1M479 86.5h1M480 86.5h1M481 86.5h1M482 86.5h1M483 86.5h1M485 86.5h1M488 86.5h1M489 86.5h1M491 86.5h1M493 86.5h1M428 87.5h1M434 87.5h1M441 87.5h1M443 87.5h1M470 87.5h1M471 87.5h1M472 87.5h1M474 87.5h1M476 87.5h1M478 87.5h1M492 87.5h1M509 87.5h1M430 88.5h1M438 88.5h1M439 88.5h1M441 88.5h1M442 88.5h1M448 88.5h1M463 88.5h1M467 88.5h1M478 88.5h1M481 88.5h1M485 88.5h1M487 88.5h1M488 88.5h1M494 88.5h1M437 89.5h1M439 89.5h1M445 89.5h1M446 89.5h1M447 89.5h1M448 89.5h1M449 89.5h1M450 89.5h1M452 89.5h1M453 89.5h1M454 89.5h1M456 89.5h1M459 89.5h1M460 89.5h1M462 89.5h1M464 89.5h1M466 89.5h1M467 89.5h1M470 89.5h1M471 89.5h1M474 89.5h1M475 89.5h1M481 89.5h1M486 89.5h1M489 89.5h1M428 90.5h1M431 90.5h1M436 90.5h1M437 90.5h1M440 90.5h1M441 90.5h1M449 90.5h1M450 90.5h1M451 90.5h1M460 90.5h1M463 90.5h1M468 90.5h1M470 90.5h1M473 90.5h1M488 90.5h1M432 91.5h1M435 91.5h1M437 91.5h1M443 91.5h1M447 91.5h1M457 91.5h1M468 91.5h1M477 91.5h1M486 91.5h1M502 91.5h1M434 92.5h1M435 92.5h1M443 92.5h1M445 92.5h1M449 92.5h1M462 92.5h1M467 92.5h1M473 92.5h1M488 92.5h1M496 92.5h1M500 92.5h1M452 93.5h1M459 93.5h1M479 93.5h1M437 94.5h1M459 94.5h1M436 95.5h1M472 95.5h1M473 95.5h1M481 95.5h1M475 96.5h1M478 96.5h1M452 97.5h1M469 97.5h1M459 100.5h1M475 100.5h1" stroke="#6262d2" stroke-width="1"/><path d="M460 41.5h1M479 43.5h1M488 48.5h1M431 53.5h1M435 55.5h1M480 60.5h1M439 63.5h1M462 63.5h1M489 64.5h1M470 67.5h1M433 68.5h1M443 68.5h1M432 70.5h1M461 70.5h1M476 71.5h1M478 71.5h1M482 72.5h1M483 72.5h1M508 72.5h1M471 73.5h1M477 73.5h1M481 73.5h1M484 73.5h1M464 74.5h1M466 74.5h1M468 74.5h1M471 74.5h1M473 74.5h1M479 74.5h1M488 74.5h1M494 74.5h1M459 75.5h1M462 75.5h1M467 75.5h1M468 75.5h1M469 75.5h1M471 75.5h1M472 75.5h1M475 75.5h1M476 75.5h1M477 75.5h1M478 75.5h1M482 75.5h1M484 75.5h1M489 75.5h1M490 75.5h1M497 75.5h1M500 75.5h1M504 75.5h1M453 76.5h1M455 76.5h1M458 76.5h1M461 76.5h1M462 76.5h1M468 76.5h1M469 76.5h1M485 76.5h1M486 76.5h1M487 76.5h1M488 76.5h1M492 76.5h1M498 76.5h1M499 76.5h1M501 76.5h1M503 76.5h1M445 77.5h1M448 77.5h1M451 77.5h1M454 77.5h1M458 77.5h1M459 77.5h1M461 77.5h1M487 77.5h1M488 77.5h1M489 77.5h1M490 77.5h1M491 77.5h1M492 77.5h1M494 77.5h1M497 77.5h1M498 77.5h1M500 77.5h1M505 77.5h1M437 78.5h1M438 78.5h1M446 78.5h1M454 78.5h1M488 78.5h1M491 78.5h1M494 78.5h1M496 78.5h1M498 78.5h1M500 78.5h1M504 78.5h1M488 79.5h1M489 79.5h1M490 79.5h1M491 79.5h1M496 79.5h1M497 79.5h1M499 79.5h1M504 79.5h1M509 79.5h1M428 80.5h1M434 80.5h1M443 80.5h1M444 80.5h1M447 80.5h1M488 80.5h1M489 80.5h1M491 80.5h1M498 80.5h1M502 80.5h1M503 80.5h1M431 81.5h1M433 81.5h1M437 81.5h1M439 81.5h1M441 81.5h1M443 81.5h1M444 81.5h1M445 81.5h1M487 81.5h1M490 81.5h1M492 81.5h1M494 81.5h1M496 81.5h1M498 81.5h1M499 81.5h1M501 81.5h1M503 81.5h1M509 81.5h1M434 82.5h1M436 82.5h1M438 82.5h1M441 82.5h1M443 82.5h1M487 82.5h1M488 82.5h1M489 82.5h1M492 82.5h1M493 82.5h1M495 82.5h1M499 82.5h1M503 82.5h1M429 83.5h1M434 83.5h1M438 83.5h1M439 83.5h1M484 83.5h1M486 83.5h1M489 83.5h1M490 83.5h1M492 83.5h1M494 83.5h1M495 83.5h1M496 83.5h1M500 83.5h1M502 83.5h1M511 83.5h1M428 84.5h1M432 84.5h1M433 84.5h1M435 84.5h1M436 84.5h1M438 84.5h1M439 84.5h1M441 84.5h1M481 84.5h1M482 84.5h1M485 84.5h1M486 84.5h1M488 84.5h1M490 84.5h1M492 84.5h1M493 84.5h1M498 84.5h1M427 85.5h1M430 85.5h1M433 85.5h1M436 85.5h1M437 85.5h1M438 85.5h1M441 85.5h1M442 85.5h1M480 85.5h1M483 85.5h1M484 85.5h1M485 85.5h1M493 85.5h1M494 85.5h1M500 85.5h1M428 86.5h1M433 86.5h1M435 86.5h1M436 86.5h1M437 86.5h1M440 86.5h1M443 86.5h1M473 86.5h1M477 86.5h1M484 86.5h1M496 86.5h1M498 86.5h1M431 87.5h1M435 87.5h1M437 87.5h1M438 87.5h1M439 87.5h1M440 87.5h1M442 87.5h1M468 87.5h1M469 87.5h1M473 87.5h1M475 87.5h1M477 87.5h1M479 87.5h1M483 87.5h1M484 87.5h1M485 87.5h1M488 87.5h1M431 88.5h1M433 88.5h1M434 88.5h1M435 88.5h1M436 88.5h1M437 88.5h1M440 88.5h1M443 88.5h1M444 88.5h1M449 88.5h1M461 88.5h1M462 88.5h1M464 88.5h1M465 88.5h1M466 88.5h1M468 88.5h1M469 88.5h1M473 88.5h1M474 88.5h1M480 88.5h1M486 88.5h1M490 88.5h1M428 89.5h1M430 89.5h1M431 89.5h1M435 89.5h1M440 89.5h1M441 89.5h1M442 89.5h1M443 89.5h1M444 89.5h1M451 89.5h1M455 89.5h1M457 89.5h1M458 89.5h1M461 89.5h1M463 89.5h1M465 89.5h1M482 89.5h1M490 89.5h1M500 89.5h1M430 90.5h1M434 90.5h1M439 90.5h1M442 90.5h1M445 90.5h1M447 90.5h1M452 90.5h1M454 90.5h1M455 90.5h1M457 90.5h1M458 90.5h1M461 90.5h1M462 90.5h1M465 90.5h1M467 90.5h1M469 90.5h1M472 90.5h1M476 90.5h1M479 90.5h1M485 90.5h1M492 90.5h1M431 91.5h1M434 91.5h1M438 91.5h1M439 91.5h1M441 91.5h1M444 91.5h1M445 91.5h1M446 91.5h1M448 91.5h1M450 91.5h1M454 91.5h1M460 91.5h1M462 91.5h1M465 91.5h1M475 91.5h1M476 91.5h1M498 91.5h1M433 92.5h1M437 92.5h1M447 92.5h1M450 92.5h1M454 92.5h1M457 92.5h1M458 92.5h1M459 92.5h1M468 92.5h1M486 92.5h1M489 92.5h1M432 93.5h1M434 93.5h1M438 93.5h1M442 93.5h1M444 93.5h1M447 93.5h1M450 93.5h1M453 93.5h1M457 93.5h1M463 93.5h1M474 93.5h1M480 93.5h1M492 93.5h1M429 94.5h1M436 94.5h1M440 94.5h1M447 94.5h1M460 94.5h1M452 96.5h1M453 96.5h1M459 97.5h1M469 99.5h1" stroke="#2222ac" stroke-width="1"/><path d="M470 76.5h1M471 76.5h1M472 76.5h1M473 76.5h1M474 76.5h1M475 76.5h1M476 76.5h1M477 76.5h1M478 76.5h1M479 76.5h1M480 76.5h1M481 76.5h1M482 76.5h1M464 77.5h1M465 77.5h1M466 77.5h1M467 77.5h1M468 77.5h1M469 77.5h1M470 77.5h1M483 77.5h1M484 77.5h1M485 77.5h1M486 77.5h1M457 78.5h1M458 78.5h1M459 78.5h1M460 78.5h1M461 78.5h1M462 78.5h1M484 78.5h1M485 78.5h1M486 78.5h1M487 78.5h1M452 79.5h1M453 79.5h1M454 79.5h1M455 79.5h1M484 79.5h1M485 79.5h1M486 79.5h1M487 79.5h1M449 80.5h1M450 80.5h1M484 80.5h1M485 80.5h1M486 80.5h1M446 81.5h1M447 81.5h1M484 81.5h1M485 81.5h1M444 82.5h1M445 82.5h1M446 82.5h1M483 82.5h1M484 82.5h1M443 83.5h1M444 83.5h1M481 83.5h1M482 83.5h1M442 84.5h1M443 84.5h1M479 84.5h1M480 84.5h1M443 85.5h1M444 85.5h1M472 85.5h1M473 85.5h1M474 85.5h1M475 85.5h1M476 85.5h1M477 85.5h1M478 85.5h1M479 85.5h1M444 86.5h1M467 86.5h1M468 86.5h1M469 86.5h1M470 86.5h1M471 86.5h1M444 87.5h1M445 87.5h1M446 87.5h1M447 87.5h1M448 87.5h1M449 87.5h1M460 87.5h1M461 87.5h1M462 87.5h1M463 87.5h1M464 87.5h1M465 87.5h1M466 87.5h1M467 87.5h1M445 88.5h1M446 88.5h1M447 88.5h1M450 88.5h1M451 88.5h1M452 88.5h1M453 88.5h1M454 88.5h1M455 88.5h1M456 88.5h1M457 88.5h1M458 88.5h1M459 88.5h1M460 88.5h1" stroke="#2438d8" stroke-width="1"/><path d="M471 77.5h1M472 77.5h1M479 77.5h1M480 77.5h1M481 77.5h1M482 77.5h1M463 78.5h1M464 78.5h1M483 78.5h1M456 79.5h1M457 79.5h1M458 79.5h1M483 79.5h1M451 80.5h1M452 80.5h1M483 80.5h1M448 81.5h1M449 81.5h1M483 81.5h1M482 82.5h1M445 83.5h1M479 83.5h1M480 83.5h1M444 84.5h1M474 84.5h1M475 84.5h1M476 84.5h1M477 84.5h1M478 84.5h1M471 85.5h1M445 86.5h1M446 86.5h1M462 86.5h1M464 86.5h1M465 86.5h1M466 86.5h1M450 87.5h1M451 87.5h1M452 87.5h1M453 87.5h1M454 87.5h1M455 87.5h1M456 87.5h1M457 87.5h1M458 87.5h1M459 87.5h1" stroke="#1f86ee" stroke-width="1"/><path d="M473 77.5h1M474 77.5h1M475 77.5h1M476 77.5h1M477 77.5h1M478 77.5h1M465 78.5h1M482 78.5h1M459 79.5h1M460 79.5h1M461 79.5h1M462 79.5h1M463 79.5h1M482 79.5h1M453 80.5h1M454 80.5h1M482 80.5h1M450 81.5h1M451 81.5h1M482 81.5h1M447 82.5h1M480 82.5h1M481 82.5h1M446 83.5h1M477 83.5h1M478 83.5h1M445 84.5h1M446 84.5h1M472 84.5h1M473 84.5h1M445 85.5h1M446 85.5h1M466 85.5h1M467 85.5h1M468 85.5h1M469 85.5h1M470 85.5h1M447 86.5h1M448 86.5h1M449 86.5h1M460 86.5h1M461 86.5h1M463 86.5h1" stroke="#22c8d8" stroke-width="1"/><path d="M466 78.5h1M467 78.5h1M468 78.5h1M469 78.5h1M470 78.5h1M471 78.5h1M472 78.5h1M473 78.5h1M479 78.5h1M480 78.5h1M481 78.5h1M464 79.5h1M481 79.5h1M455 80.5h1M456 80.5h1M457 80.5h1M458 80.5h1M481 80.5h1M452 81.5h1M453 81.5h1M480 81.5h1M481 81.5h1M448 82.5h1M478 82.5h1M479 82.5h1M447 83.5h1M474 83.5h1M475 83.5h1M476 83.5h1M447 84.5h1M470 84.5h1M471 84.5h1M447 85.5h1M448 85.5h1M461 85.5h1M462 85.5h1M465 85.5h1M450 86.5h1M451 86.5h1M452 86.5h1M453 86.5h1M454 86.5h1M455 86.5h1M456 86.5h1M457 86.5h1M458 86.5h1M459 86.5h1" stroke="#48d448" stroke-width="1"/><path d="M474 78.5h1M475 78.5h1M476 78.5h1M477 78.5h1M478 78.5h1M465 79.5h1M466 79.5h1M479 79.5h1M480 79.5h1M459 80.5h1M460 80.5h1M461 80.5h1M462 80.5h1M463 80.5h1M464 80.5h1M479 80.5h1M480 80.5h1M454 81.5h1M478 81.5h1M479 81.5h1M449 82.5h1M450 82.5h1M451 82.5h1M452 82.5h1M475 82.5h1M476 82.5h1M477 82.5h1M448 83.5h1M449 83.5h1M470 83.5h1M471 83.5h1M472 83.5h1M473 83.5h1M448 84.5h1M449 84.5h1M466 84.5h1M467 84.5h1M468 84.5h1M469 84.5h1M449 85.5h1M450 85.5h1M451 85.5h1M457 85.5h1M458 85.5h1M459 85.5h1M460 85.5h1M463 85.5h1M464 85.5h1" stroke="#e8ea18" stroke-width="1"/><path d="M467 79.5h1M468 79.5h1M469 79.5h1M470 79.5h1M471 79.5h1M472 79.5h1M473 79.5h1M474 79.5h1M475 79.5h1M478 79.5h1M465 80.5h1M473 80.5h1M478 80.5h1M455 81.5h1M456 81.5h1M457 81.5h1M458 81.5h1M459 81.5h1M460 81.5h1M461 81.5h1M462 81.5h1M463 81.5h1M464 81.5h1M477 81.5h1M453 82.5h1M458 82.5h1M473 82.5h1M474 82.5h1M450 83.5h1M451 83.5h1M458 83.5h1M468 83.5h1M469 83.5h1M450 84.5h1M457 84.5h1M458 84.5h1M459 84.5h1M460 84.5h1M461 84.5h1M462 84.5h1M463 84.5h1M464 84.5h1M465 84.5h1M452 85.5h1M453 85.5h1M454 85.5h1M455 85.5h1M456 85.5h1" stroke="#ff9a00" stroke-width="1"/><path d="M476 79.5h1M477 79.5h1M466 80.5h1M467 80.5h1M468 80.5h1M469 80.5h1M470 80.5h1M471 80.5h1M472 80.5h1M474 80.5h1M475 80.5h1M476 80.5h1M477 80.5h1M465 81.5h1M466 81.5h1M467 81.5h1M468 81.5h1M469 81.5h1M470 81.5h1M471 81.5h1M472 81.5h1M473 81.5h1M474 81.5h1M475 81.5h1M476 81.5h1M454 82.5h1M455 82.5h1M456 82.5h1M457 82.5h1M459 82.5h1M460 82.5h1M461 82.5h1M462 82.5h1M463 82.5h1M464 82.5h1M465 82.5h1M466 82.5h1M467 82.5h1M468 82.5h1M469 82.5h1M470 82.5h1M471 82.5h1M472 82.5h1M452 83.5h1M453 83.5h1M454 83.5h1M455 83.5h1M456 83.5h1M457 83.5h1M459 83.5h1M460 83.5h1M461 83.5h1M462 83.5h1M463 83.5h1M464 83.5h1M465 83.5h1M466 83.5h1M467 83.5h1M451 84.5h1M452 84.5h1M453 84.5h1M454 84.5h1M455 84.5h1M456 84.5h1" stroke="#f42410" stroke-width="1"/></g>
<line x1="426.3" y1="36.9" x2="426.3" y2="103.8" stroke="#222" stroke-width="1.2"/><line x1="425.8" y1="103.3" x2="512.2" y2="103.3" stroke="#222" stroke-width="1.2"/><path d="M424.7 94.4h1.6M424.7 85.6h1.6M424.7 76.7h1.6M424.7 67.9h1.6M424.7 59.0h1.6M424.7 50.2h1.6M424.7 41.3h1.6M436.4 103.3v1.6M446.5 103.3v1.6M456.6 103.3v1.6M466.7 103.3v1.6M476.8 103.3v1.6M486.9 103.3v1.6M497.0 103.3v1.6M507.1 103.3v1.6" stroke="#222" stroke-width="0.7" fill="none"/>
<path d="M465.3 72.9H512.2M465.3 72.9V103.3" stroke="#6a6a6a" stroke-width="0.8" fill="none"/>
<rect x="426.3" y="36.9" width="39.0" height="36.0" fill="none" stroke="#e52525" stroke-width="1.2"/>
<g filter="url(#sd)"><path d="M172 154.5h1M166 142.5h1M150 139.5h1M170 144.5h1M171 144.5h1M156 148.5h1M148 157.5h1M146 148.5h1M162 149.5h1M168 152.5h1M169 159.5h1M173 155.5h1M179 138.5h1M166 157.5h1M157 138.5h1M145 161.5h1M161 136.5h1M159 144.5h1M169 134.5h1M158 149.5h1M172 139.5h1M156 147.5h1M159 141.5h1M157 144.5h1M163 140.5h1M159 154.5h1M162 144.5h1M158 152.5h1M165 140.5h1M149 144.5h1M162 149.5h1M159 160.5h1M180 147.5h1M159 131.5h1M163 147.5h1M152 149.5h1M170 149.5h1M156 140.5h1M169 149.5h1M162 151.5h1M163 142.5h1M159 147.5h1M145 136.5h1M151 155.5h1M167 145.5h1M143 149.5h1M155 152.5h1M178 155.5h1M164 149.5h1M159 147.5h1M160 143.5h1M179 147.5h1M144 159.5h1M158 142.5h1M158 147.5h1M172 136.5h1M174 159.5h1M155 147.5h1M164 151.5h1M165 136.5h1M147 164.5h1M183 164.5h1M149 168.5h1M160 172.5h1M163 168.5h1M174 159.5h1M153 160.5h1M147 174.5h1M159 170.5h1M180 173.5h1M175 166.5h1M164 164.5h1M166 164.5h1M176 164.5h1M159 170.5h1M152 161.5h1M158 163.5h1M154 175.5h1M149 164.5h1M164 153.5h1M171 167.5h1M173 168.5h1M167 170.5h1M170 167.5h1M155 175.5h1M162 172.5h1M166 170.5h1M146 170.5h1M151 177.5h1M156 168.5h1M171 168.5h1M162 167.5h1M153 171.5h1M155 170.5h1M176 172.5h1M155 165.5h1M177 171.5h1M150 166.5h1M157 171.5h1M180 171.5h1M174 172.5h1M168 176.5h1M146 171.5h1M157 183.5h1M153 177.5h1M160 181.5h1M161 182.5h1M154 181.5h1M155 180.5h1M146 179.5h1M180 183.5h1M193 181.5h1M164 180.5h1M166 183.5h1M170 185.5h1M166 181.5h1M145 173.5h1M157 184.5h1M166 179.5h1M137 180.5h1M156 180.5h1M162 175.5h1M156 179.5h1M170 183.5h1M163 177.5h1M166 178.5h1M139 179.5h1M181 179.5h1M152 182.5h1M174 179.5h1M148 182.5h1M165 179.5h1M161 181.5h1M156 181.5h1M151 177.5h1M139 184.5h1M162 181.5h1M174 181.5h1M176 180.5h1M156 183.5h1M166 181.5h1M163 179.5h1M162 180.5h1M153 180.5h1M170 182.5h1M160 180.5h1M157 181.5h1M149 183.5h1M158 180.5h1M165 179.5h1M151 182.5h1M152 179.5h1M176 180.5h1M170 184.5h1M169 180.5h1M161 181.5h1M160 182.5h1M186 178.5h1M177 184.5h1M151 182.5h1M151 183.5h1M177 183.5h1M144 185.5h1M178 179.5h1M170 182.5h1M142 184.5h1M171 185.5h1M175 182.5h1M164 181.5h1M159 182.5h1M174 179.5h1M164 182.5h1M173 185.5h1M194 183.5h1M180 181.5h1M170 182.5h1M164 182.5h1M164 177.5h1M193 180.5h1M203 178.5h1M205 180.5h1M188 181.5h1M193 179.5h1M195 178.5h1M198 179.5h1M198 180.5h1M195 177.5h1M194 180.5h1M197 177.5h1M183 182.5h1M203 177.5h1M209 179.5h1M188 178.5h1M200 181.5h1M208 179.5h1M195 179.5h1M202 177.5h1M202 179.5h1M202 179.5h1M173 168.5h1M169 148.5h1M166 135.5h1M170 148.5h1M174 142.5h1M174 178.5h1M169 145.5h1M155 153.5h1M198 164.5h1" stroke="#5a5ad0" stroke-width="1.1"/><path d="M144 148.5h1M150 153.5h1M160 140.5h1M166 133.5h1M152 151.5h1M159 152.5h1M157 147.5h1M157 152.5h1M166 136.5h1M147 142.5h1M165 152.5h1M156 140.5h1M159 140.5h1M171 155.5h1M155 150.5h1M174 148.5h1M154 141.5h1M159 129.5h1M162 154.5h1M161 151.5h1M162 140.5h1M156 148.5h1M153 139.5h1M163 138.5h1M162 142.5h1M165 168.5h1M177 147.5h1M164 136.5h1M148 147.5h1M164 152.5h1M163 148.5h1M157 139.5h1M168 149.5h1M168 159.5h1M154 150.5h1M167 132.5h1M151 148.5h1M162 152.5h1M160 138.5h1M167 131.5h1M161 154.5h1M172 142.5h1M159 154.5h1M159 133.5h1M164 147.5h1M158 135.5h1M160 133.5h1M165 142.5h1M161 145.5h1M161 136.5h1M173 132.5h1M157 138.5h1M162 145.5h1M170 151.5h1M166 145.5h1M161 143.5h1M153 140.5h1M170 135.5h1M165 149.5h1M145 144.5h1M177 129.5h1M168 154.5h1M168 148.5h1M171 152.5h1M172 130.5h1M175 141.5h1M180 151.5h1M164 142.5h1M155 141.5h1M171 163.5h1M152 153.5h1M155 158.5h1M160 147.5h1M153 153.5h1M169 151.5h1M154 148.5h1M160 136.5h1M166 160.5h1M157 146.5h1M176 149.5h1M155 155.5h1M157 133.5h1M164 140.5h1M161 146.5h1M154 137.5h1M156 149.5h1M149 155.5h1M166 154.5h1M169 140.5h1M159 136.5h1M156 137.5h1M170 157.5h1M155 153.5h1M159 153.5h1M152 141.5h1M161 148.5h1M158 159.5h1M164 153.5h1M179 160.5h1M155 143.5h1M167 142.5h1M157 133.5h1M158 138.5h1M138 148.5h1M175 137.5h1M172 137.5h1M180 154.5h1M156 136.5h1M167 137.5h1M143 142.5h1M177 144.5h1M163 146.5h1M165 138.5h1M155 149.5h1M151 145.5h1M163 142.5h1M155 138.5h1M165 143.5h1M164 147.5h1M171 151.5h1M167 142.5h1M182 149.5h1M166 141.5h1M155 147.5h1M159 145.5h1M167 138.5h1M150 140.5h1M165 134.5h1M174 155.5h1M166 144.5h1M168 157.5h1M152 153.5h1M153 138.5h1M166 149.5h1M162 145.5h1M164 141.5h1M156 150.5h1M150 147.5h1M156 143.5h1M168 140.5h1M162 149.5h1M168 144.5h1M161 143.5h1M142 141.5h1M168 145.5h1M151 141.5h1M161 139.5h1M151 145.5h1M157 161.5h1M174 152.5h1M139 148.5h1M150 154.5h1M164 147.5h1M163 132.5h1M161 163.5h1M171 148.5h1M166 137.5h1M159 175.5h1M157 167.5h1M156 170.5h1M181 168.5h1M161 171.5h1M142 163.5h1M169 162.5h1M178 158.5h1M153 173.5h1M168 161.5h1M163 169.5h1M173 182.5h1M168 162.5h1M153 165.5h1M186 172.5h1M145 171.5h1M168 172.5h1M157 172.5h1M157 168.5h1M163 166.5h1M181 167.5h1M169 169.5h1M152 171.5h1M174 173.5h1M171 167.5h1M183 161.5h1M161 165.5h1M158 162.5h1M155 163.5h1M170 175.5h1M168 176.5h1M168 166.5h1M170 163.5h1M171 164.5h1M166 161.5h1M170 168.5h1M165 172.5h1M162 163.5h1M174 168.5h1M153 166.5h1M177 167.5h1M160 168.5h1M171 165.5h1M171 168.5h1M156 175.5h1M152 166.5h1M163 172.5h1M146 175.5h1M175 173.5h1M162 170.5h1M155 174.5h1M148 174.5h1M179 165.5h1M156 170.5h1M178 162.5h1M167 169.5h1M168 170.5h1M165 168.5h1M153 167.5h1M180 166.5h1M175 162.5h1M171 164.5h1M160 164.5h1M170 164.5h1M169 166.5h1M169 168.5h1M161 170.5h1M177 159.5h1M169 173.5h1M166 171.5h1M169 173.5h1M164 166.5h1M162 181.5h1M153 176.5h1M160 170.5h1M157 160.5h1M142 155.5h1M169 170.5h1M170 173.5h1M166 175.5h1M161 170.5h1M148 166.5h1M152 167.5h1M157 164.5h1M183 182.5h1M180 173.5h1M149 172.5h1M165 161.5h1M149 162.5h1M160 169.5h1M156 167.5h1M153 168.5h1M186 172.5h1M163 174.5h1M177 175.5h1M168 172.5h1M163 179.5h1M169 177.5h1M189 177.5h1M146 182.5h1M162 181.5h1M166 181.5h1M172 180.5h1M152 178.5h1M156 176.5h1M154 184.5h1M148 183.5h1M161 176.5h1M148 182.5h1M144 182.5h1M146 185.5h1M146 177.5h1M149 179.5h1M142 184.5h1M186 183.5h1M145 183.5h1M170 180.5h1M202 180.5h1M171 178.5h1M158 176.5h1M162 177.5h1M139 183.5h1M138 182.5h1M169 178.5h1M167 179.5h1M181 179.5h1M172 179.5h1M144 177.5h1M170 178.5h1M180 181.5h1M194 180.5h1M160 178.5h1M150 183.5h1M149 179.5h1M169 176.5h1M154 177.5h1M161 184.5h1M155 182.5h1M154 180.5h1M148 182.5h1M176 182.5h1M181 181.5h1M190 179.5h1M139 179.5h1M145 181.5h1M174 177.5h1M152 181.5h1M171 176.5h1M141 175.5h1M169 178.5h1M165 181.5h1M163 176.5h1M174 179.5h1M163 180.5h1M166 184.5h1M166 178.5h1M145 177.5h1M167 181.5h1M149 185.5h1M168 182.5h1M160 175.5h1M167 182.5h1M150 182.5h1M155 182.5h1M144 182.5h1M154 181.5h1M156 176.5h1M180 177.5h1M145 180.5h1M149 180.5h1M168 173.5h1M181 179.5h1M177 179.5h1M150 178.5h1M161 179.5h1M160 178.5h1M154 177.5h1M159 178.5h1M168 179.5h1M158 178.5h1M156 180.5h1M161 177.5h1M165 179.5h1M144 181.5h1M159 181.5h1M146 184.5h1M172 179.5h1M172 181.5h1M163 179.5h1M185 182.5h1M175 179.5h1M163 185.5h1M184 183.5h1M174 179.5h1M164 179.5h1M153 182.5h1M153 183.5h1M156 178.5h1M156 175.5h1M156 178.5h1M167 179.5h1M160 179.5h1M163 188.5h1M165 179.5h1M153 185.5h1M154 179.5h1M160 184.5h1M167 183.5h1M138 181.5h1M155 180.5h1M138 177.5h1M160 178.5h1M173 180.5h1M148 182.5h1M153 182.5h1M156 178.5h1M162 181.5h1M159 180.5h1M168 182.5h1M166 176.5h1M144 180.5h1M164 176.5h1M181 180.5h1M153 178.5h1M177 179.5h1M157 178.5h1M155 185.5h1M155 179.5h1M162 177.5h1M151 183.5h1M151 182.5h1M142 178.5h1M164 182.5h1M143 180.5h1M169 180.5h1M161 179.5h1M153 175.5h1M152 181.5h1M162 179.5h1M148 180.5h1M155 181.5h1M164 181.5h1M154 181.5h1M169 181.5h1M150 179.5h1M169 179.5h1M173 183.5h1M159 181.5h1M161 183.5h1M175 178.5h1M162 182.5h1M136 177.5h1M161 182.5h1M170 182.5h1M180 184.5h1M161 177.5h1M158 178.5h1M171 182.5h1M155 179.5h1M154 182.5h1M164 176.5h1M174 185.5h1M179 185.5h1M152 179.5h1M190 183.5h1M193 179.5h1M210 178.5h1M189 179.5h1M198 179.5h1M201 179.5h1M188 182.5h1M202 181.5h1M201 178.5h1M210 180.5h1M193 179.5h1M205 177.5h1M197 177.5h1M204 178.5h1M201 177.5h1M209 178.5h1M200 181.5h1M208 180.5h1M206 176.5h1M211 181.5h1M202 178.5h1M197 176.5h1M198 178.5h1M205 180.5h1M187 180.5h1M193 176.5h1M193 180.5h1M196 177.5h1M206 177.5h1M204 178.5h1M187 177.5h1M199 178.5h1M194 181.5h1M199 178.5h1M206 178.5h1M204 181.5h1M211 179.5h1M186 179.5h1M197 180.5h1M188 181.5h1M208 179.5h1M143 170.5h1M147 145.5h1M170 145.5h1M180 166.5h1M175 177.5h1M167 133.5h1M176 164.5h1M146 186.5h1M176 189.5h1M147 188.5h1M145 143.5h1M175 130.5h1M156 166.5h1M204 154.5h1M200 182.5h1M202 135.5h1M188 144.5h1" stroke="#1c1ca6" stroke-width="1.1"/></g>
<clipPath id="cp0"><rect x="135.8" y="126.8" width="82.2" height="64.8"/></clipPath>
<g clip-path="url(#cp0)"><path d="M163.4 160.3L165.4 161.1L163.4 161.7L161.0 162.0L158.7 162.4L156.2 161.9L154.2 161.7L152.9 161.2L149.6 160.9L150.1 160.1L150.2 159.4L152.3 159.0L153.3 158.2L156.2 158.4L158.5 158.4L160.9 158.5L162.5 159.1L163.0 159.7Z" fill="none" stroke="#2020a8" stroke-width="0.8" stroke-linejoin="round"/><path d="M157.7 144.6L158.7 142.4L160.8 140.8L162.2 139.1L164.4 137.9L167.1 137.1L169.6 137.9L171.0 139.5L173.8 140.1L173.6 142.2L172.9 144.0L173.9 146.5L170.6 147.1L168.4 147.9L166.1 148.9L163.4 149.1L161.7 147.5L159.8 146.3Z" fill="none" stroke="#2020a8" stroke-width="0.8" stroke-linejoin="round"/><path d="M157.9 141.0L156.0 142.5L154.4 141.0L152.6 140.4L151.6 139.0L152.4 137.2L151.6 135.6L153.0 134.3L154.1 133.1L155.5 131.7L157.4 132.2L159.0 132.9L161.2 132.9L161.2 134.9L162.9 136.2L161.5 137.8L160.9 139.4L160.2 141.4Z" fill="none" stroke="#2020a8" stroke-width="0.8" stroke-linejoin="round"/><path d="M157.3 151.2L157.2 149.3L158.0 147.6L158.4 145.6L160.2 144.9L162.0 145.2L163.6 145.2L165.4 145.3L167.4 146.3L167.7 148.5L167.8 150.5L166.8 152.1L165.7 153.3L164.9 155.5L163.0 155.5L161.0 155.7L159.7 153.9L157.9 153.2Z" fill="none" stroke="#2020a8" stroke-width="0.8" stroke-linejoin="round"/><path d="M175.5 142.1L173.0 143.1L172.3 144.4L170.8 145.4L168.9 145.6L167.3 144.8L164.8 145.1L163.6 143.4L162.6 141.8L162.5 140.0L163.1 138.3L165.4 137.8L166.6 136.6L168.4 135.5L170.5 136.3L171.9 137.7L172.8 139.0L173.9 140.3Z" fill="none" stroke="#2020a8" stroke-width="0.8" stroke-linejoin="round"/><path d="M166.5 149.0L165.6 146.6L163.6 145.8L162.9 144.0L162.9 142.1L163.3 140.2L164.7 138.7L167.0 139.1L168.6 138.2L170.6 138.4L172.5 139.2L173.5 140.9L174.3 142.6L175.3 144.7L173.3 146.0L172.3 147.4L170.7 148.5L168.8 148.4Z" fill="none" stroke="#2020a8" stroke-width="0.8" stroke-linejoin="round"/><path d="M155.1 144.2L155.0 142.2L154.0 141.3L154.5 139.2L154.1 137.0L156.0 135.1L157.2 132.7L158.8 133.1L160.7 130.4L161.5 132.0L162.9 132.2L163.7 133.7L162.7 136.2L162.8 138.4L161.4 140.7L159.7 142.2L158.1 144.5L156.5 144.6Z" fill="none" stroke="#2020a8" stroke-width="0.8" stroke-linejoin="round"/><path d="M165.9 148.4L164.2 149.8L163.2 147.5L162.4 145.7L161.8 143.7L161.2 141.2L162.3 139.3L163.3 137.6L164.7 137.1L166.0 136.9L167.8 135.1L168.6 137.9L169.3 139.7L169.7 141.6L169.6 143.6L169.0 145.3L169.2 148.7L167.5 149.3Z" fill="none" stroke="#2020a8" stroke-width="0.8" stroke-linejoin="round"/><path d="M160.3 147.7L159.3 146.4L160.7 145.4L162.0 144.8L162.9 143.5L164.5 143.6L166.0 143.9L167.6 144.3L167.4 145.9L169.2 146.7L168.5 148.1L167.6 149.2L166.6 150.1L165.0 150.0L163.7 151.5L162.4 150.3L161.2 149.7L159.9 149.0Z" fill="none" stroke="#2020a8" stroke-width="0.8" stroke-linejoin="round"/><path d="M167.2 145.0L166.3 146.0L165.0 144.8L163.8 143.5L163.3 141.3L161.7 139.6L161.8 137.5L162.0 135.8L162.5 134.4L163.8 134.8L164.4 132.8L165.9 134.0L167.1 135.7L167.5 138.1L168.7 139.7L169.3 142.0L169.3 144.0L168.4 145.1Z" fill="none" stroke="#2020a8" stroke-width="0.8" stroke-linejoin="round"/><path d="M165.3 148.5L165.5 146.3L164.0 146.3L165.8 143.1L165.9 140.9L167.2 138.2L169.0 136.1L170.4 135.5L172.3 133.1L174.1 132.2L174.6 133.7L173.3 137.1L173.8 138.5L172.3 141.2L171.1 143.5L169.6 145.9L167.9 147.9L166.4 148.7Z" fill="none" stroke="#2020a8" stroke-width="0.8" stroke-linejoin="round"/><path d="M165.5 157.2L164.2 154.1L162.5 154.3L161.3 152.1L161.4 148.8L161.3 146.0L161.3 143.0L162.8 142.0L163.3 138.1L165.0 140.2L166.3 139.8L168.2 139.4L168.4 143.4L169.1 145.7L170.1 148.8L169.4 151.7L168.6 154.7L167.2 156.4Z" fill="none" stroke="#2020a8" stroke-width="0.8" stroke-linejoin="round"/><path d="M156.7 163.2L155.5 164.0L154.3 161.3L153.4 159.5L152.3 157.6L151.7 154.9L151.6 152.3L152.2 150.4L153.0 149.2L153.8 147.2L155.1 147.4L156.4 149.4L157.2 152.0L158.7 153.6L158.9 156.4L158.1 158.2L159.0 161.9L158.1 163.5Z" fill="none" stroke="#2020a8" stroke-width="0.8" stroke-linejoin="round"/><path d="M158.0 132.0L158.3 131.3L158.3 130.3L160.0 129.7L161.6 129.3L163.3 129.3L164.5 129.8L165.7 130.0L167.4 130.3L168.4 131.0L166.7 131.9L166.5 132.7L165.6 133.6L163.9 134.1L162.0 134.3L160.6 133.8L159.7 133.1L159.0 132.6Z" fill="none" stroke="#2020a8" stroke-width="0.8" stroke-linejoin="round"/><path d="M174.8 172.1L174.5 173.1L174.7 174.4L171.2 174.8L168.8 175.7L165.7 176.0L162.6 175.8L160.0 175.3L159.9 174.0L159.5 173.0L158.9 172.0L159.7 170.8L162.9 170.2L165.6 170.0L168.3 169.6L170.7 169.9L174.2 169.9L175.8 170.8Z" fill="none" stroke="#2020a8" stroke-width="0.8" stroke-linejoin="round"/><path d="M171.3 170.8L170.6 172.3L169.2 173.5L167.6 174.4L166.0 175.3L164.1 176.4L162.4 175.7L160.7 175.5L158.6 175.3L158.1 174.1L159.2 172.8L159.0 171.5L160.5 170.4L162.6 169.7L164.6 168.9L166.9 168.6L168.4 169.3L169.8 170.0Z" fill="none" stroke="#2020a8" stroke-width="0.8" stroke-linejoin="round"/><path d="M166.4 166.5L165.4 168.0L164.3 169.2L162.9 170.2L161.3 171.0L159.4 171.6L157.5 171.3L155.8 170.8L154.1 170.1L153.1 168.8L153.2 167.3L154.5 165.9L155.7 164.5L158.0 163.9L160.1 164.3L162.5 163.3L164.4 164.0L165.4 165.3Z" fill="none" stroke="#2020a8" stroke-width="0.8" stroke-linejoin="round"/><path d="M178.4 166.1L176.5 166.6L176.0 167.5L173.1 167.1L171.1 167.1L168.6 166.9L165.6 166.4L163.8 165.3L164.0 164.3L163.5 163.5L163.1 162.5L165.3 162.2L167.1 162.0L169.6 162.4L172.1 162.4L174.0 163.3L176.4 164.1L177.5 165.1Z" fill="none" stroke="#2020a8" stroke-width="0.8" stroke-linejoin="round"/><path d="M172.8 168.1L171.9 168.8L170.9 169.5L169.6 170.0L167.9 169.8L166.0 169.6L165.0 168.3L163.7 167.4L162.6 166.2L163.2 165.2L163.7 164.2L164.3 163.1L166.5 163.7L168.0 162.8L169.7 163.9L170.8 165.0L172.2 165.8L172.3 166.9Z" fill="none" stroke="#2020a8" stroke-width="0.8" stroke-linejoin="round"/><path d="M174.4 170.2L176.0 171.3L173.2 172.0L171.8 173.0L169.2 173.4L166.5 173.2L164.3 172.8L161.2 172.8L159.5 171.9L159.1 170.8L160.6 169.8L161.2 168.7L164.1 168.3L166.1 167.4L169.1 167.1L171.3 167.9L174.1 168.2L174.0 169.4Z" fill="none" stroke="#2020a8" stroke-width="0.8" stroke-linejoin="round"/><path d="M189.2 179.5L187.7 181.7L183.5 183.8L175.9 185.1L167.6 186.0L158.5 185.8L149.7 185.2L143.0 183.7L138.7 181.7L136.9 179.5L139.3 177.3L143.3 175.4L149.8 173.8L158.5 173.2L167.3 173.3L176.6 173.6L182.7 175.4L186.9 177.3Z" fill="none" stroke="#2020a8" stroke-width="0.8" stroke-linejoin="round"/><path d="M186.0 178.5L183.1 181.3L180.1 183.9L174.3 185.6L167.8 187.1L160.7 186.0L153.1 186.0L149.0 183.5L145.9 181.1L144.0 178.5L143.7 175.5L147.6 173.0L153.1 170.9L160.2 170.0L167.4 170.8L173.9 171.7L178.6 173.6L183.6 175.7Z" fill="none" stroke="#2020a8" stroke-width="0.8" stroke-linejoin="round"/><path d="M212.7 179.0L212.2 179.7L209.8 180.4L206.7 181.0L202.2 181.1L197.8 181.1L193.4 180.9L189.8 180.5L188.3 179.7L187.1 179.0L187.6 178.2L190.2 177.6L193.3 177.0L197.7 176.8L202.2 176.9L206.7 177.0L209.6 177.6L212.1 178.3Z" fill="none" stroke="#2020a8" stroke-width="0.9" stroke-linejoin="round"/><path d="M210.1 179.0L209.4 179.4L207.9 179.8L205.9 180.1L203.3 180.2L200.6 180.3L198.2 180.1L195.8 179.8L194.8 179.4L194.0 179.0L194.8 178.6L196.1 178.2L198.2 177.9L200.6 177.7L203.3 177.8L205.8 177.9L208.2 178.2L209.6 178.5Z" fill="none" stroke="#2020a8" stroke-width="0.8" stroke-linejoin="round"/></g>
<g filter="url(#bl2)"><ellipse cx="162.5" cy="181" rx="23" ry="4.4" fill="#16169a"/><ellipse cx="162.5" cy="181" rx="20.2" ry="3.9" fill="#1c3cf0"/><ellipse cx="162.5" cy="181" rx="17.5" ry="3.3" fill="#10b8f0"/><ellipse cx="162.5" cy="181" rx="14.5" ry="2.8" fill="#30d060"/><ellipse cx="162.5" cy="181" rx="11.5" ry="2.2" fill="#e8ec10"/><ellipse cx="162.5" cy="181" rx="9.7" ry="1.8" fill="#ff9000"/><ellipse cx="162.5" cy="181" rx="7.6" ry="1.5" fill="#ee1a0a"/></g>
<line x1="135.8" y1="126.8" x2="135.8" y2="192.1" stroke="#222" stroke-width="1.2"/><line x1="135.3" y1="191.6" x2="218.0" y2="191.6" stroke="#222" stroke-width="1.2"/><path d="M134.20000000000002 183.0h1.6M134.20000000000002 174.3h1.6M134.20000000000002 165.7h1.6M134.20000000000002 157.0h1.6M134.20000000000002 148.4h1.6M134.20000000000002 139.8h1.6M134.20000000000002 131.1h1.6M145.5 191.6v1.6M155.1 191.6v1.6M164.8 191.6v1.6M174.5 191.6v1.6M184.2 191.6v1.6M193.8 191.6v1.6M203.5 191.6v1.6M213.2 191.6v1.6" stroke="#222" stroke-width="0.7" fill="none"/>
<path d="M135.8 160.3H184.6V126.8M185.1 191.6V164.3H217.0" stroke="#f79090" stroke-width="1.1" fill="none"/>
<g filter="url(#sd)"><path d="M260 135.5h1M246 136.5h1M251 143.5h1M260 161.5h1M261 141.5h1M257 131.5h1M260 138.5h1M251 137.5h1M255 144.5h1M257 150.5h1M254 133.5h1M248 149.5h1M257 133.5h1M259 139.5h1M254 144.5h1M258 146.5h1M262 141.5h1M251 134.5h1M253 136.5h1M256 143.5h1M253 139.5h1M255 141.5h1M256 130.5h1M258 145.5h1M262 138.5h1M261 147.5h1M256 151.5h1M254 129.5h1M260 132.5h1M254 149.5h1M254 154.5h1M257 153.5h1M260 150.5h1M260 135.5h1M260 145.5h1M259 136.5h1M256 136.5h1M252 142.5h1M264 154.5h1M251 152.5h1M261 148.5h1M256 142.5h1M263 153.5h1M261 136.5h1M256 145.5h1M257 145.5h1M257 139.5h1M256 145.5h1M248 139.5h1M254 189.5h1M260 177.5h1M262 177.5h1M262 177.5h1M249 179.5h1M254 176.5h1M255 179.5h1M265 169.5h1M262 177.5h1M256 175.5h1M246 176.5h1M262 182.5h1M261 172.5h1M247 173.5h1M248 181.5h1M254 185.5h1M260 174.5h1M252 182.5h1M243 174.5h1M271 170.5h1M249 174.5h1M263 185.5h1M251 176.5h1M263 171.5h1M261 170.5h1M267 183.5h1M254 176.5h1M254 167.5h1M264 179.5h1M259 179.5h1M242 176.5h1M256 171.5h1M250 179.5h1M256 177.5h1M258 187.5h1M261 176.5h1M259 174.5h1M240 186.5h1M260 178.5h1M248 177.5h1M259 180.5h1M255 166.5h1M244 175.5h1M252 167.5h1M268 182.5h1M246 164.5h1M254 181.5h1M268 177.5h1M242 163.5h1M234 180.5h1M254 183.5h1M244 178.5h1M264 184.5h1M265 175.5h1M251 172.5h1M266 172.5h1M247 177.5h1M260 179.5h1M247 178.5h1M253 184.5h1M249 174.5h1M254 182.5h1M264 183.5h1M260 179.5h1M263 166.5h1M257 184.5h1M256 171.5h1M259 165.5h1M248 178.5h1M256 184.5h1M272 167.5h1M255 177.5h1M254 176.5h1M255 177.5h1M258 174.5h1M247 170.5h1M261 169.5h1M257 163.5h1M262 174.5h1M252 182.5h1M253 179.5h1M249 178.5h1M251 166.5h1M244 181.5h1M253 177.5h1M264 179.5h1M248 182.5h1M256 169.5h1M272 184.5h1M265 166.5h1M259 172.5h1M255 175.5h1M256 174.5h1M256 173.5h1M246 180.5h1M263 177.5h1M260 182.5h1M245 164.5h1M252 180.5h1M253 160.5h1M259 183.5h1M244 167.5h1M252 172.5h1M260 178.5h1M256 182.5h1M259 182.5h1M275 180.5h1M256 189.5h1M248 167.5h1M270 179.5h1M260 178.5h1M254 173.5h1M259 184.5h1M260 169.5h1M268 172.5h1M253 178.5h1M266 170.5h1M264 175.5h1M263 181.5h1M283 180.5h1M286 168.5h1M287 177.5h1M302 176.5h1M294 183.5h1M272 181.5h1M298 178.5h1M279 174.5h1M290 176.5h1M266 171.5h1M294 175.5h1M288 171.5h1M302 180.5h1M301 181.5h1M293 179.5h1M272 181.5h1M294 182.5h1M286 180.5h1M299 182.5h1M299 182.5h1M273 171.5h1M299 179.5h1M285 174.5h1M284 177.5h1M281 172.5h1M297 176.5h1M260 173.5h1M280 170.5h1M286 181.5h1M295 179.5h1M280 178.5h1M287 174.5h1M291 184.5h1M288 179.5h1M282 177.5h1M294 169.5h1M273 181.5h1M272 178.5h1M292 176.5h1M305 179.5h1M297 178.5h1M292 182.5h1M293 161.5h1M297 153.5h1M293 147.5h1M289 147.5h1M290 156.5h1M289 148.5h1M294 156.5h1M285 158.5h1M288 138.5h1M298 156.5h1M299 158.5h1M299 167.5h1M302 144.5h1M297 147.5h1M291 148.5h1M291 149.5h1M295 144.5h1M294 140.5h1M278 156.5h1M291 156.5h1M280 161.5h1M286 161.5h1M282 173.5h1M288 128.5h1M308 139.5h1M306 145.5h1M278 169.5h1M293 132.5h1M278 142.5h1M291 171.5h1M292 142.5h1M306 166.5h1M271 172.5h1M266 168.5h1M297 139.5h1M265 163.5h1M257 128.5h1M241 152.5h1M292 177.5h1M284 142.5h1M245 160.5h1" stroke="#5a5ad0" stroke-width="1.1"/><path d="M257 148.5h1M263 131.5h1M268 147.5h1M268 143.5h1M261 140.5h1M261 149.5h1M261 150.5h1M251 137.5h1M259 129.5h1M254 146.5h1M252 139.5h1M259 140.5h1M252 133.5h1M262 136.5h1M252 133.5h1M263 168.5h1M268 151.5h1M257 130.5h1M261 138.5h1M257 142.5h1M257 135.5h1M261 159.5h1M246 137.5h1M254 127.5h1M254 153.5h1M263 132.5h1M248 140.5h1M256 153.5h1M259 128.5h1M259 132.5h1M247 146.5h1M259 145.5h1M249 150.5h1M256 137.5h1M257 150.5h1M253 139.5h1M261 141.5h1M254 142.5h1M258 146.5h1M252 130.5h1M260 141.5h1M254 145.5h1M256 137.5h1M260 141.5h1M255 135.5h1M260 146.5h1M253 140.5h1M258 134.5h1M257 134.5h1M261 142.5h1M255 142.5h1M268 150.5h1M255 148.5h1M258 135.5h1M256 140.5h1M247 155.5h1M260 131.5h1M262 141.5h1M256 137.5h1M250 138.5h1M254 134.5h1M258 151.5h1M252 155.5h1M263 140.5h1M256 136.5h1M252 147.5h1M260 132.5h1M249 147.5h1M253 145.5h1M246 141.5h1M248 133.5h1M254 142.5h1M259 142.5h1M252 133.5h1M254 144.5h1M255 140.5h1M259 162.5h1M253 137.5h1M258 129.5h1M256 136.5h1M254 130.5h1M253 137.5h1M255 147.5h1M250 154.5h1M249 138.5h1M252 149.5h1M253 140.5h1M266 141.5h1M262 127.5h1M249 134.5h1M251 164.5h1M253 147.5h1M258 142.5h1M264 137.5h1M247 142.5h1M253 138.5h1M256 143.5h1M258 140.5h1M259 141.5h1M251 142.5h1M245 173.5h1M257 188.5h1M258 171.5h1M252 185.5h1M256 166.5h1M253 185.5h1M263 170.5h1M253 181.5h1M259 183.5h1M251 173.5h1M266 167.5h1M252 179.5h1M253 170.5h1M261 184.5h1M257 181.5h1M241 176.5h1M240 175.5h1M258 166.5h1M244 186.5h1M249 170.5h1M241 171.5h1M261 168.5h1M260 187.5h1M276 180.5h1M252 177.5h1M255 179.5h1M245 172.5h1M262 175.5h1M257 177.5h1M249 179.5h1M241 184.5h1M250 186.5h1M255 174.5h1M252 180.5h1M265 177.5h1M263 183.5h1M248 168.5h1M253 181.5h1M261 175.5h1M254 180.5h1M245 177.5h1M252 175.5h1M255 181.5h1M258 180.5h1M255 186.5h1M259 174.5h1M248 183.5h1M242 168.5h1M248 170.5h1M251 174.5h1M255 187.5h1M267 187.5h1M256 171.5h1M261 167.5h1M260 171.5h1M253 176.5h1M259 179.5h1M251 169.5h1M262 175.5h1M265 172.5h1M249 185.5h1M258 186.5h1M259 183.5h1M261 178.5h1M267 167.5h1M269 171.5h1M257 183.5h1M248 180.5h1M258 184.5h1M256 184.5h1M250 182.5h1M259 181.5h1M259 176.5h1M262 182.5h1M258 170.5h1M254 170.5h1M265 180.5h1M261 179.5h1M252 177.5h1M257 175.5h1M261 182.5h1M249 176.5h1M259 182.5h1M261 184.5h1M252 183.5h1M259 177.5h1M252 164.5h1M251 177.5h1M265 171.5h1M252 169.5h1M251 178.5h1M255 186.5h1M260 165.5h1M255 171.5h1M255 183.5h1M264 177.5h1M253 171.5h1M250 186.5h1M258 187.5h1M262 176.5h1M255 169.5h1M246 169.5h1M257 181.5h1M253 175.5h1M260 177.5h1M243 181.5h1M246 163.5h1M271 175.5h1M250 184.5h1M258 186.5h1M263 175.5h1M251 176.5h1M259 175.5h1M260 177.5h1M262 171.5h1M248 177.5h1M261 177.5h1M249 167.5h1M266 175.5h1M261 176.5h1M257 181.5h1M266 164.5h1M252 186.5h1M259 173.5h1M242 181.5h1M262 181.5h1M260 170.5h1M268 185.5h1M251 178.5h1M262 172.5h1M248 176.5h1M250 179.5h1M258 174.5h1M265 186.5h1M253 184.5h1M265 176.5h1M251 170.5h1M255 168.5h1M251 183.5h1M248 171.5h1M256 180.5h1M272 173.5h1M260 180.5h1M257 183.5h1M248 182.5h1M253 166.5h1M269 176.5h1M261 188.5h1M249 182.5h1M266 186.5h1M256 184.5h1M249 169.5h1M251 171.5h1M258 180.5h1M265 174.5h1M261 164.5h1M258 185.5h1M255 177.5h1M250 173.5h1M264 185.5h1M256 175.5h1M250 169.5h1M260 176.5h1M251 175.5h1M247 174.5h1M254 168.5h1M269 179.5h1M254 183.5h1M263 170.5h1M260 176.5h1M265 173.5h1M262 186.5h1M265 174.5h1M249 181.5h1M244 183.5h1M243 170.5h1M245 178.5h1M261 179.5h1M249 186.5h1M252 170.5h1M265 178.5h1M261 178.5h1M258 176.5h1M259 171.5h1M263 174.5h1M260 169.5h1M263 174.5h1M257 174.5h1M251 174.5h1M260 170.5h1M252 177.5h1M268 173.5h1M244 180.5h1M259 169.5h1M258 187.5h1M262 186.5h1M254 187.5h1M253 173.5h1M261 186.5h1M248 184.5h1M249 174.5h1M253 177.5h1M237 184.5h1M255 176.5h1M276 173.5h1M261 167.5h1M254 168.5h1M262 186.5h1M255 168.5h1M253 183.5h1M247 178.5h1M233 184.5h1M248 184.5h1M257 186.5h1M262 175.5h1M255 181.5h1M252 188.5h1M264 179.5h1M268 180.5h1M249 181.5h1M259 188.5h1M252 189.5h1M260 172.5h1M259 176.5h1M250 183.5h1M256 172.5h1M255 185.5h1M254 180.5h1M260 183.5h1M261 174.5h1M241 179.5h1M249 173.5h1M263 183.5h1M242 178.5h1M257 179.5h1M241 186.5h1M257 160.5h1M252 175.5h1M249 178.5h1M251 179.5h1M255 177.5h1M255 169.5h1M249 178.5h1M252 170.5h1M249 174.5h1M288 176.5h1M297 175.5h1M292 178.5h1M287 171.5h1M293 170.5h1M283 176.5h1M307 175.5h1M291 176.5h1M290 174.5h1M284 183.5h1M295 174.5h1M292 179.5h1M260 178.5h1M288 180.5h1M272 179.5h1M283 173.5h1M283 182.5h1M302 179.5h1M270 172.5h1M292 183.5h1M280 174.5h1M279 181.5h1M295 180.5h1M274 177.5h1M295 176.5h1M285 176.5h1M291 179.5h1M301 179.5h1M296 177.5h1M290 181.5h1M294 182.5h1M296 183.5h1M286 177.5h1M301 180.5h1M310 178.5h1M289 174.5h1M293 177.5h1M284 180.5h1M295 177.5h1M287 184.5h1M278 174.5h1M302 178.5h1M297 180.5h1M287 178.5h1M284 177.5h1M307 183.5h1M289 179.5h1M276 183.5h1M293 181.5h1M282 174.5h1M292 176.5h1M297 178.5h1M297 181.5h1M283 172.5h1M280 181.5h1M291 178.5h1M274 179.5h1M296 178.5h1M291 178.5h1M279 174.5h1M303 178.5h1M298 185.5h1M292 183.5h1M279 174.5h1M291 181.5h1M278 173.5h1M308 176.5h1M283 178.5h1M285 177.5h1M296 179.5h1M287 180.5h1M281 176.5h1M275 177.5h1M277 174.5h1M283 182.5h1M296 180.5h1M297 181.5h1M299 177.5h1M273 172.5h1M291 177.5h1M289 176.5h1M293 178.5h1M294 180.5h1M279 180.5h1M308 181.5h1M287 172.5h1M280 173.5h1M280 180.5h1M292 184.5h1M304 177.5h1M287 178.5h1M308 182.5h1M281 175.5h1M290 178.5h1M288 177.5h1M283 176.5h1M283 180.5h1M282 175.5h1M284 178.5h1M274 178.5h1M300 174.5h1M293 171.5h1M287 176.5h1M305 175.5h1M292 171.5h1M298 166.5h1M281 166.5h1M278 165.5h1M300 134.5h1M288 155.5h1M288 155.5h1M287 175.5h1M270 161.5h1M286 142.5h1M299 138.5h1M284 160.5h1M297 149.5h1M284 162.5h1M282 152.5h1M300 144.5h1M293 147.5h1M310 157.5h1M294 168.5h1M293 157.5h1M289 160.5h1M297 150.5h1M280 158.5h1M279 160.5h1M284 145.5h1M275 164.5h1M282 152.5h1M285 137.5h1M279 142.5h1M287 157.5h1M286 131.5h1M281 162.5h1M292 136.5h1M297 141.5h1M283 156.5h1M297 151.5h1M306 137.5h1M300 155.5h1M280 149.5h1M311 128.5h1M274 142.5h1M284 155.5h1M302 140.5h1M293 172.5h1M309 146.5h1M276 154.5h1M289 134.5h1M275 128.5h1M288 131.5h1M303 166.5h1M308 167.5h1M302 157.5h1M276 157.5h1M294 158.5h1M295 140.5h1M298 131.5h1M286 132.5h1M276 139.5h1M289 165.5h1M307 168.5h1M283 173.5h1M283 167.5h1M282 170.5h1M307 159.5h1M295 165.5h1M289 135.5h1M307 143.5h1M286 160.5h1M289 142.5h1M281 179.5h1M274 150.5h1M239 186.5h1M273 186.5h1M266 153.5h1M272 173.5h1M248 171.5h1M298 131.5h1M302 131.5h1M272 167.5h1M302 149.5h1M295 164.5h1M232 171.5h1M286 175.5h1M286 175.5h1M238 162.5h1" stroke="#1c1ca6" stroke-width="1.1"/></g>
<clipPath id="cp1"><rect x="230.6" y="125.1" width="82.4" height="66.3"/></clipPath>
<g clip-path="url(#cp1)"><path d="M258.2 127.1L257.6 129.4L256.2 130.5L255.1 131.6L253.9 132.0L252.6 132.5L252.1 130.7L251.4 129.4L251.2 127.8L250.8 125.9L251.2 123.7L252.5 122.6L253.4 120.6L254.7 121.0L255.8 121.1L256.7 122.1L257.9 122.8L257.5 125.2Z" fill="none" stroke="#2020a8" stroke-width="0.8" stroke-linejoin="round"/><path d="M260.6 140.1L260.9 142.5L260.3 144.6L259.8 146.7L258.0 146.7L256.7 148.8L254.8 148.5L253.6 145.9L251.6 144.8L251.8 142.0L251.2 139.7L251.4 137.3L252.6 135.9L254.1 135.3L255.4 134.4L257.3 133.8L258.6 136.1L260.0 137.8Z" fill="none" stroke="#2020a8" stroke-width="0.8" stroke-linejoin="round"/><path d="M254.6 153.5L254.4 155.5L254.3 158.0L253.4 159.4L252.4 160.3L251.3 160.1L250.1 159.7L249.8 157.1L249.0 155.7L248.4 153.6L248.5 151.1L249.6 149.8L250.2 147.9L251.1 146.4L252.3 146.7L253.4 147.6L254.4 148.9L254.5 151.5Z" fill="none" stroke="#2020a8" stroke-width="0.8" stroke-linejoin="round"/><path d="M260.8 139.5L261.5 142.6L261.1 145.6L259.8 147.6L258.0 148.1L256.4 149.3L254.5 148.0L252.9 146.3L252.0 143.5L251.2 140.8L251.4 138.1L251.9 135.6L253.0 133.9L254.3 133.0L255.8 132.8L257.4 133.5L259.4 133.8L260.8 136.3Z" fill="none" stroke="#2020a8" stroke-width="0.8" stroke-linejoin="round"/><path d="M260.7 152.8L260.2 154.2L259.4 155.1L258.6 156.2L257.6 156.3L256.6 156.4L255.8 155.6L255.3 154.5L255.1 153.2L255.1 151.9L255.5 150.7L256.1 149.6L256.9 148.9L257.8 148.5L258.9 147.9L259.7 148.9L260.2 150.1L260.5 151.3Z" fill="none" stroke="#2020a8" stroke-width="0.8" stroke-linejoin="round"/><path d="M255.6 143.3L255.5 145.4L254.9 146.6L254.3 147.7L253.8 149.1L253.1 148.4L252.3 148.4L251.5 147.7L251.4 145.3L251.1 143.3L251.1 141.1L251.8 139.7L252.2 137.7L253.0 137.1L253.7 138.2L254.5 138.2L254.9 139.9L255.8 141.0Z" fill="none" stroke="#2020a8" stroke-width="0.8" stroke-linejoin="round"/><path d="M258.4 137.6L258.8 140.1L258.7 142.5L257.4 143.6L256.4 145.1L255.1 146.9L253.5 145.2L252.1 143.5L251.1 141.4L250.1 139.0L250.6 136.5L250.8 134.2L251.7 132.6L252.5 130.6L254.1 130.7L255.7 131.1L257.5 132.0L257.8 135.3Z" fill="none" stroke="#2020a8" stroke-width="0.8" stroke-linejoin="round"/><path d="M255.1 142.1L254.7 143.9L254.4 145.5L253.9 146.8L253.1 147.6L252.2 148.9L251.3 147.0L250.4 146.1L249.4 144.9L249.4 142.8L249.0 140.8L249.4 139.2L249.7 137.1L250.7 136.4L251.8 136.9L252.9 136.7L253.6 138.9L254.5 140.2Z" fill="none" stroke="#2020a8" stroke-width="0.8" stroke-linejoin="round"/><path d="M262.3 177.4L261.6 180.0L261.0 182.7L259.4 184.8L257.1 184.9L254.8 185.8L252.6 184.7L250.8 182.9L250.3 180.0L249.3 177.4L250.4 174.8L251.4 172.6L252.9 170.8L255.0 170.1L257.0 170.0L259.2 170.5L260.5 172.6L261.9 174.7Z" fill="none" stroke="#2020a8" stroke-width="0.8" stroke-linejoin="round"/><path d="M264.0 177.0L263.8 180.6L262.1 183.4L259.8 185.3L257.4 187.1L254.5 187.3L252.2 185.3L249.8 183.5L248.2 180.5L248.1 177.0L248.0 173.4L250.2 170.9L252.1 168.5L254.7 167.5L257.4 166.8L259.9 168.7L261.8 170.9L263.0 173.8Z" fill="none" stroke="#2020a8" stroke-width="0.8" stroke-linejoin="round"/><path d="M266.1 176.5L265.3 180.7L263.5 184.4L261.4 188.1L257.8 189.0L254.3 188.8L250.7 188.0L248.6 184.3L245.9 181.1L246.6 176.5L246.5 172.2L248.3 168.5L251.4 166.5L254.2 164.1L257.9 163.3L260.8 166.0L263.8 168.3L265.4 172.2Z" fill="none" stroke="#2020a8" stroke-width="0.8" stroke-linejoin="round"/><path d="M267.8 176.0L267.8 181.4L264.8 185.3L262.4 189.8L258.0 190.1L254.1 189.7L250.3 188.3L247.0 185.4L244.4 181.3L244.6 176.0L244.9 170.9L246.8 166.4L249.9 162.8L253.9 161.0L258.1 161.1L262.1 162.7L265.2 166.4L268.1 170.5Z" fill="none" stroke="#2020a8" stroke-width="0.8" stroke-linejoin="round"/><path d="M304.4 182.9L302.4 183.9L299.6 184.5L295.5 184.3L291.2 184.0L286.6 182.6L282.5 180.9L279.4 179.0L277.0 177.1L275.7 175.2L277.2 173.9L280.0 173.2L284.3 173.5L288.9 174.4L293.7 175.2L297.6 177.1L301.2 179.0L302.3 180.8Z" fill="none" stroke="#2020a8" stroke-width="0.8" stroke-linejoin="round"/><path d="M300.7 181.4L300.4 182.2L298.5 182.5L296.5 182.8L293.9 182.6L291.2 182.2L288.8 181.4L286.6 180.5L285.5 179.5L284.9 178.6L285.5 177.8L287.5 177.4L289.6 177.3L292.0 177.2L294.8 177.8L297.2 178.6L299.0 179.5L300.4 180.5Z" fill="none" stroke="#2020a8" stroke-width="0.8" stroke-linejoin="round"/><path d="M300.9 180.0L300.8 180.7L300.3 181.3L299.5 181.7L298.5 181.9L297.5 182.0L296.4 181.8L295.7 181.3L295.1 180.7L295.0 180.0L295.3 179.3L295.7 178.7L296.5 178.3L297.5 178.0L298.5 178.0L299.5 178.3L300.4 178.7L300.8 179.3Z" fill="none" stroke="#2020a8" stroke-width="0.8" stroke-linejoin="round"/></g>
<g filter="url(#bl2)"><ellipse cx="255.8" cy="180.8" rx="6.6" ry="6.6" fill="#16169a"/><ellipse cx="255.8" cy="180.8" rx="5.5" ry="5.5" fill="#1c3cf0"/><ellipse cx="255.8" cy="180.8" rx="4.5" ry="4.5" fill="#10b8f0"/><ellipse cx="255.8" cy="180.8" rx="3.5" ry="3.5" fill="#30d060"/><ellipse cx="255.8" cy="180.8" rx="2.5" ry="2.5" fill="#e8ec10"/><ellipse cx="255.8" cy="180.8" rx="2" ry="2" fill="#ff9000"/><ellipse cx="255.8" cy="180.8" rx="1.5" ry="1.5" fill="#ee1a0a"/></g>
<line x1="230.6" y1="125.1" x2="230.6" y2="191.9" stroke="#222" stroke-width="1.2"/><line x1="230.1" y1="191.4" x2="313.0" y2="191.4" stroke="#222" stroke-width="1.2"/><path d="M229.0 182.6h1.6M229.0 173.7h1.6M229.0 164.9h1.6M229.0 156.0h1.6M229.0 147.2h1.6M229.0 138.4h1.6M229.0 129.5h1.6M240.3 191.4v1.6M250.0 191.4v1.6M259.7 191.4v1.6M269.4 191.4v1.6M279.1 191.4v1.6M288.8 191.4v1.6M298.5 191.4v1.6M308.2 191.4v1.6" stroke="#222" stroke-width="0.7" fill="none"/>
<path d="M230.6 158.9H269.5V125.1M270.2 191.4V163.5H312.8" stroke="#f79090" stroke-width="1.1" fill="none"/>
<g filter="url(#sd)"><path d="M341 184.5h1M357 180.5h1M355 182.5h1M365 182.5h1M356 183.5h1M341 180.5h1M362 183.5h1M377 179.5h1M347 181.5h1M337 182.5h1M395 181.5h1M346 178.5h1M366 178.5h1M354 181.5h1M344 178.5h1M356 178.5h1M369 183.5h1M371 183.5h1M377 177.5h1M353 180.5h1M352 178.5h1M372 181.5h1M352 183.5h1M347 184.5h1M352 180.5h1M356 179.5h1M360 182.5h1M359 183.5h1M363 183.5h1M351 179.5h1M365 179.5h1M348 179.5h1M350 182.5h1M345 178.5h1M350 179.5h1M349 178.5h1M344 179.5h1M347 186.5h1M373 176.5h1M348 184.5h1M364 177.5h1M337 179.5h1M339 182.5h1M374 182.5h1M343 180.5h1M367 180.5h1M345 180.5h1M339 178.5h1M368 179.5h1M367 181.5h1M361 182.5h1M369 183.5h1M344 181.5h1M337 181.5h1M340 180.5h1M381 181.5h1M352 187.5h1M346 178.5h1M358 179.5h1M348 180.5h1M337 180.5h1M357 184.5h1M348 182.5h1M369 176.5h1M364 170.5h1M364 178.5h1M335 176.5h1M381 160.5h1M358 169.5h1M368 180.5h1M354 166.5h1M353 173.5h1M349 174.5h1M337 158.5h1M383 168.5h1M360 168.5h1M354 164.5h1M358 164.5h1M341 175.5h1M349 166.5h1M363 168.5h1M357 166.5h1M351 176.5h1M364 170.5h1M371 172.5h1M364 169.5h1M364 178.5h1M378 169.5h1M342 176.5h1M353 172.5h1M349 167.5h1M348 179.5h1M366 176.5h1M358 167.5h1M384 170.5h1M372 169.5h1M362 175.5h1M372 171.5h1M392 169.5h1M348 179.5h1M368 165.5h1M388 172.5h1M359 164.5h1M357 173.5h1M357 173.5h1M348 173.5h1M345 176.5h1M369 165.5h1M388 175.5h1M395 170.5h1M396 170.5h1M382 171.5h1M394 171.5h1M396 174.5h1M400 174.5h1M385 173.5h1M397 173.5h1M395 170.5h1M391 168.5h1M387 172.5h1M397 177.5h1M388 170.5h1M394 172.5h1M388 175.5h1M395 173.5h1M387 172.5h1M397 174.5h1M396 178.5h1M392 174.5h1M341 189.5h1M388 153.5h1M404 162.5h1M390 182.5h1M386 179.5h1M389 170.5h1M392 171.5h1M407 175.5h1" stroke="#5a5ad0" stroke-width="1.1"/><path d="M347 178.5h1M337 179.5h1M389 179.5h1M354 183.5h1M352 177.5h1M355 179.5h1M352 181.5h1M365 181.5h1M333 178.5h1M338 181.5h1M363 181.5h1M348 180.5h1M377 180.5h1M353 182.5h1M384 183.5h1M370 186.5h1M355 179.5h1M342 179.5h1M340 181.5h1M350 181.5h1M370 177.5h1M372 183.5h1M374 179.5h1M353 181.5h1M375 176.5h1M348 179.5h1M356 181.5h1M345 179.5h1M360 179.5h1M349 181.5h1M357 184.5h1M355 180.5h1M367 178.5h1M348 178.5h1M372 180.5h1M374 176.5h1M370 179.5h1M362 182.5h1M369 182.5h1M352 183.5h1M360 178.5h1M369 186.5h1M368 182.5h1M349 180.5h1M334 181.5h1M354 183.5h1M361 179.5h1M356 179.5h1M362 181.5h1M387 182.5h1M342 183.5h1M369 183.5h1M380 179.5h1M358 183.5h1M369 181.5h1M375 180.5h1M356 178.5h1M371 180.5h1M360 183.5h1M344 177.5h1M387 182.5h1M382 183.5h1M335 178.5h1M361 181.5h1M358 176.5h1M359 183.5h1M354 184.5h1M367 180.5h1M392 183.5h1M350 181.5h1M341 182.5h1M363 183.5h1M340 177.5h1M356 180.5h1M371 179.5h1M356 177.5h1M369 182.5h1M365 179.5h1M337 181.5h1M349 180.5h1M368 181.5h1M357 181.5h1M341 179.5h1M369 180.5h1M367 178.5h1M362 181.5h1M351 180.5h1M368 181.5h1M355 179.5h1M367 186.5h1M354 180.5h1M365 179.5h1M337 176.5h1M336 182.5h1M377 182.5h1M364 181.5h1M340 184.5h1M384 177.5h1M384 180.5h1M360 179.5h1M365 181.5h1M333 179.5h1M368 180.5h1M368 182.5h1M370 177.5h1M361 181.5h1M349 179.5h1M341 179.5h1M344 177.5h1M369 182.5h1M378 180.5h1M334 183.5h1M348 180.5h1M350 178.5h1M347 179.5h1M366 180.5h1M371 178.5h1M361 177.5h1M359 182.5h1M341 181.5h1M339 178.5h1M358 176.5h1M363 180.5h1M348 178.5h1M359 179.5h1M365 184.5h1M353 184.5h1M355 180.5h1M362 180.5h1M344 182.5h1M355 182.5h1M358 180.5h1M337 178.5h1M362 181.5h1M339 180.5h1M341 181.5h1M339 181.5h1M358 182.5h1M370 177.5h1M348 183.5h1M352 179.5h1M357 180.5h1M373 183.5h1M348 179.5h1M342 174.5h1M354 182.5h1M358 177.5h1M371 181.5h1M355 181.5h1M365 182.5h1M346 182.5h1M354 181.5h1M332 183.5h1M335 179.5h1M351 178.5h1M336 178.5h1M364 182.5h1M360 180.5h1M354 182.5h1M361 182.5h1M349 179.5h1M335 179.5h1M373 176.5h1M340 183.5h1M343 178.5h1M367 182.5h1M342 180.5h1M340 179.5h1M355 180.5h1M366 183.5h1M363 181.5h1M354 180.5h1M334 180.5h1M357 180.5h1M373 186.5h1M390 182.5h1M345 183.5h1M360 179.5h1M346 177.5h1M363 175.5h1M344 169.5h1M363 176.5h1M358 184.5h1M353 169.5h1M364 175.5h1M358 177.5h1M354 168.5h1M361 169.5h1M381 168.5h1M353 171.5h1M365 175.5h1M358 175.5h1M364 175.5h1M359 179.5h1M373 170.5h1M383 166.5h1M364 169.5h1M358 170.5h1M372 169.5h1M358 168.5h1M353 170.5h1M375 169.5h1M344 176.5h1M353 182.5h1M367 173.5h1M347 174.5h1M369 176.5h1M371 167.5h1M378 172.5h1M380 163.5h1M351 170.5h1M348 167.5h1M381 178.5h1M351 170.5h1M365 174.5h1M368 176.5h1M379 184.5h1M368 167.5h1M352 175.5h1M379 164.5h1M373 171.5h1M385 175.5h1M363 174.5h1M386 174.5h1M360 171.5h1M355 177.5h1M350 168.5h1M366 168.5h1M348 176.5h1M356 161.5h1M346 176.5h1M348 166.5h1M378 175.5h1M364 178.5h1M346 169.5h1M368 180.5h1M364 173.5h1M370 172.5h1M358 168.5h1M393 178.5h1M356 174.5h1M364 170.5h1M378 166.5h1M339 177.5h1M359 169.5h1M345 178.5h1M359 168.5h1M353 180.5h1M374 163.5h1M356 174.5h1M362 178.5h1M354 172.5h1M370 174.5h1M352 170.5h1M350 168.5h1M351 178.5h1M379 170.5h1M363 173.5h1M383 168.5h1M350 177.5h1M354 166.5h1M352 174.5h1M373 172.5h1M391 173.5h1M394 169.5h1M398 176.5h1M386 170.5h1M393 172.5h1M393 175.5h1M392 174.5h1M392 174.5h1M389 176.5h1M386 171.5h1M391 176.5h1M388 172.5h1M393 174.5h1M390 172.5h1M387 171.5h1M392 177.5h1M386 169.5h1M391 171.5h1M390 173.5h1M392 166.5h1M391 169.5h1M395 172.5h1M392 176.5h1M386 163.5h1M385 171.5h1M398 168.5h1M392 171.5h1M388 168.5h1M376 169.5h1M389 177.5h1M392 175.5h1M394 168.5h1M391 171.5h1M397 170.5h1M386 173.5h1M396 175.5h1M389 170.5h1M395 175.5h1M389 171.5h1M394 172.5h1M388 170.5h1M383 168.5h1M385 171.5h1M394 175.5h1M393 172.5h1M387 173.5h1M394 174.5h1M380 171.5h1M386 170.5h1M380 155.5h1M369 158.5h1M360 176.5h1M365 142.5h1M371 163.5h1M353 128.5h1M385 147.5h1M400 131.5h1M393 172.5h1M394 178.5h1M392 167.5h1M386 166.5h1M413 179.5h1M399 164.5h1M396 188.5h1M412 166.5h1" stroke="#1c1ca6" stroke-width="1.1"/></g>
<clipPath id="cp2"><rect x="331.1" y="125.8" width="84.9" height="66.3"/></clipPath>
<g clip-path="url(#cp2)"><path d="M380.8 180.5L379.5 182.4L375.7 184.1L369.2 185.3L361.1 185.9L352.9 185.8L344.7 185.4L338.6 184.0L334.2 182.4L332.5 180.5L334.6 178.6L338.9 177.0L345.1 175.8L352.9 175.2L361.1 175.2L369.2 175.6L375.5 176.9L379.7 178.6Z" fill="none" stroke="#2020a8" stroke-width="0.8" stroke-linejoin="round"/></g>
<g filter="url(#bl2)"><ellipse cx="356.6" cy="181.2" rx="22" ry="4.2" fill="#16169a"/><ellipse cx="356.6" cy="181.2" rx="19.4" ry="3.7" fill="#1c3cf0"/><ellipse cx="356.6" cy="181.2" rx="16.7" ry="3.2" fill="#10b8f0"/><ellipse cx="356.6" cy="181.2" rx="13.9" ry="2.6" fill="#30d060"/><ellipse cx="356.6" cy="181.2" rx="11" ry="2.1" fill="#e8ec10"/><ellipse cx="356.6" cy="181.2" rx="9.2" ry="1.8" fill="#ff9000"/><ellipse cx="356.6" cy="181.2" rx="7.3" ry="1.4" fill="#ee1a0a"/></g>
<line x1="331.1" y1="125.8" x2="331.1" y2="192.6" stroke="#222" stroke-width="1.2"/><line x1="330.6" y1="192.1" x2="416.0" y2="192.1" stroke="#222" stroke-width="1.2"/><path d="M329.5 183.3h1.6M329.5 174.4h1.6M329.5 165.6h1.6M329.5 156.7h1.6M329.5 147.9h1.6M329.5 139.1h1.6M329.5 130.2h1.6M341.1 192.1v1.6M351.1 192.1v1.6M361.1 192.1v1.6M371.1 192.1v1.6M381.0 192.1v1.6M391.0 192.1v1.6M401.0 192.1v1.6M411.0 192.1v1.6" stroke="#222" stroke-width="0.7" fill="none"/>
<path d="M331.1 157.8H379.1V125.8M381.3 192.1V163.0H415.9" stroke="#f79090" stroke-width="1.1" fill="none"/>
<g filter="url(#sd)"><path d="M443 173.5h1M471 175.5h1M467 174.5h1M437 177.5h1M444 180.5h1M432 179.5h1M442 171.5h1M455 179.5h1M457 176.5h1M442 176.5h1M462 174.5h1M472 175.5h1M451 178.5h1M448 172.5h1M449 172.5h1M436 172.5h1M452 174.5h1M456 171.5h1M462 179.5h1M478 178.5h1M459 173.5h1M469 179.5h1M448 174.5h1M468 174.5h1M432 171.5h1M460 177.5h1M443 177.5h1M429 173.5h1M444 175.5h1M448 179.5h1M443 177.5h1M442 175.5h1M467 177.5h1M431 179.5h1M449 176.5h1M462 179.5h1M457 178.5h1M457 178.5h1M459 174.5h1M463 176.5h1M439 173.5h1M448 177.5h1M448 178.5h1M460 176.5h1M483 176.5h1M439 174.5h1M438 172.5h1M454 176.5h1M460 177.5h1M454 181.5h1M487 171.5h1M445 176.5h1M443 176.5h1M448 182.5h1M447 175.5h1M460 172.5h1M459 176.5h1M430 175.5h1M473 176.5h1M483 172.5h1M454 175.5h1M471 183.5h1M466 177.5h1M438 174.5h1M448 173.5h1M492 181.5h1M446 174.5h1M449 170.5h1M464 159.5h1M460 155.5h1M447 163.5h1M468 166.5h1M448 158.5h1M464 163.5h1M460 161.5h1M446 161.5h1M450 163.5h1M450 167.5h1M459 168.5h1M483 160.5h1M443 171.5h1M460 162.5h1M456 166.5h1M476 171.5h1M462 166.5h1M443 164.5h1M455 169.5h1M433 171.5h1M435 160.5h1M448 170.5h1M447 168.5h1M467 162.5h1M463 165.5h1M465 168.5h1M446 171.5h1M450 171.5h1M468 167.5h1M477 164.5h1M462 165.5h1M455 169.5h1M461 170.5h1M454 164.5h1M451 165.5h1M443 165.5h1M447 155.5h1M451 181.5h1M457 166.5h1M471 165.5h1M441 161.5h1M462 163.5h1M442 154.5h1M462 164.5h1M474 162.5h1M450 164.5h1M463 160.5h1M458 156.5h1M462 165.5h1M447 170.5h1M444 160.5h1M455 170.5h1M451 161.5h1M447 165.5h1M442 172.5h1M458 172.5h1M445 159.5h1M447 169.5h1M456 159.5h1M451 166.5h1M460 164.5h1M457 169.5h1M437 163.5h1M450 162.5h1M447 162.5h1M454 161.5h1M465 167.5h1M448 158.5h1M464 162.5h1M462 157.5h1M462 175.5h1M449 168.5h1M459 172.5h1M451 163.5h1M467 163.5h1M459 158.5h1M457 161.5h1M452 168.5h1M451 164.5h1M451 174.5h1M472 157.5h1M441 164.5h1M457 167.5h1M454 179.5h1M457 172.5h1M449 157.5h1M456 172.5h1M452 165.5h1M449 170.5h1M461 157.5h1M449 179.5h1M462 182.5h1M456 166.5h1M448 163.5h1M437 174.5h1M459 178.5h1M439 189.5h1M444 173.5h1M461 181.5h1M453 160.5h1M476 167.5h1M486 157.5h1M478 164.5h1M485 174.5h1M488 147.5h1M479 150.5h1" stroke="#5a5ad0" stroke-width="1.1"/><path d="M429 174.5h1M458 176.5h1M458 173.5h1M449 175.5h1M446 180.5h1M453 175.5h1M459 179.5h1M472 175.5h1M458 177.5h1M439 173.5h1M463 177.5h1M450 176.5h1M438 178.5h1M442 175.5h1M430 176.5h1M439 176.5h1M446 176.5h1M471 175.5h1M457 176.5h1M435 180.5h1M487 174.5h1M472 179.5h1M466 178.5h1M464 174.5h1M446 176.5h1M442 177.5h1M464 179.5h1M427 177.5h1M455 172.5h1M435 177.5h1M471 173.5h1M432 176.5h1M439 177.5h1M449 176.5h1M469 176.5h1M444 175.5h1M447 177.5h1M434 173.5h1M471 179.5h1M427 180.5h1M467 175.5h1M451 179.5h1M450 169.5h1M486 175.5h1M475 175.5h1M431 182.5h1M432 171.5h1M444 171.5h1M466 178.5h1M470 175.5h1M444 179.5h1M442 173.5h1M441 176.5h1M464 176.5h1M475 177.5h1M453 180.5h1M434 176.5h1M464 178.5h1M454 174.5h1M428 175.5h1M439 174.5h1M470 177.5h1M446 176.5h1M463 174.5h1M450 179.5h1M453 174.5h1M442 181.5h1M467 178.5h1M451 176.5h1M460 177.5h1M453 176.5h1M458 176.5h1M453 179.5h1M436 179.5h1M470 175.5h1M467 172.5h1M439 176.5h1M453 179.5h1M455 184.5h1M460 176.5h1M458 175.5h1M492 179.5h1M450 167.5h1M460 179.5h1M439 179.5h1M448 173.5h1M437 176.5h1M435 178.5h1M477 172.5h1M440 179.5h1M451 177.5h1M439 174.5h1M447 181.5h1M459 178.5h1M441 175.5h1M461 174.5h1M445 171.5h1M458 178.5h1M446 174.5h1M440 175.5h1M459 180.5h1M435 178.5h1M456 172.5h1M456 173.5h1M428 179.5h1M446 178.5h1M444 180.5h1M443 177.5h1M479 168.5h1M452 175.5h1M468 174.5h1M465 181.5h1M439 172.5h1M451 174.5h1M440 176.5h1M455 172.5h1M482 176.5h1M450 173.5h1M502 174.5h1M454 175.5h1M465 176.5h1M452 178.5h1M443 174.5h1M464 177.5h1M465 173.5h1M458 179.5h1M478 178.5h1M453 175.5h1M455 173.5h1M467 173.5h1M458 179.5h1M457 178.5h1M437 178.5h1M460 180.5h1M457 177.5h1M436 174.5h1M430 173.5h1M449 176.5h1M434 175.5h1M452 177.5h1M486 178.5h1M447 178.5h1M449 176.5h1M469 182.5h1M464 175.5h1M453 178.5h1M465 178.5h1M438 178.5h1M467 175.5h1M454 182.5h1M456 178.5h1M439 176.5h1M473 179.5h1M457 177.5h1M455 176.5h1M459 171.5h1M451 172.5h1M472 179.5h1M452 179.5h1M462 172.5h1M463 175.5h1M450 173.5h1M444 178.5h1M453 178.5h1M470 175.5h1M462 177.5h1M438 180.5h1M430 178.5h1M453 179.5h1M455 176.5h1M452 181.5h1M452 177.5h1M470 180.5h1M456 173.5h1M459 176.5h1M436 178.5h1M443 168.5h1M465 177.5h1M460 171.5h1M447 169.5h1M453 167.5h1M429 173.5h1M448 172.5h1M456 174.5h1M448 167.5h1M445 164.5h1M439 159.5h1M460 167.5h1M454 166.5h1M436 167.5h1M451 163.5h1M466 165.5h1M454 163.5h1M436 167.5h1M453 171.5h1M457 162.5h1M440 161.5h1M462 173.5h1M447 171.5h1M438 158.5h1M471 164.5h1M463 164.5h1M463 152.5h1M461 167.5h1M465 163.5h1M459 179.5h1M458 166.5h1M450 172.5h1M447 162.5h1M443 176.5h1M465 169.5h1M467 167.5h1M453 169.5h1M457 170.5h1M448 171.5h1M465 168.5h1M452 168.5h1M477 168.5h1M441 159.5h1M438 165.5h1M460 152.5h1M452 168.5h1M428 160.5h1M449 166.5h1M464 165.5h1M449 167.5h1M459 170.5h1M456 163.5h1M470 166.5h1M447 163.5h1M484 173.5h1M465 156.5h1M456 168.5h1M464 178.5h1M449 163.5h1M442 176.5h1M457 168.5h1M449 162.5h1M456 162.5h1M450 161.5h1M458 160.5h1M454 172.5h1M465 160.5h1M456 159.5h1M460 168.5h1M455 151.5h1M439 165.5h1M448 171.5h1M449 157.5h1M462 166.5h1M460 159.5h1M459 162.5h1M442 171.5h1M459 173.5h1M438 166.5h1M443 166.5h1M463 169.5h1M450 166.5h1M469 167.5h1M450 162.5h1M437 163.5h1M460 156.5h1M458 170.5h1M460 165.5h1M458 166.5h1M437 168.5h1M453 175.5h1M450 166.5h1M446 169.5h1M442 166.5h1M471 165.5h1M452 164.5h1M458 171.5h1M466 155.5h1M458 176.5h1M458 172.5h1M474 172.5h1M460 170.5h1M452 173.5h1M465 168.5h1M440 175.5h1M452 164.5h1M463 163.5h1M452 168.5h1M467 172.5h1M452 169.5h1M466 166.5h1M470 168.5h1M443 168.5h1M463 174.5h1M450 162.5h1M450 163.5h1M443 169.5h1M462 167.5h1M452 164.5h1M447 182.5h1M467 160.5h1M450 169.5h1M456 173.5h1M476 164.5h1M441 164.5h1M460 175.5h1M441 164.5h1M448 169.5h1M468 154.5h1M470 160.5h1M457 164.5h1M448 173.5h1M429 171.5h1M450 169.5h1M443 170.5h1M454 171.5h1M485 171.5h1M446 154.5h1M453 170.5h1M451 171.5h1M429 164.5h1M461 168.5h1M459 168.5h1M464 170.5h1M452 159.5h1M430 156.5h1M451 164.5h1M444 174.5h1M458 164.5h1M443 169.5h1M459 165.5h1M456 164.5h1M450 166.5h1M454 168.5h1M466 160.5h1M476 168.5h1M437 161.5h1M455 165.5h1M455 156.5h1M462 161.5h1M451 169.5h1M463 162.5h1M448 170.5h1M449 165.5h1M456 171.5h1M461 165.5h1M466 161.5h1M456 169.5h1M461 160.5h1M458 163.5h1M462 157.5h1M454 171.5h1M460 159.5h1M450 158.5h1M469 173.5h1M471 166.5h1M444 162.5h1M471 159.5h1M460 162.5h1M469 182.5h1M464 167.5h1M446 178.5h1M461 160.5h1M434 163.5h1M454 162.5h1M461 156.5h1M464 170.5h1M458 161.5h1M439 160.5h1M443 162.5h1M455 162.5h1M463 163.5h1M451 163.5h1M473 163.5h1M452 166.5h1M468 162.5h1M476 169.5h1M436 169.5h1M453 175.5h1M450 151.5h1M449 164.5h1M446 169.5h1M456 161.5h1M448 157.5h1M461 167.5h1M455 167.5h1M455 180.5h1M451 172.5h1M452 162.5h1M449 163.5h1M463 152.5h1M466 176.5h1M468 155.5h1M465 157.5h1M450 169.5h1M435 162.5h1M427 167.5h1M452 164.5h1M437 165.5h1M440 167.5h1M439 165.5h1M453 165.5h1M442 168.5h1M456 170.5h1M445 172.5h1M457 173.5h1M459 181.5h1M431 163.5h1M428 172.5h1M446 169.5h1M430 187.5h1M444 174.5h1M473 163.5h1M441 168.5h1M474 173.5h1M435 186.5h1M447 183.5h1M442 173.5h1M456 185.5h1M433 182.5h1M437 164.5h1M429 187.5h1M444 168.5h1M471 164.5h1M462 184.5h1M451 169.5h1M430 163.5h1M464 162.5h1M466 189.5h1M457 161.5h1M433 185.5h1M453 178.5h1M428 160.5h1M468 160.5h1M483 176.5h1M478 182.5h1M487 165.5h1M491 170.5h1M480 160.5h1M482 161.5h1M480 169.5h1M481 150.5h1M481 164.5h1M480 172.5h1M476 169.5h1M477 160.5h1M480 172.5h1M478 184.5h1M478 174.5h1M487 174.5h1M483 162.5h1M475 169.5h1M480 172.5h1M476 174.5h1M479 181.5h1M481 174.5h1M479 163.5h1M481 161.5h1M481 166.5h1M485 148.5h1M481 151.5h1M488 145.5h1M485 145.5h1" stroke="#1c1ca6" stroke-width="1.1"/></g>
<clipPath id="cp3"><rect x="426.2" y="125.1" width="82.8" height="67.0"/></clipPath>
<g clip-path="url(#cp3)"><path d="M477.9 177.0L476.2 179.0L471.8 180.8L465.3 182.1L457.4 183.0L448.6 182.9L440.4 182.2L434.1 180.8L429.4 179.1L428.3 177.0L430.1 175.0L433.5 173.1L440.4 171.8L448.6 171.1L457.3 171.2L465.3 171.9L472.4 173.1L476.2 175.0Z" fill="none" stroke="#2020a8" stroke-width="0.8" stroke-linejoin="round"/></g>
<g filter="url(#bl2)"><ellipse cx="453.2" cy="177.2" rx="23" ry="4.6" fill="#16169a"/><ellipse cx="453.2" cy="177.2" rx="20.2" ry="4" fill="#1c3cf0"/><ellipse cx="453.2" cy="177.2" rx="17.5" ry="3.5" fill="#10b8f0"/><ellipse cx="453.2" cy="177.2" rx="14.5" ry="2.9" fill="#30d060"/><ellipse cx="453.2" cy="177.2" rx="11.5" ry="2.3" fill="#e8ec10"/><ellipse cx="453.2" cy="177.2" rx="9.7" ry="1.9" fill="#ff9000"/><ellipse cx="453.2" cy="177.2" rx="7.6" ry="1.5" fill="#ee1a0a"/></g>
<line x1="426.2" y1="125.1" x2="426.2" y2="192.6" stroke="#222" stroke-width="1.2"/><line x1="425.7" y1="192.1" x2="509.0" y2="192.1" stroke="#222" stroke-width="1.2"/><path d="M424.59999999999997 183.2h1.6M424.59999999999997 174.2h1.6M424.59999999999997 165.3h1.6M424.59999999999997 156.4h1.6M424.59999999999997 147.4h1.6M424.59999999999997 138.5h1.6M424.59999999999997 129.6h1.6M435.9 192.1v1.6M445.7 192.1v1.6M455.4 192.1v1.6M465.2 192.1v1.6M474.9 192.1v1.6M484.6 192.1v1.6M494.4 192.1v1.6M504.1 192.1v1.6" stroke="#222" stroke-width="0.7" fill="none"/>
<path d="M426.2 157.8H475.6V125.1M476.8 192.1V164.1H508.8" stroke="#f79090" stroke-width="1.1" fill="none"/>
<text x="139.2" y="45.4" font-size="8.4" font-weight="bold" stroke="#ff1a1a" stroke-width="0.2" fill="#ff1a1a" textLength="21.6" lengthAdjust="spacingAndGlyphs">11.0%</text>
<text x="218.8" y="45.4" font-size="8.4" font-weight="bold" stroke="#111" stroke-width="0.2" fill="#111" text-anchor="end" textLength="17.6" lengthAdjust="spacingAndGlyphs">3.8%</text>
<text x="138.2" y="101.6" font-size="8.4" font-weight="bold" stroke="#111" stroke-width="0.2" fill="#111" textLength="22.6" lengthAdjust="spacingAndGlyphs">35.0%</text>
<text x="218.8" y="101.6" font-size="8.4" font-weight="bold" stroke="#111" stroke-width="0.2" fill="#111" text-anchor="end" textLength="22.0" lengthAdjust="spacingAndGlyphs">50.3%</text>
<text x="233.6" y="44.8" font-size="8.4" font-weight="bold" stroke="#ff1a1a" stroke-width="0.2" fill="#ff1a1a" textLength="18.2" lengthAdjust="spacingAndGlyphs">7.4%</text>
<text x="315.6" y="44.8" font-size="8.4" font-weight="bold" stroke="#111" stroke-width="0.2" fill="#111" text-anchor="end" textLength="17.8" lengthAdjust="spacingAndGlyphs">2.2%</text>
<text x="231.4" y="101.8" font-size="8.4" font-weight="bold" stroke="#111" stroke-width="0.2" fill="#111" textLength="23.4" lengthAdjust="spacingAndGlyphs">36.4%</text>
<text x="315.6" y="101.8" font-size="8.4" font-weight="bold" stroke="#111" stroke-width="0.2" fill="#111" text-anchor="end" textLength="22.6" lengthAdjust="spacingAndGlyphs">54.0%</text>
<text x="333.0" y="44.6" font-size="8.4" font-weight="bold" stroke="#ff1a1a" stroke-width="0.2" fill="#ff1a1a" textLength="23.0" lengthAdjust="spacingAndGlyphs">0.92%</text>
<text x="413.2" y="44.6" font-size="8.4" font-weight="bold" stroke="#111" stroke-width="0.2" fill="#111" text-anchor="end" textLength="23.0" lengthAdjust="spacingAndGlyphs">4.65%</text>
<text x="332.0" y="102.0" font-size="8.4" font-weight="bold" stroke="#111" stroke-width="0.2" fill="#111" textLength="27.8" lengthAdjust="spacingAndGlyphs">16.14%</text>
<text x="416.0" y="102.0" font-size="8.4" font-weight="bold" stroke="#111" stroke-width="0.2" fill="#111" text-anchor="end" textLength="26.6" lengthAdjust="spacingAndGlyphs">78.30%</text>
<text x="429.0" y="44.9" font-size="8.4" font-weight="bold" stroke="#ff1a1a" stroke-width="0.2" fill="#ff1a1a" textLength="18.0" lengthAdjust="spacingAndGlyphs">0.3%</text>
<text x="511.2" y="44.9" font-size="8.4" font-weight="bold" stroke="#111" stroke-width="0.2" fill="#111" text-anchor="end" textLength="18.0" lengthAdjust="spacingAndGlyphs">0.4%</text>
<text x="428.0" y="102.4" font-size="8.4" font-weight="bold" stroke="#111" stroke-width="0.2" fill="#111" textLength="22.2" lengthAdjust="spacingAndGlyphs">52.5%</text>
<text x="511.2" y="102.4" font-size="8.4" font-weight="bold" stroke="#111" stroke-width="0.2" fill="#111" text-anchor="end" textLength="22.4" lengthAdjust="spacingAndGlyphs">46.8%</text>
<text x="138.0" y="134.6" font-size="8.4" font-weight="bold" stroke="#ff1a1a" stroke-width="0.2" fill="#ff1a1a" textLength="18.0" lengthAdjust="spacingAndGlyphs">6.4%</text>
<text x="218.2" y="190.6" font-size="8.4" font-weight="bold" stroke="#ff1a1a" stroke-width="0.2" fill="#ff1a1a" text-anchor="end" textLength="18.0" lengthAdjust="spacingAndGlyphs">4.6%</text>
<text x="233.0" y="132.2" font-size="8.4" font-weight="bold" stroke="#ff1a1a" stroke-width="0.2" fill="#ff1a1a" textLength="18.0" lengthAdjust="spacingAndGlyphs">7.4%</text>
<text x="317.6" y="191.8" font-size="8.4" font-weight="bold" stroke="#ff1a1a" stroke-width="0.2" fill="#ff1a1a" text-anchor="end" textLength="17.0" lengthAdjust="spacingAndGlyphs">7.0%</text>
<text x="334.2" y="133.8" font-size="8.4" font-weight="bold" stroke="#ff1a1a" stroke-width="0.2" fill="#ff1a1a" textLength="17.5" lengthAdjust="spacingAndGlyphs">0.1%</text>
<text x="417.6" y="190.8" font-size="8.4" font-weight="bold" stroke="#ff1a1a" stroke-width="0.2" fill="#ff1a1a" text-anchor="end" textLength="17.0" lengthAdjust="spacingAndGlyphs">2.9%</text>
<text x="428.6" y="133.4" font-size="8.4" font-weight="bold" stroke="#ff1a1a" stroke-width="0.2" fill="#ff1a1a" textLength="17.4" lengthAdjust="spacingAndGlyphs">0.3%</text>
<text x="509.4" y="190.2" font-size="8.4" font-weight="bold" stroke="#ff1a1a" stroke-width="0.2" fill="#ff1a1a" text-anchor="end" textLength="17.5" lengthAdjust="spacingAndGlyphs">0.2%</text>
<text x="441.2" y="249.4" font-size="10.4" text-anchor="middle" fill="#1a1a1a">B-cells</text>
<rect x="378.9" y="278.03" width="12.6" height="37.37" fill="#2e4a7c" stroke="none" stroke-width="1"/>
<line x1="385.2" y1="277.65" x2="385.2" y2="278.03" stroke="#1a1a1a" stroke-width="1"/>
<line x1="382.0" y1="277.65" x2="388.4" y2="277.65" stroke="#1a1a1a" stroke-width="1"/>
<rect x="393.9" y="310.06" width="12.6" height="5.34" fill="#2e4a7c" stroke="none" stroke-width="1"/>
<line x1="400.2" y1="307.39" x2="400.2" y2="310.06" stroke="#1a1a1a" stroke-width="1"/>
<line x1="397.0" y1="307.39" x2="403.4" y2="307.39" stroke="#1a1a1a" stroke-width="1"/>
<rect x="408.9" y="315.09" width="12.6" height="0.31" fill="#2e4a7c" stroke="none" stroke-width="1"/>
<rect x="444.3" y="277.46" width="12.6" height="37.94" fill="#a00026" stroke="none" stroke-width="1"/>
<line x1="450.6" y1="277.27" x2="450.6" y2="277.46" stroke="#1a1a1a" stroke-width="1"/>
<line x1="447.40000000000003" y1="277.27" x2="453.8" y2="277.27" stroke="#1a1a1a" stroke-width="1"/>
<rect x="459.3" y="303.01" width="12.6" height="12.39" fill="#a00026" stroke="none" stroke-width="1"/>
<line x1="465.6" y1="294.05" x2="465.6" y2="303.01" stroke="#1a1a1a" stroke-width="1"/>
<line x1="462.40000000000003" y1="294.05" x2="468.8" y2="294.05" stroke="#1a1a1a" stroke-width="1"/>
<rect x="474.3" y="312.01" width="12.6" height="3.39" fill="#a00026" stroke="none" stroke-width="1"/>
<line x1="480.6" y1="308.61" x2="480.6" y2="312.01" stroke="#1a1a1a" stroke-width="1"/>
<line x1="477.40000000000003" y1="308.61" x2="483.8" y2="308.61" stroke="#1a1a1a" stroke-width="1"/>
<line x1="372.6" y1="256" x2="372.6" y2="316.09999999999997" stroke="#1a1a1a" stroke-width="1.5"/>
<line x1="371.90000000000003" y1="315.4" x2="508.6" y2="315.4" stroke="#1a1a1a" stroke-width="1.5"/>
<line x1="369.6" y1="315.4" x2="372.6" y2="315.4" stroke="#1a1a1a" stroke-width="1.1"/>
<text x="366.4" y="318.4" font-size="8.8" text-anchor="end" fill="#1a1a1a">0</text>
<line x1="369.6" y1="296.33" x2="372.6" y2="296.33" stroke="#1a1a1a" stroke-width="1.1"/>
<text x="366.4" y="299.33" font-size="8.8" text-anchor="end" fill="#1a1a1a">50</text>
<line x1="369.6" y1="277.27" x2="372.6" y2="277.27" stroke="#1a1a1a" stroke-width="1.1"/>
<text x="366.4" y="280.27" font-size="8.8" text-anchor="end" fill="#1a1a1a">100</text>
<line x1="369.6" y1="258.2" x2="372.6" y2="258.2" stroke="#1a1a1a" stroke-width="1.1"/>
<text x="366.4" y="261.2" font-size="8.8" text-anchor="end" fill="#1a1a1a">150</text>
<line x1="385.2" y1="315.4" x2="385.2" y2="318.2" stroke="#1a1a1a" stroke-width="1.1"/>
<line x1="400.2" y1="315.4" x2="400.2" y2="318.2" stroke="#1a1a1a" stroke-width="1.1"/>
<line x1="415.2" y1="315.4" x2="415.2" y2="318.2" stroke="#1a1a1a" stroke-width="1.1"/>
<line x1="430.2" y1="315.4" x2="430.2" y2="318.2" stroke="#1a1a1a" stroke-width="1.1"/>
<line x1="450.6" y1="315.4" x2="450.6" y2="318.2" stroke="#1a1a1a" stroke-width="1.1"/>
<line x1="465.6" y1="315.4" x2="465.6" y2="318.2" stroke="#1a1a1a" stroke-width="1.1"/>
<line x1="480.6" y1="315.4" x2="480.6" y2="318.2" stroke="#1a1a1a" stroke-width="1.1"/>
<line x1="495.6" y1="315.4" x2="495.6" y2="318.2" stroke="#1a1a1a" stroke-width="1.1"/>
<text x="385.2" y="329.2" font-size="8.8" text-anchor="middle" fill="#1a1a1a">0</text>
<text x="400.2" y="329.2" font-size="8.8" text-anchor="middle" fill="#1a1a1a">6</text>
<text x="415.2" y="329.2" font-size="8.8" text-anchor="middle" fill="#1a1a1a">13</text>
<text x="430.2" y="329.2" font-size="8.8" text-anchor="middle" fill="#1a1a1a">20</text>
<text x="450.6" y="329.2" font-size="8.8" text-anchor="middle" fill="#1a1a1a">0</text>
<text x="465.6" y="329.2" font-size="8.8" text-anchor="middle" fill="#1a1a1a">6</text>
<text x="480.6" y="329.2" font-size="8.8" text-anchor="middle" fill="#1a1a1a">13</text>
<text x="495.6" y="329.2" font-size="8.8" text-anchor="middle" fill="#1a1a1a">20</text>
<rect x="468" y="257.0" width="10" height="5.0" fill="#2e4a7c" stroke="none" stroke-width="1"/>
<text x="481" y="262.3" font-size="9.9" textLength="27.6" lengthAdjust="spacingAndGlyphs" fill="#1a1a1a">Control</text>
<rect x="468" y="269.2" width="10" height="5.0" fill="#a00026" stroke="none" stroke-width="1"/>
<text x="481" y="274.4" font-size="9.9" textLength="9.8" lengthAdjust="spacingAndGlyphs" fill="#1a1a1a">P3</text>
<text x="440.5" y="350.4" font-size="10.4" text-anchor="middle" fill="#1a1a1a">Plasmablasts</text>
<rect x="393.9" y="369.0" width="12.6" height="43.2" fill="#2e4a7c" stroke="none" stroke-width="1"/>
<line x1="400.2" y1="365.56" x2="400.2" y2="369.0" stroke="#1a1a1a" stroke-width="1"/>
<line x1="397.0" y1="365.56" x2="403.4" y2="365.56" stroke="#1a1a1a" stroke-width="1"/>
<rect x="408.9" y="395.58" width="12.6" height="16.62" fill="#2e4a7c" stroke="none" stroke-width="1"/>
<line x1="415.2" y1="392.99" x2="415.2" y2="395.58" stroke="#1a1a1a" stroke-width="1"/>
<line x1="412.0" y1="392.99" x2="418.4" y2="392.99" stroke="#1a1a1a" stroke-width="1"/>
<rect x="423.9" y="403.59" width="12.6" height="8.61" fill="#2e4a7c" stroke="none" stroke-width="1"/>
<line x1="430.2" y1="401.44" x2="430.2" y2="403.59" stroke="#1a1a1a" stroke-width="1"/>
<line x1="427.0" y1="401.44" x2="433.4" y2="401.44" stroke="#1a1a1a" stroke-width="1"/>
<rect x="459.3" y="376.42" width="12.6" height="35.78" fill="#a00026" stroke="none" stroke-width="1"/>
<line x1="465.6" y1="363.62" x2="465.6" y2="376.42" stroke="#1a1a1a" stroke-width="1"/>
<line x1="462.40000000000003" y1="363.62" x2="468.8" y2="363.62" stroke="#1a1a1a" stroke-width="1"/>
<rect x="474.3" y="369.0" width="12.6" height="43.2" fill="#a00026" stroke="none" stroke-width="1"/>
<line x1="480.6" y1="365.56" x2="480.6" y2="369.0" stroke="#1a1a1a" stroke-width="1"/>
<line x1="477.40000000000003" y1="365.56" x2="483.8" y2="365.56" stroke="#1a1a1a" stroke-width="1"/>
<line x1="372.6" y1="356" x2="372.6" y2="412.9" stroke="#1a1a1a" stroke-width="1.5"/>
<line x1="371.90000000000003" y1="412.2" x2="508.6" y2="412.2" stroke="#1a1a1a" stroke-width="1.5"/>
<line x1="369.6" y1="412.2" x2="372.6" y2="412.2" stroke="#1a1a1a" stroke-width="1.1"/>
<text x="366.4" y="415.2" font-size="8.8" text-anchor="end" fill="#1a1a1a">0</text>
<line x1="369.6" y1="401.44" x2="372.6" y2="401.44" stroke="#1a1a1a" stroke-width="1.1"/>
<text x="366.4" y="404.44" font-size="8.8" text-anchor="end" fill="#1a1a1a">20</text>
<line x1="369.6" y1="390.68" x2="372.6" y2="390.68" stroke="#1a1a1a" stroke-width="1.1"/>
<text x="366.4" y="393.68" font-size="8.8" text-anchor="end" fill="#1a1a1a">40</text>
<line x1="369.6" y1="379.92" x2="372.6" y2="379.92" stroke="#1a1a1a" stroke-width="1.1"/>
<text x="366.4" y="382.92" font-size="8.8" text-anchor="end" fill="#1a1a1a">60</text>
<line x1="369.6" y1="369.16" x2="372.6" y2="369.16" stroke="#1a1a1a" stroke-width="1.1"/>
<text x="366.4" y="372.16" font-size="8.8" text-anchor="end" fill="#1a1a1a">80</text>
<line x1="369.6" y1="358.4" x2="372.6" y2="358.4" stroke="#1a1a1a" stroke-width="1.1"/>
<text x="366.4" y="361.4" font-size="8.8" text-anchor="end" fill="#1a1a1a">100</text>
<line x1="385.2" y1="412.2" x2="385.2" y2="415.0" stroke="#1a1a1a" stroke-width="1.1"/>
<line x1="400.2" y1="412.2" x2="400.2" y2="415.0" stroke="#1a1a1a" stroke-width="1.1"/>
<line x1="415.2" y1="412.2" x2="415.2" y2="415.0" stroke="#1a1a1a" stroke-width="1.1"/>
<line x1="430.2" y1="412.2" x2="430.2" y2="415.0" stroke="#1a1a1a" stroke-width="1.1"/>
<line x1="450.6" y1="412.2" x2="450.6" y2="415.0" stroke="#1a1a1a" stroke-width="1.1"/>
<line x1="465.6" y1="412.2" x2="465.6" y2="415.0" stroke="#1a1a1a" stroke-width="1.1"/>
<line x1="480.6" y1="412.2" x2="480.6" y2="415.0" stroke="#1a1a1a" stroke-width="1.1"/>
<line x1="495.6" y1="412.2" x2="495.6" y2="415.0" stroke="#1a1a1a" stroke-width="1.1"/>
<text x="385.2" y="426.2" font-size="8.8" text-anchor="middle" fill="#1a1a1a">0</text>
<text x="400.2" y="426.2" font-size="8.8" text-anchor="middle" fill="#1a1a1a">6</text>
<text x="415.2" y="426.2" font-size="8.8" text-anchor="middle" fill="#1a1a1a">13</text>
<text x="430.2" y="426.2" font-size="8.8" text-anchor="middle" fill="#1a1a1a">20</text>
<text x="450.6" y="426.2" font-size="8.8" text-anchor="middle" fill="#1a1a1a">0</text>
<text x="465.6" y="426.2" font-size="8.8" text-anchor="middle" fill="#1a1a1a">6</text>
<text x="480.6" y="426.2" font-size="8.8" text-anchor="middle" fill="#1a1a1a">13</text>
<text x="495.6" y="426.2" font-size="8.8" text-anchor="middle" fill="#1a1a1a">20</text>
<text x="440.5" y="448.2" font-size="10.4" text-anchor="middle" fill="#1a1a1a">Plasma cells</text>
<rect x="393.9" y="510.01" width="12.6" height="1.38" fill="#2e4a7c" stroke="none" stroke-width="1"/>
<line x1="400.2" y1="508.63" x2="400.2" y2="510.01" stroke="#1a1a1a" stroke-width="1"/>
<line x1="397.0" y1="508.63" x2="403.4" y2="508.63" stroke="#1a1a1a" stroke-width="1"/>
<rect x="408.9" y="475.0" width="12.6" height="36.4" fill="#2e4a7c" stroke="none" stroke-width="1"/>
<line x1="415.2" y1="472.4" x2="415.2" y2="475.0" stroke="#1a1a1a" stroke-width="1"/>
<line x1="412.0" y1="472.4" x2="418.4" y2="472.4" stroke="#1a1a1a" stroke-width="1"/>
<rect x="423.9" y="465.97" width="12.6" height="45.43" fill="#2e4a7c" stroke="none" stroke-width="1"/>
<line x1="430.2" y1="463.42" x2="430.2" y2="465.97" stroke="#1a1a1a" stroke-width="1"/>
<line x1="427.0" y1="463.42" x2="433.4" y2="463.42" stroke="#1a1a1a" stroke-width="1"/>
<rect x="474.3" y="506.58" width="12.6" height="4.82" fill="#a00026" stroke="none" stroke-width="1"/>
<line x1="480.6" y1="505.42" x2="480.6" y2="506.58" stroke="#1a1a1a" stroke-width="1"/>
<line x1="477.40000000000003" y1="505.42" x2="483.8" y2="505.42" stroke="#1a1a1a" stroke-width="1"/>
<line x1="372.6" y1="454" x2="372.6" y2="512.1" stroke="#1a1a1a" stroke-width="1.5"/>
<line x1="371.90000000000003" y1="511.4" x2="508.6" y2="511.4" stroke="#1a1a1a" stroke-width="1.5"/>
<line x1="369.6" y1="511.4" x2="372.6" y2="511.4" stroke="#1a1a1a" stroke-width="1.1"/>
<text x="366.4" y="514.4" font-size="8.8" text-anchor="end" fill="#1a1a1a">0</text>
<line x1="369.6" y1="500.32" x2="372.6" y2="500.32" stroke="#1a1a1a" stroke-width="1.1"/>
<text x="366.4" y="503.32" font-size="8.8" text-anchor="end" fill="#1a1a1a">20</text>
<line x1="369.6" y1="489.24" x2="372.6" y2="489.24" stroke="#1a1a1a" stroke-width="1.1"/>
<text x="366.4" y="492.24" font-size="8.8" text-anchor="end" fill="#1a1a1a">40</text>
<line x1="369.6" y1="478.16" x2="372.6" y2="478.16" stroke="#1a1a1a" stroke-width="1.1"/>
<text x="366.4" y="481.16" font-size="8.8" text-anchor="end" fill="#1a1a1a">60</text>
<line x1="369.6" y1="467.08" x2="372.6" y2="467.08" stroke="#1a1a1a" stroke-width="1.1"/>
<text x="366.4" y="470.08" font-size="8.8" text-anchor="end" fill="#1a1a1a">80</text>
<line x1="369.6" y1="456.0" x2="372.6" y2="456.0" stroke="#1a1a1a" stroke-width="1.1"/>
<text x="366.4" y="459.0" font-size="8.8" text-anchor="end" fill="#1a1a1a">100</text>
<line x1="385.2" y1="511.4" x2="385.2" y2="514.1999999999999" stroke="#1a1a1a" stroke-width="1.1"/>
<line x1="400.2" y1="511.4" x2="400.2" y2="514.1999999999999" stroke="#1a1a1a" stroke-width="1.1"/>
<line x1="415.2" y1="511.4" x2="415.2" y2="514.1999999999999" stroke="#1a1a1a" stroke-width="1.1"/>
<line x1="430.2" y1="511.4" x2="430.2" y2="514.1999999999999" stroke="#1a1a1a" stroke-width="1.1"/>
<line x1="450.6" y1="511.4" x2="450.6" y2="514.1999999999999" stroke="#1a1a1a" stroke-width="1.1"/>
<line x1="465.6" y1="511.4" x2="465.6" y2="514.1999999999999" stroke="#1a1a1a" stroke-width="1.1"/>
<line x1="480.6" y1="511.4" x2="480.6" y2="514.1999999999999" stroke="#1a1a1a" stroke-width="1.1"/>
<line x1="495.6" y1="511.4" x2="495.6" y2="514.1999999999999" stroke="#1a1a1a" stroke-width="1.1"/>
<text x="385.2" y="525.4" font-size="8.8" text-anchor="middle" fill="#1a1a1a">0</text>
<text x="400.2" y="525.4" font-size="8.8" text-anchor="middle" fill="#1a1a1a">6</text>
<text x="415.2" y="525.4" font-size="8.8" text-anchor="middle" fill="#1a1a1a">13</text>
<text x="430.2" y="525.4" font-size="8.8" text-anchor="middle" fill="#1a1a1a">20</text>
<text x="450.6" y="525.4" font-size="8.8" text-anchor="middle" fill="#1a1a1a">0</text>
<text x="465.6" y="525.4" font-size="8.8" text-anchor="middle" fill="#1a1a1a">6</text>
<text x="480.6" y="525.4" font-size="8.8" text-anchor="middle" fill="#1a1a1a">13</text>
<text x="495.6" y="525.4" font-size="8.8" text-anchor="middle" fill="#1a1a1a">20</text>
<text x="346.0" y="384.5" font-size="10" text-anchor="middle" textLength="103" lengthAdjust="spacingAndGlyphs" transform="rotate(-90 346.0 384.5)" fill="#1a1a1a">Proportion of population [%]</text>
<text x="441.0" y="539.8" font-size="10" text-anchor="middle" textLength="13.4" lengthAdjust="spacingAndGlyphs" fill="#1a1a1a">Day</text>
<text x="108.4" y="429.0" font-size="10.5" text-anchor="middle" textLength="19.2" lengthAdjust="spacingAndGlyphs" fill="#1a1a1a">IgM</text>
<line x1="52.6" y1="437.0" x2="52.6" y2="512.1" stroke="#1a1a1a" stroke-width="1.5"/>
<line x1="51.9" y1="511.4" x2="163.0" y2="511.4" stroke="#1a1a1a" stroke-width="1.5"/>
<line x1="49.0" y1="511.4" x2="52.6" y2="511.4" stroke="#1a1a1a" stroke-width="1.1"/>
<text x="45.4" y="514.1" font-size="8.8" text-anchor="end" fill="#1a1a1a">0</text>
<line x1="49.0" y1="493.6" x2="52.6" y2="493.6" stroke="#1a1a1a" stroke-width="1.1"/>
<text x="45.4" y="496.3" font-size="8.8" text-anchor="end" fill="#1a1a1a">20000</text>
<line x1="49.0" y1="475.7" x2="52.6" y2="475.7" stroke="#1a1a1a" stroke-width="1.1"/>
<text x="45.4" y="478.4" font-size="8.8" text-anchor="end" fill="#1a1a1a">40000</text>
<line x1="49.0" y1="458.0" x2="52.6" y2="458.0" stroke="#1a1a1a" stroke-width="1.1"/>
<text x="45.4" y="460.7" font-size="8.8" text-anchor="end" fill="#1a1a1a">60000</text>
<line x1="49.0" y1="440.1" x2="52.6" y2="440.1" stroke="#1a1a1a" stroke-width="1.1"/>
<text x="45.4" y="442.8" font-size="8.8" text-anchor="end" fill="#1a1a1a">80000</text>
<line x1="85.4" y1="511.4" x2="85.4" y2="514.4" stroke="#1a1a1a" stroke-width="1.1"/>
<text x="85.4" y="524.8" font-size="8.8" text-anchor="middle" fill="#1a1a1a">6</text>
<line x1="122.9" y1="511.4" x2="122.9" y2="514.4" stroke="#1a1a1a" stroke-width="1.1"/>
<text x="122.9" y="524.8" font-size="8.8" text-anchor="middle" fill="#1a1a1a">13</text>
<line x1="160.3" y1="511.4" x2="160.3" y2="514.4" stroke="#1a1a1a" stroke-width="1.1"/>
<text x="160.3" y="524.8" font-size="8.8" text-anchor="middle" fill="#1a1a1a">20</text>
<text x="108.39999999999999" y="540.0" font-size="10" text-anchor="middle" textLength="13.4" lengthAdjust="spacingAndGlyphs" fill="#1a1a1a">Day</text>
<line x1="85.4" y1="447.4" x2="85.4" y2="472.5" stroke="#b0103a" stroke-width="1.1"/>
<line x1="83.10000000000001" y1="447.4" x2="87.7" y2="447.4" stroke="#b0103a" stroke-width="1.1"/>
<line x1="83.10000000000001" y1="472.5" x2="87.7" y2="472.5" stroke="#b0103a" stroke-width="1.1"/>
<line x1="85.4" y1="481.6" x2="85.4" y2="495.3" stroke="#4d6aa6" stroke-width="1.1"/>
<line x1="83.10000000000001" y1="481.6" x2="87.7" y2="481.6" stroke="#4d6aa6" stroke-width="1.1"/>
<line x1="83.10000000000001" y1="495.3" x2="87.7" y2="495.3" stroke="#4d6aa6" stroke-width="1.1"/>
<line x1="122.9" y1="443.2" x2="122.9" y2="478.8" stroke="#4d6aa6" stroke-width="1.1"/>
<line x1="120.60000000000001" y1="443.2" x2="125.2" y2="443.2" stroke="#4d6aa6" stroke-width="1.1"/>
<line x1="120.60000000000001" y1="478.8" x2="125.2" y2="478.8" stroke="#4d6aa6" stroke-width="1.1"/>
<line x1="160.3" y1="486.5" x2="160.3" y2="504.0" stroke="#4d6aa6" stroke-width="1.1"/>
<line x1="158.0" y1="486.5" x2="162.60000000000002" y2="486.5" stroke="#4d6aa6" stroke-width="1.1"/>
<line x1="158.0" y1="504.0" x2="162.60000000000002" y2="504.0" stroke="#4d6aa6" stroke-width="1.1"/>
<polyline points="85.4,459.3 122.9,469.3 160.3,498.6" fill="none" stroke="#b0103a" stroke-width="1.9" stroke-linejoin="round"/>
<path d="M83.0 457.62L87.80000000000001 457.62L85.4 461.46000000000004Z" fill="#b0103a"/>
<path d="M120.5 467.62L125.30000000000001 467.62L122.9 471.46000000000004Z" fill="#b0103a"/>
<path d="M157.9 496.92L162.70000000000002 496.92L160.3 500.76000000000005Z" fill="#b0103a"/>
<polyline points="85.4,488.3 122.9,461.1 160.3,495.3" fill="none" stroke="#2b4a8c" stroke-width="1.9" stroke-linejoin="round"/>
<circle cx="85.4" cy="488.3" r="2.4" fill="#2b4a8c"/>
<circle cx="122.9" cy="461.1" r="2.4" fill="#2b4a8c"/>
<circle cx="160.3" cy="495.3" r="2.4" fill="#2b4a8c"/>
<text x="262.3" y="429.0" font-size="10.5" text-anchor="middle" textLength="18.0" lengthAdjust="spacingAndGlyphs" fill="#1a1a1a">IgG</text>
<line x1="204.8" y1="435.4" x2="204.8" y2="512.1" stroke="#1a1a1a" stroke-width="1.5"/>
<line x1="204.10000000000002" y1="511.4" x2="318.6" y2="511.4" stroke="#1a1a1a" stroke-width="1.5"/>
<line x1="201.20000000000002" y1="511.4" x2="204.8" y2="511.4" stroke="#1a1a1a" stroke-width="1.1"/>
<text x="197.60000000000002" y="514.1" font-size="8.8" text-anchor="end" fill="#1a1a1a">0</text>
<line x1="201.20000000000002" y1="487.0" x2="204.8" y2="487.0" stroke="#1a1a1a" stroke-width="1.1"/>
<text x="197.60000000000002" y="489.7" font-size="8.8" text-anchor="end" fill="#1a1a1a">4000</text>
<line x1="201.20000000000002" y1="462.6" x2="204.8" y2="462.6" stroke="#1a1a1a" stroke-width="1.1"/>
<text x="197.60000000000002" y="465.3" font-size="8.8" text-anchor="end" fill="#1a1a1a">6000</text>
<line x1="201.20000000000002" y1="438.3" x2="204.8" y2="438.3" stroke="#1a1a1a" stroke-width="1.1"/>
<text x="197.60000000000002" y="441.0" font-size="8.8" text-anchor="end" fill="#1a1a1a">12000</text>
<line x1="238.5" y1="511.4" x2="238.5" y2="514.4" stroke="#1a1a1a" stroke-width="1.1"/>
<text x="238.5" y="524.8" font-size="8.8" text-anchor="middle" fill="#1a1a1a">6</text>
<line x1="276.9" y1="511.4" x2="276.9" y2="514.4" stroke="#1a1a1a" stroke-width="1.1"/>
<text x="276.9" y="524.8" font-size="8.8" text-anchor="middle" fill="#1a1a1a">13</text>
<line x1="315.9" y1="511.4" x2="315.9" y2="514.4" stroke="#1a1a1a" stroke-width="1.1"/>
<text x="315.9" y="524.8" font-size="8.8" text-anchor="middle" fill="#1a1a1a">20</text>
<text x="262.30000000000007" y="540.0" font-size="10" text-anchor="middle" textLength="13.4" lengthAdjust="spacingAndGlyphs" fill="#1a1a1a">Day</text>
<line x1="238.5" y1="501.4" x2="238.5" y2="511.0" stroke="#4d6aa6" stroke-width="1.1"/>
<line x1="236.2" y1="501.4" x2="240.8" y2="501.4" stroke="#4d6aa6" stroke-width="1.1"/>
<line x1="236.2" y1="511.0" x2="240.8" y2="511.0" stroke="#4d6aa6" stroke-width="1.1"/>
<line x1="276.9" y1="449.2" x2="276.9" y2="487.2" stroke="#4d6aa6" stroke-width="1.1"/>
<line x1="274.59999999999997" y1="449.2" x2="279.2" y2="449.2" stroke="#4d6aa6" stroke-width="1.1"/>
<line x1="274.59999999999997" y1="487.2" x2="279.2" y2="487.2" stroke="#4d6aa6" stroke-width="1.1"/>
<line x1="315.9" y1="455.2" x2="315.9" y2="493.7" stroke="#4d6aa6" stroke-width="1.1"/>
<line x1="313.59999999999997" y1="455.2" x2="318.2" y2="455.2" stroke="#4d6aa6" stroke-width="1.1"/>
<line x1="313.59999999999997" y1="493.7" x2="318.2" y2="493.7" stroke="#4d6aa6" stroke-width="1.1"/>
<polyline points="238.5,507.4 276.9,501.4 315.9,501.6" fill="none" stroke="#b0103a" stroke-width="1.9" stroke-linejoin="round"/>
<path d="M236.1 505.71999999999997L240.9 505.71999999999997L238.5 509.56Z" fill="#b0103a"/>
<path d="M274.5 499.71999999999997L279.29999999999995 499.71999999999997L276.9 503.56Z" fill="#b0103a"/>
<path d="M313.5 499.92L318.29999999999995 499.92L315.9 503.76000000000005Z" fill="#b0103a"/>
<polyline points="238.5,506.4 276.9,468.0 315.9,474.5" fill="none" stroke="#2b4a8c" stroke-width="1.9" stroke-linejoin="round"/>
<circle cx="238.5" cy="506.4" r="2.4" fill="#2b4a8c"/>
<circle cx="276.9" cy="468.0" r="2.4" fill="#2b4a8c"/>
<circle cx="315.9" cy="474.5" r="2.4" fill="#2b4a8c"/>
<line x1="212.5" y1="437.7" x2="220.5" y2="437.7" stroke="#2b4a8c" stroke-width="1.9"/>
<circle cx="216.5" cy="437.7" r="2.3" fill="#2b4a8c"/>
<text x="223.6" y="441.0" font-size="9.6" textLength="27.4" lengthAdjust="spacingAndGlyphs" fill="#1a1a1a">Control</text>
<line x1="212.5" y1="447.3" x2="220.5" y2="447.3" stroke="#b0103a" stroke-width="1.9"/>
<path d="M214.3 445.76L218.7 445.76L216.5 449.28000000000003Z" fill="#b0103a"/>
<text x="223.6" y="450.6" font-size="9.6" textLength="9.2" lengthAdjust="spacingAndGlyphs" fill="#1a1a1a">P3</text>
<text x="16.6" y="473.7" font-size="10" text-anchor="middle" textLength="81.4" lengthAdjust="spacingAndGlyphs" transform="rotate(-90 16.6 473.7)" fill="#1a1a1a">Total secretion (ng/ml)</text>
<defs>
<radialGradient id="c1" cx="0.55" cy="0.55" r="0.6"><stop offset="0" stop-color="#eef8fb"/><stop offset="0.6" stop-color="#cdeaf3"/><stop offset="1" stop-color="#a9d8e8"/></radialGradient>
<radialGradient id="c2" cx="0.45" cy="0.5" r="0.62"><stop offset="0" stop-color="#e4f1f9"/><stop offset="0.55" stop-color="#a8cdeb"/><stop offset="1" stop-color="#3d7fc4"/></radialGradient>
<radialGradient id="c3" cx="0.4" cy="0.5" r="0.65"><stop offset="0" stop-color="#f6f3fa"/><stop offset="0.5" stop-color="#ddd4ec"/><stop offset="1" stop-color="#b9a9d6"/></radialGradient>
<radialGradient id="c4" cx="0.35" cy="0.5" r="0.7"><stop offset="0" stop-color="#ece6f5"/><stop offset="0.45" stop-color="#b3a2d3"/><stop offset="1" stop-color="#7a62ae"/></radialGradient>
</defs>
<text x="23.6" y="262.9" font-size="6.6" text-anchor="middle" font-weight="bold" textLength="17.8" lengthAdjust="spacingAndGlyphs" fill="#1a1a1a">B-cells</text>
<text x="61.0" y="255.9" font-size="6.6" text-anchor="middle" font-weight="bold" textLength="26.8" lengthAdjust="spacingAndGlyphs" fill="#1a1a1a">Activated</text>
<text x="61.2" y="262.9" font-size="6.6" text-anchor="middle" font-weight="bold" textLength="17.8" lengthAdjust="spacingAndGlyphs" fill="#1a1a1a">B-cells</text>
<text x="102.2" y="262.9" font-size="6.6" text-anchor="middle" font-weight="bold" textLength="35.4" lengthAdjust="spacingAndGlyphs" fill="#1a1a1a">Plasmablasts</text>
<text x="158.2" y="262.9" font-size="6.6" text-anchor="middle" font-weight="bold" textLength="33.8" lengthAdjust="spacingAndGlyphs" fill="#1a1a1a">Plasma Cells</text>
<text x="228.3" y="255.9" font-size="6.6" text-anchor="middle" font-weight="bold" textLength="30.6" lengthAdjust="spacingAndGlyphs" fill="#1a1a1a">Plasma Cell</text>
<text x="228.3" y="262.9" font-size="6.6" text-anchor="middle" font-weight="bold" textLength="35.2" lengthAdjust="spacingAndGlyphs" fill="#1a1a1a">Maintenance</text>
<text x="23.3" y="271.4" font-size="5.6" font-weight="bold" text-anchor="middle" fill="#2f7bc6" textLength="31.2" lengthAdjust="spacingAndGlyphs">CD19<tspan font-size="3.3" dy="-2.5">+</tspan><tspan dy="2.5">CD20</tspan><tspan font-size="3.3" dy="-2.5">++</tspan></text><text x="23.3" y="276.7" font-size="5.6" font-weight="bold" text-anchor="middle" fill="#2f7bc6" textLength="31.6" lengthAdjust="spacingAndGlyphs">CD38<tspan font-size="3.3" dy="-2.5">lo</tspan><tspan dy="2.5">CD138</tspan><tspan font-size="3.3" dy="-2.5">-</tspan></text>
<text x="61.0" y="271.4" font-size="5.6" font-weight="bold" text-anchor="middle" fill="#2f7bc6" textLength="27.8" lengthAdjust="spacingAndGlyphs">CD19<tspan font-size="3.3" dy="-2.5">+</tspan><tspan dy="2.5">CD20</tspan><tspan font-size="3.3" dy="-2.5">-</tspan></text><text x="61.0" y="276.7" font-size="5.6" font-weight="bold" text-anchor="middle" fill="#2f7bc6" textLength="29.0" lengthAdjust="spacingAndGlyphs">CD38<tspan font-size="3.3" dy="-2.5">-</tspan><tspan dy="2.5">CD138</tspan><tspan font-size="3.3" dy="-2.5">-</tspan></text>
<text x="102.0" y="271.1" font-size="5.6" font-weight="bold" text-anchor="middle" fill="#2f7bc6" textLength="27.2" lengthAdjust="spacingAndGlyphs">CD19<tspan font-size="3.3" dy="-2.5">+</tspan><tspan dy="2.5">CD20</tspan><tspan font-size="3.3" dy="-2.5">-</tspan></text><text x="102.0" y="276.4" font-size="5.6" font-weight="bold" text-anchor="middle" fill="#2f7bc6" textLength="32.4" lengthAdjust="spacingAndGlyphs">CD38<tspan font-size="3.3" dy="-2.5">++</tspan><tspan dy="2.5">CD138</tspan><tspan font-size="3.3" dy="-2.5">-</tspan></text>
<text x="157.8" y="271.1" font-size="5.6" font-weight="bold" text-anchor="middle" fill="#2f7bc6" textLength="29.8" lengthAdjust="spacingAndGlyphs">CD19<tspan font-size="3.3" dy="-2.5">+/-</tspan><tspan dy="2.5">CD20</tspan><tspan font-size="3.3" dy="-2.5">-</tspan></text><text x="157.8" y="276.4" font-size="5.6" font-weight="bold" text-anchor="middle" fill="#2f7bc6" textLength="33.2" lengthAdjust="spacingAndGlyphs">CD38<tspan font-size="3.3" dy="-2.5">++</tspan><tspan dy="2.5">CD138</tspan><tspan font-size="3.3" dy="-2.5">+</tspan></text>
<ellipse cx="22.8" cy="292.8" rx="6.5" ry="6.6" fill="url(#c1)" stroke="#b4dbe8" stroke-width="0.5"/>
<g transform="translate(19.4 284.9) rotate(-21) scale(1.0)"><path d="M0 3.1V0L-2.5 -2.0M0 0L2.5 -2.0" fill="none" stroke="#333" stroke-width="1.3" stroke-linecap="round" stroke-linejoin="round"/></g>
<ellipse cx="60.6" cy="292.8" rx="6.5" ry="6.6" fill="url(#c2)"/>
<g transform="translate(57.3 284.9) rotate(-26) scale(1.0)"><path d="M0 3.1V0L-2.5 -2.0M0 0L2.5 -2.0" fill="none" stroke="#333" stroke-width="1.3" stroke-linecap="round" stroke-linejoin="round"/></g>
<ellipse cx="100.8" cy="292.7" rx="9.8" ry="6.6" fill="url(#c3)"/>
<circle cx="105.4" cy="292.6" r="4.4" fill="#bba9da"/>
<path d="M104.6 289.2Q106.2 292.6 104.6 296.0M106.4 289.0Q108.0 292.6 106.4 296.2M108.0 289.6Q109.3 292.6 108.0 295.6" fill="none" stroke="#9a82c8" stroke-width="0.55"/>
<circle cx="96.0" cy="292.5" r="4.4" fill="#f6f3fa" opacity="0.9"/>
<g transform="translate(111.8 285.6) rotate(-15) scale(1.0)"><path d="M0 3.1V0L-2.5 -2.0M0 0L2.5 -2.0" fill="none" stroke="#333" stroke-width="1.3" stroke-linecap="round" stroke-linejoin="round"/></g>
<ellipse cx="159.0" cy="292.3" rx="9.8" ry="6.5" fill="url(#c4)"/>
<circle cx="163.3" cy="292.5" r="4.5" fill="#553889"/>
<path d="M162.4 289.0Q164.0 292.5 162.4 296.0M164.2 288.8Q165.8 292.5 164.2 296.2M165.8 289.4Q167.1 292.5 165.8 295.6" fill="none" stroke="#8a70bc" stroke-width="0.55"/>
<circle cx="155.1" cy="292.3" r="4.5" fill="#e2daef" opacity="0.95"/>
<g transform="translate(143.2 282.6) rotate(-27) scale(1.0)"><path d="M0 3.1V0L-2.5 -2.0M0 0L2.5 -2.0" fill="none" stroke="#333" stroke-width="1.3" stroke-linecap="round" stroke-linejoin="round"/></g>
<g transform="translate(149.1 284.5) rotate(40) scale(1.0)"><path d="M0 3.1V0L-2.5 -2.0M0 0L2.5 -2.0" fill="none" stroke="#333" stroke-width="1.3" stroke-linecap="round" stroke-linejoin="round"/></g>
<g transform="translate(145.2 290.1) rotate(13) scale(1.0)"><path d="M0 3.1V0L-2.5 -2.0M0 0L2.5 -2.0" fill="none" stroke="#333" stroke-width="1.3" stroke-linecap="round" stroke-linejoin="round"/></g>
<g transform="translate(145.2 295.6) rotate(9) scale(1.0)"><path d="M0 3.1V0L-2.5 -2.0M0 0L2.5 -2.0" fill="none" stroke="#333" stroke-width="1.3" stroke-linecap="round" stroke-linejoin="round"/></g>
<ellipse cx="227.3" cy="292.8" rx="9.6" ry="6.3" fill="url(#c4)"/>
<circle cx="231.6" cy="292.9" r="4.3" fill="#573a8b"/>
<path d="M230.8 289.6Q232.4 292.9 230.8 296.2M232.6 289.4Q234.2 292.9 232.6 296.4M234.2 290.0Q235.4 292.9 234.2 295.8" fill="none" stroke="#8a70bc" stroke-width="0.55"/>
<circle cx="223.2" cy="292.7" r="4.3" fill="#e2daef" opacity="0.95"/>
<g transform="translate(211.5 283.3) rotate(-31) scale(1.0)"><path d="M0 3.1V0L-2.5 -2.0M0 0L2.5 -2.0" fill="none" stroke="#333" stroke-width="1.3" stroke-linecap="round" stroke-linejoin="round"/></g>
<g transform="translate(217.3 285.2) rotate(40) scale(1.0)"><path d="M0 3.1V0L-2.5 -2.0M0 0L2.5 -2.0" fill="none" stroke="#333" stroke-width="1.3" stroke-linecap="round" stroke-linejoin="round"/></g>
<g transform="translate(213.5 290.6) rotate(7) scale(1.0)"><path d="M0 3.1V0L-2.5 -2.0M0 0L2.5 -2.0" fill="none" stroke="#333" stroke-width="1.3" stroke-linecap="round" stroke-linejoin="round"/></g>
<g transform="translate(213.5 296.4) rotate(9) scale(1.0)"><path d="M0 3.1V0L-2.5 -2.0M0 0L2.5 -2.0" fill="none" stroke="#333" stroke-width="1.3" stroke-linecap="round" stroke-linejoin="round"/></g>
<text x="23.4" y="309.9" font-size="7" text-anchor="middle" textLength="15.4" lengthAdjust="spacingAndGlyphs" fill="#222">Day 0</text>
<text x="60.7" y="309.9" font-size="7" text-anchor="middle" fill="#222">3</text>
<text x="101.3" y="309.9" font-size="7" text-anchor="middle" fill="#222">6</text>
<text x="158.3" y="309.9" font-size="7" text-anchor="middle" textLength="7.6" lengthAdjust="spacingAndGlyphs" fill="#222">13</text>
<text x="228.4" y="309.9" font-size="7" text-anchor="middle" textLength="7.6" lengthAdjust="spacingAndGlyphs" fill="#222">20</text>
<path d="M22.8 316.6H232" stroke="#111" stroke-width="1.1" fill="none"/>
<path d="M236.6 316.6L231.2 314.2L232.4 316.6L231.2 319.0Z" fill="#111"/>
<path d="M22.8 313.6V319.6M60.7 313.6V319.6M101.3 313.6V319.6M158.3 313.6V319.6M228.8 313.6V319.6" stroke="#111" stroke-width="1.1" fill="none"/>
<path d="M238.5 316.8C250 316.6 256 312 261.5 304.5" stroke="#111" stroke-width="1.0" fill="none"/>
<path d="M238.5 316.8C250 317 256 321.6 261.5 329.2" stroke="#111" stroke-width="1.0" fill="none"/>
<path d="M263.0 301.6L259.4 304.0L262.4 305.6Z" fill="#111"/>
<path d="M263.0 331.8L259.4 329.4L262.4 327.8Z" fill="#111"/>
<path d="M270.0 303.8V329.7H293.8" stroke="#2a2a2a" stroke-width="1.2" fill="none"/>
<filter id="mb" x="-20%" y="-20%" width="140%" height="140%"><feGaussianBlur stdDeviation="0.55"/></filter>
<g filter="url(#mb)">
<path d="M274.6 313.2Q276 312.4 278 314.2Q283 313.4 287.4 314.2Q288.8 316 288.4 320Q288.6 324.6 287.4 326.4Q282 327.4 276 327Q273 326.6 273.2 324.4Q274.6 321.4 274.4 318Z" fill="#2f3ee0"/>
<path d="M275.4 314.4Q277.4 315.6 279 316.4Q283 315 286.6 315.6Q287.8 320 287 325.2Q282 326.2 277 325.6Q275 325 275.6 322Q275.4 318 275.4 314.4Z" fill="#2aa8e0"/>
<path d="M281.2 316.2Q285.6 315.4 286.8 317Q287.4 321 286.4 325Q283 325.8 280.8 325Q280.6 320 281.2 316.2Z" fill="#5ad050"/>
<path d="M275.6 314.2Q278.4 315.6 278.6 318.6Q277.6 320 275.8 319.6Z" fill="#9ae040"/>
<path d="M275.8 322.2Q278.2 321.8 279 324.4Q278.4 326 276 325.8Q275.2 324 275.8 322.2Z" fill="#9ae040"/>
<path d="M282.4 316.6Q285.6 316.2 286.2 318Q286.6 321.4 285.8 324.6Q283.2 325 282.2 323.6Q282 320 282.4 316.6Z" fill="#f0e020"/>
<path d="M283.4 317.0Q285.6 317 285.8 319Q285.8 321.6 285.2 323.4Q283.8 323.6 283.4 322Z" fill="#ff3010"/>
<path d="M275.7 314.4Q277.4 315.4 277.6 317.4Q276.8 318.6 275.8 318.4Z" fill="#ff2a10"/>
<path d="M276.1 323.0Q277.6 323 278 324.6Q277.4 325.6 276.2 325.4Z" fill="#ff2a10"/>
<path d="M277.6 319.2Q279.6 318.4 280.8 319.6Q281 322 280 323.2Q278.2 323.2 277.4 321.6Z" fill="#3548e8"/>
</g>
<text x="270.0" y="299.2" font-size="7.2" textLength="40.8" lengthAdjust="spacingAndGlyphs" fill="#222">Flow Cytometry</text>
<text x="270.0" y="338.4" font-size="7.2" textLength="41.0" lengthAdjust="spacingAndGlyphs" fill="#222">ELISA: IgM, IgG</text>
<rect x="61.3" y="327.3" width="173.5" height="8.1" fill="#f1f1f1" stroke="#333" stroke-width="0.9"/>
<rect x="22.8" y="321.9" width="38.5" height="13.9" fill="#fff" stroke="#222" stroke-width="1.0"/>
<text x="42.2" y="327.4" font-size="5.2" text-anchor="middle" textLength="33.0" lengthAdjust="spacingAndGlyphs" fill="#222">CD40L-L cells +</text>
<text x="41.6" y="333.9" font-size="5.2" text-anchor="middle" textLength="37.0" lengthAdjust="spacingAndGlyphs" fill="#222">F(ab&#8217;)<tspan font-size="3.4" dy="1.2">2</tspan><tspan dy="-1.2"> anti-IgG/M</tspan></text>
<text x="147.4" y="333.6" font-size="5.3" text-anchor="middle" textLength="94.2" lengthAdjust="spacingAndGlyphs" fill="#222">Lipid Mixture 1, MEMAmino Acid supplement</text>
<rect x="22.8" y="336.7" width="78.5" height="6.8" fill="#dcdcdc" stroke="#333" stroke-width="0.9"/>
<text x="62.0" y="342.2" font-size="5.3" text-anchor="middle" textLength="8.8" lengthAdjust="spacingAndGlyphs" fill="#333">IL-2</text>
<rect x="22.8" y="344.8" width="135.5" height="7.3" fill="#c2c2c2" stroke="#333" stroke-width="0.9"/>
<text x="90.6" y="350.2" font-size="5.3" text-anchor="middle" textLength="10.6" lengthAdjust="spacingAndGlyphs" fill="#333">IL-21</text>
<rect x="101.3" y="352.7" width="133.7" height="8.0" fill="#a3a3a3" stroke="#333" stroke-width="0.9"/>
<text x="166.8" y="359.0" font-size="5.3" text-anchor="middle" textLength="21.2" lengthAdjust="spacingAndGlyphs" fill="#222">IL-6+IFN&#945;</text>
</svg></div></body></html>
